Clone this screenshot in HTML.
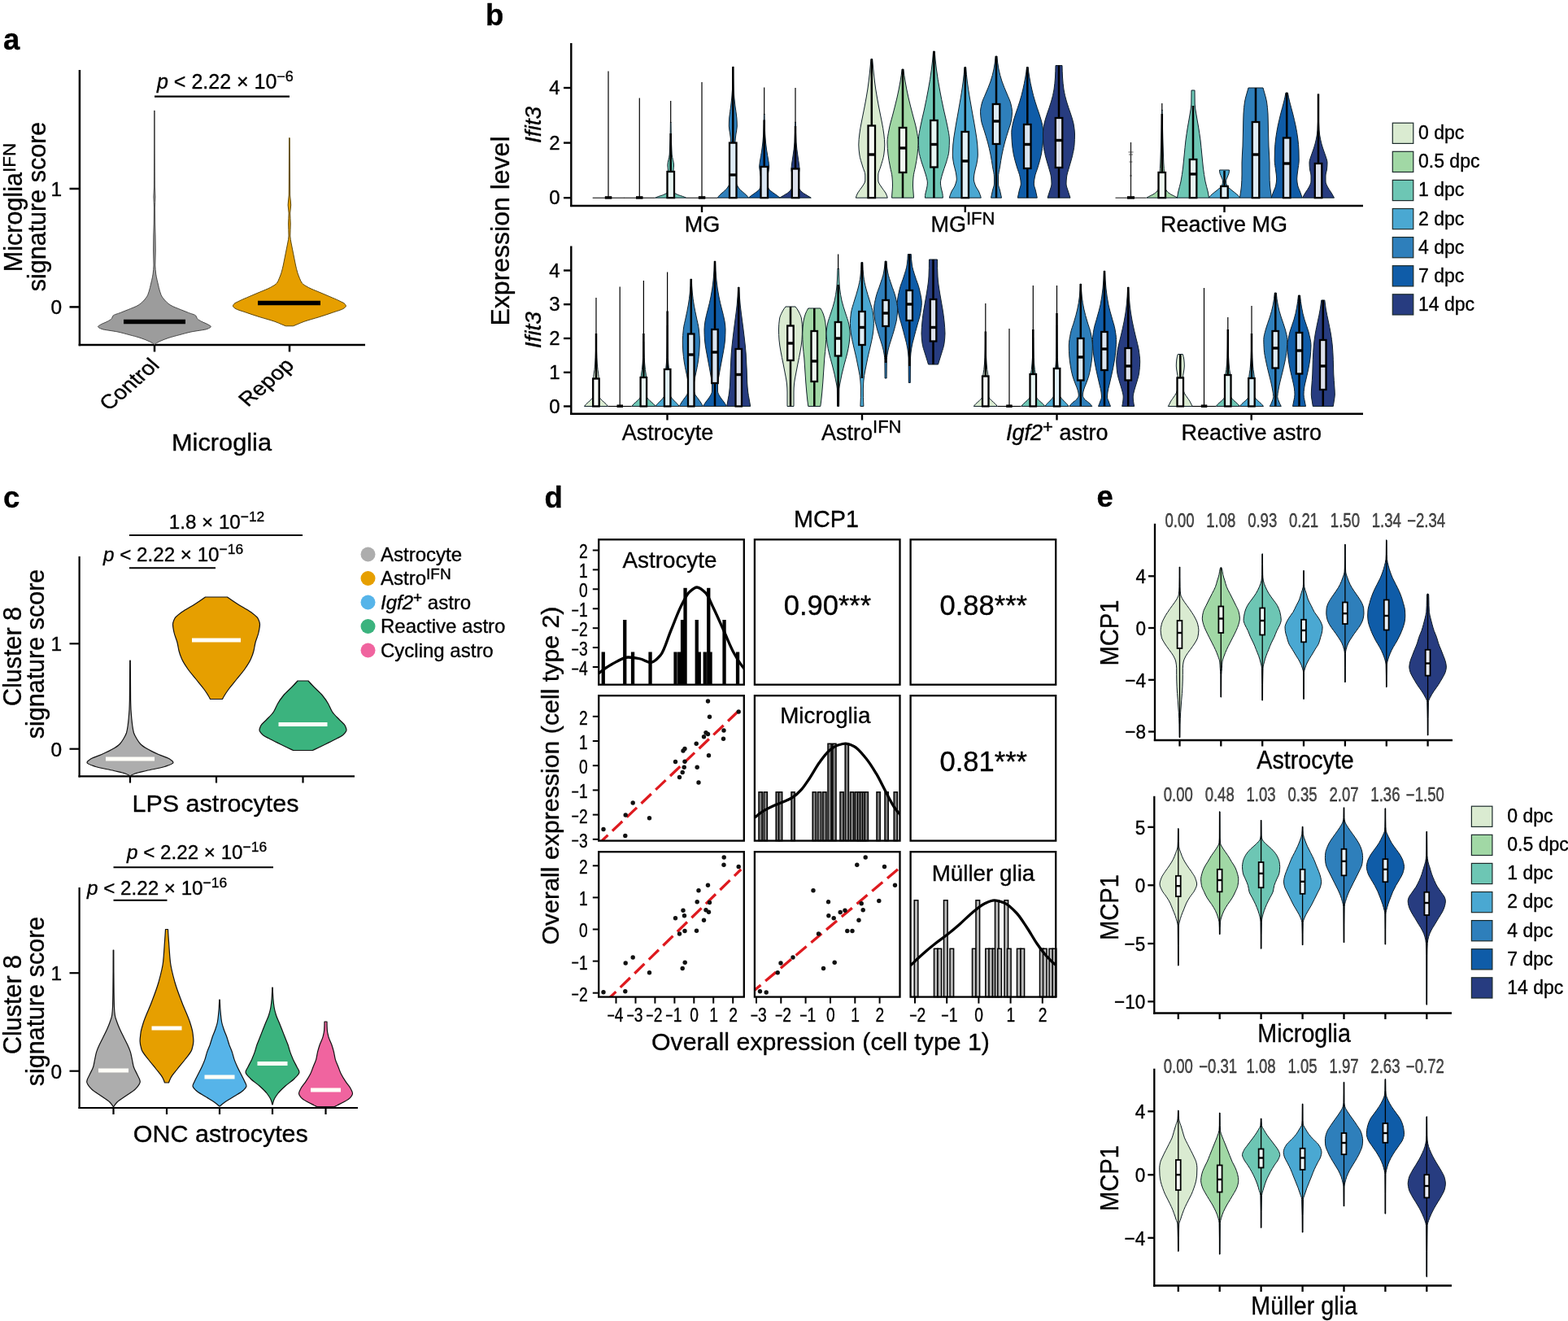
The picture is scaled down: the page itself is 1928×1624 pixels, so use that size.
<!DOCTYPE html>
<html lang="en">
<head>
<meta charset="utf-8">
<title>Figure</title>
<style>
html,body{margin:0;padding:0;background:#fff;}
body{width:1928px;height:1624px;overflow:hidden;}
svg{display:block;}
text{font-family:"Liberation Sans", sans-serif;stroke:#000;stroke-width:0.35px;stroke-linejoin:round;}
</style>
</head>
<body>
<svg width="1928" height="1624" viewBox="0 0 1928 1624" role="img" aria-label="Figure panels a to e">
<rect width="1928" height="1624" fill="#fff"/>
<g id="panel-a">
<text transform="translate(4 60.6)" font-size="36.5" text-anchor="start" font-weight="bold" stroke-width="0">a</text>
<line x1="97.9" y1="86" x2="97.9" y2="425.2" stroke="#000" stroke-width="2.5"/>
<line x1="96.7" y1="424" x2="449" y2="424" stroke="#000" stroke-width="2.5"/>
<line x1="85.5" y1="232" x2="97.9" y2="232" stroke="#000" stroke-width="2.5"/>
<text transform="translate(76 240.8) scale(1.050 1)" font-size="23.3" text-anchor="end">1</text>
<line x1="85.5" y1="377.4" x2="97.9" y2="377.4" stroke="#000" stroke-width="2.5"/>
<text transform="translate(76 386.2) scale(1.050 1)" font-size="23.3" text-anchor="end">0</text>
<line x1="190" y1="424" x2="190" y2="432.5" stroke="#000" stroke-width="2.5"/>
<line x1="356" y1="424" x2="356" y2="432.5" stroke="#000" stroke-width="2.5"/>
<path d="M190.2 136C190.2 167.3 190.2 198.7 190.4 230C190.4 234 190.9 238 190.9 242C190.9 246.3 190.4 250.7 190.4 255C190.4 261.7 190.5 268.3 190.6 275C190.7 280 190.9 285 191 290C191.1 296 191.2 302 191.2 308C191.2 314 190.8 320 190.8 326C190.8 329.7 191.3 333.3 191.7 337C192 339.5 192.7 342 193.2 344.5C193.8 347.5 194.5 350.5 195.3 353.5C196.1 356.5 196.8 359.6 198.1 362.6C199.2 365.1 201.2 367.5 203.5 370C205.1 371.8 207.1 373.5 209.9 375.3C212.8 377.1 218.2 379 222.6 380.8C225.5 382 228.6 383.2 231.6 384.4C234.6 385.6 239.7 386.8 240.7 388C241.7 389.2 241.6 390.5 242.5 391.7C243.4 392.9 245.8 394.1 247.9 395.3C250.1 396.5 253.9 397.8 255.9 399C257.3 399.9 259.3 400.7 259.3 401.6C259.3 402.5 257.1 403.5 254.9 404.4C252 405.6 240.4 406.8 234.9 408C229.4 409.2 225.4 410.4 220.9 411.6C216.4 412.8 211.6 414 207.9 415.2C204 416.5 200.8 417.7 197.9 419C195.9 419.9 194 420.7 192.6 421.6C191.6 422.2 190.8 422.8 190.2 423.4L189.6 423.4C189 422.8 188.2 422.2 187.2 421.6C185.8 420.7 183.9 419.9 181.9 419C179 417.7 175.8 416.5 171.9 415.2C168.2 414 163.4 412.8 158.9 411.6C154.4 410.4 150.4 409.2 144.9 408C139.4 406.8 127.8 405.6 124.9 404.4C122.7 403.5 120.5 402.5 120.5 401.6C120.5 400.7 122.5 399.9 123.9 399C125.9 397.8 129.7 396.5 131.9 395.3C134 394.1 136.4 392.9 137.3 391.7C138.2 390.5 138.1 389.2 139.1 388C140.1 386.8 145.2 385.6 148.2 384.4C151.2 383.2 154.3 382 157.2 380.8C161.6 379 167 377.1 169.9 375.3C172.7 373.5 174.7 371.8 176.3 370C178.6 367.5 180.6 365.1 181.7 362.6C183 359.6 183.7 356.5 184.5 353.5C185.3 350.5 186 347.5 186.6 344.5C187.1 342 187.8 339.5 188.1 337C188.5 333.3 189 329.7 189 326C189 320 188.6 314 188.6 308C188.6 302 188.7 296 188.8 290C188.9 285 189.1 280 189.2 275C189.3 268.3 189.4 261.7 189.4 255C189.4 250.7 188.9 246.3 188.9 242C188.9 238 189.4 234 189.4 230C189.6 198.7 189.6 167.3 189.6 136Z" fill="#9C9C9C" stroke="#3a3a3a" stroke-width="0.9" stroke-linejoin="round"/>
<path d="M356.2 169.5C356.3 188 356.4 206.5 356.5 225C356.5 230 356.5 235 356.6 240C356.7 244 357.7 248 357.7 252C357.7 255.3 356.7 258.7 356.7 262C356.7 266.3 357.2 270.7 357.2 275C357.2 280 356.8 285 356.8 290C356.8 293 357.6 296 358.1 299C358.6 302 359.3 305 359.9 308C360.5 311 361.1 314 361.7 317C362.3 320 362.8 323 363.5 326C364.2 329.1 364.9 332.3 365.9 335.4C366.6 337.8 367.6 340.2 368.6 342.6C369.4 344.4 370 346.2 371.3 348C372.7 349.8 376.2 351.7 379.5 353.5C382.8 355.3 387.9 357.2 392.2 359C396.4 360.8 400.7 362.6 404.9 364.4C409.2 366.3 413.9 368.1 417.6 370C419.9 371.2 422.9 372.3 423.9 373.5C424.6 374.4 425.4 375.3 425.4 376.2C425.4 377.1 424.1 378.1 422.9 379C420.6 380.8 413.6 382.6 408.5 384.4C403.4 386.2 397.9 388 392.2 389.8C386.4 391.6 379 393.5 373.9 395.3C370.5 396.5 367.9 397.8 364.9 399C363.4 399.6 361.9 400.2 360.4 400.8L351.4 400.8C349.9 400.2 348.4 399.6 346.9 399C343.9 397.8 341.3 396.5 337.9 395.3C332.8 393.5 325.4 391.6 319.6 389.8C313.9 388 308.4 386.2 303.3 384.4C298.2 382.6 291.2 380.8 288.9 379C287.7 378.1 286.4 377.1 286.4 376.2C286.4 375.3 287.2 374.4 287.9 373.5C288.9 372.3 291.9 371.2 294.2 370C297.9 368.1 302.6 366.3 306.9 364.4C311.1 362.6 315.4 360.8 319.6 359C323.9 357.2 329 355.3 332.3 353.5C335.6 351.7 339.1 349.8 340.5 348C341.8 346.2 342.4 344.4 343.2 342.6C344.2 340.2 345.2 337.8 345.9 335.4C346.9 332.3 347.6 329.1 348.3 326C349 323 349.5 320 350.1 317C350.7 314 351.3 311 351.9 308C352.5 305 353.2 302 353.7 299C354.2 296 355 293 355 290C355 285 354.6 280 354.6 275C354.6 270.7 355.1 266.3 355.1 262C355.1 258.7 354.1 255.3 354.1 252C354.1 248 355.1 244 355.2 240C355.3 235 355.3 230 355.3 225C355.4 206.5 355.5 188 355.6 169.5Z" fill="#E69F00" stroke="#4a3800" stroke-width="0.9" stroke-linejoin="round"/>
<line x1="152" y1="395.5" x2="228" y2="395.5" stroke="#000" stroke-width="5.5"/>
<line x1="317" y1="372.5" x2="394" y2="372.5" stroke="#000" stroke-width="5.5"/>
<line x1="190" y1="118.7" x2="356" y2="118.7" stroke="#000" stroke-width="2.3"/>
<text transform="translate(193 108.8)" font-size="25" text-anchor="start"><tspan font-style="italic">p</tspan> &lt; 2.22 × 10<tspan font-size="18" dy="-9">−6</tspan></text>
<text transform="translate(197.5 450.5) scale(1.150 1) rotate(-45)" font-size="24.3" text-anchor="end">Control</text>
<text transform="translate(363 450.5) scale(1.150 1) rotate(-45)" font-size="24.3" text-anchor="end">Repop</text>
<text transform="translate(272.5 554) scale(1.040 1)" font-size="29.6" text-anchor="middle">Microglia</text>
<text transform="translate(27.3 255) rotate(-90)" font-size="30.5" text-anchor="middle">Microglia<tspan font-size="22.5" dy="-8.3">IFN</tspan></text>
<text transform="translate(56 254) rotate(-90)" font-size="30.5" text-anchor="middle">signature score</text>
</g>
<g id="panel-c">
<text transform="translate(4 624.3)" font-size="36.5" text-anchor="start" font-weight="bold" stroke-width="0">c</text>
<line x1="97.6" y1="684" x2="97.6" y2="955.4" stroke="#000" stroke-width="2.2"/>
<line x1="96.5" y1="954.3" x2="436" y2="954.3" stroke="#000" stroke-width="2.2"/>
<line x1="85.5" y1="791.3" x2="97.6" y2="791.3" stroke="#000" stroke-width="2.2"/>
<text transform="translate(76 800.1) scale(1.050 1)" font-size="23.3" text-anchor="end">1</text>
<line x1="85.5" y1="920.7" x2="97.6" y2="920.7" stroke="#000" stroke-width="2.2"/>
<text transform="translate(76 929.5) scale(1.050 1)" font-size="23.3" text-anchor="end">0</text>
<line x1="160" y1="954.3" x2="160" y2="962.5" stroke="#000" stroke-width="2.2"/>
<line x1="266" y1="954.3" x2="266" y2="962.5" stroke="#000" stroke-width="2.2"/>
<line x1="372.5" y1="954.3" x2="372.5" y2="962.5" stroke="#000" stroke-width="2.2"/>
<path d="M160.3 812C160.3 828 160.4 844 160.6 860C160.7 864.2 160.8 868.3 161 872.5C161.2 876 161.5 879.5 161.8 883C162.1 886 162.4 889 162.8 892C163.2 895 163.7 898 164.5 901C165.2 903.3 166.6 905.7 168 908C169.4 910.3 170.8 912.7 173 915C174.6 916.7 177.3 918.3 180 920C184.1 922.5 189.4 925 195 927.5C198.7 929.2 205 930.8 207.5 932.5C210 934.2 213 935.8 213 937.5C213 939.2 207.3 940.8 202.5 942.5C197.7 944.2 187 945.8 180 947.5C175.1 948.7 169 949.8 166 951C163.4 952 161.2 953 160.3 954L159.7 954C158.8 953 156.6 952 154 951C151 949.8 144.9 948.7 140 947.5C133 945.8 122.3 944.2 117.5 942.5C112.7 940.8 107 939.2 107 937.5C107 935.8 110 934.2 112.5 932.5C115 930.8 121.3 929.2 125 927.5C130.6 925 135.9 922.5 140 920C142.7 918.3 145.4 916.7 147 915C149.2 912.7 150.6 910.3 152 908C153.4 905.7 154.8 903.3 155.5 901C156.3 898 156.8 895 157.2 892C157.6 889 157.9 886 158.2 883C158.5 879.5 158.8 876 159 872.5C159.2 868.3 159.3 864.2 159.4 860C159.6 844 159.7 828 159.7 812Z" fill="#ADADAD" stroke="#111" stroke-width="1.2" stroke-linejoin="round"/>
<path d="M279.5 734C283.4 736.8 287.6 739.7 292 742.5C297.2 745.8 304.1 749.2 308.5 752.5C311.8 755 315.7 757.5 317 760C318.3 762.5 319.5 765 319.5 767.5C319.5 770.8 318.7 774.2 318 777.5C317.2 781.7 315 785.8 314 790C313.2 793.3 312.8 796.7 312 800C311.2 803.3 310 806.7 308.5 810C306.7 814.2 303.9 818.3 301 822.5C298.1 826.7 294.3 830.8 291 835C287.7 839.2 284 843.3 281 847.5C279.2 850 277.5 852.5 276 855C275.1 856.5 274.3 858 273.5 859.5L258.5 859.5C257.7 858 256.9 856.5 256 855C254.5 852.5 252.8 850 251 847.5C248 843.3 244.3 839.2 241 835C237.7 830.8 233.9 826.7 231 822.5C228.1 818.3 225.3 814.2 223.5 810C222 806.7 220.8 803.3 220 800C219.2 796.7 218.8 793.3 218 790C217 785.8 214.8 781.7 214 777.5C213.3 774.2 212.5 770.8 212.5 767.5C212.5 765 213.7 762.5 215 760C216.3 757.5 220.2 755 223.5 752.5C227.9 749.2 234.8 745.8 240 742.5C244.4 739.7 248.6 736.8 252.5 734Z" fill="#E69F00" stroke="#111" stroke-width="1.2" stroke-linejoin="round"/>
<path d="M379 837C381.4 839.7 383.9 842.3 386.5 845C389.7 848.3 393.8 851.7 396.5 855C399.2 858.3 401.6 861.7 403.5 865C405.4 868.3 406.4 871.7 408.5 875C410.6 878.3 414.4 881.7 417.5 885C419.8 887.5 423.4 890 424.5 892.5C425.2 894.2 426 895.8 426 897.5C426 899.6 423.7 901.7 421.5 903.8C419.3 905.8 414 907.9 410 910C405.2 912.5 400.1 915 395 917.5C391.6 919.2 388.1 920.8 384.5 922.5L360.5 922.5C356.9 920.8 353.4 919.2 350 917.5C344.9 915 339.8 912.5 335 910C331 907.9 325.7 905.8 323.5 903.8C321.3 901.7 319 899.6 319 897.5C319 895.8 319.8 894.2 320.5 892.5C321.6 890 325.2 887.5 327.5 885C330.6 881.7 334.4 878.3 336.5 875C338.6 871.7 339.6 868.3 341.5 865C343.4 861.7 345.8 858.3 348.5 855C351.2 851.7 355.3 848.3 358.5 845C361.1 842.3 363.6 839.7 366 837Z" fill="#3BB37E" stroke="#111" stroke-width="1.2" stroke-linejoin="round"/>
<line x1="130" y1="933" x2="190" y2="933" stroke="#FFFEF8" stroke-width="5"/>
<line x1="236" y1="787" x2="296" y2="787" stroke="#FFFEF8" stroke-width="5"/>
<line x1="342.5" y1="890.5" x2="402.5" y2="890.5" stroke="#FFFEF8" stroke-width="5"/>
<line x1="159" y1="658" x2="372" y2="658" stroke="#000" stroke-width="2"/>
<line x1="159" y1="698.2" x2="265" y2="698.2" stroke="#000" stroke-width="2"/>
<text transform="translate(266.5 650)" font-size="24.2" text-anchor="middle">1.8 × 10<tspan font-size="17.4" dy="-8.7">−12</tspan></text>
<text transform="translate(127 690)" font-size="24.2" text-anchor="start"><tspan font-style="italic">p</tspan> &lt; 2.22 × 10<tspan font-size="17.4" dy="-8.7">−16</tspan></text>
<text transform="translate(265 997.5) scale(1.040 1)" font-size="29.3" text-anchor="middle">LPS astrocytes</text>
<text transform="translate(25.5 807) rotate(-90)" font-size="30.5" text-anchor="middle">Cluster 8</text>
<text transform="translate(54 804) rotate(-90)" font-size="30.5" text-anchor="middle">signature score</text>
<circle cx="452.5" cy="681.5" r="9" fill="#ADADAD"/>
<text transform="translate(468 689.8)" font-size="24" text-anchor="start">Astrocyte</text>
<circle cx="452.5" cy="711" r="9" fill="#E69F00"/>
<text transform="translate(468 719.3)" font-size="24" text-anchor="start">Astro<tspan font-size="19" dy="-7.5">IFN</tspan></text>
<circle cx="452.5" cy="740.5" r="9" fill="#56B4E9"/>
<text transform="translate(468 748.8)" font-size="24" text-anchor="start"><tspan font-style="italic">Igf2</tspan><tspan font-size="19" dy="-7.5">+</tspan><tspan dy="7.5"> astro</tspan></text>
<circle cx="452.5" cy="770" r="9" fill="#3BB37E"/>
<text transform="translate(468 778.3)" font-size="24" text-anchor="start">Reactive astro</text>
<circle cx="452.5" cy="799.5" r="9" fill="#F0649F"/>
<text transform="translate(468 807.8)" font-size="24" text-anchor="start">Cycling astro</text>
<line x1="97.6" y1="1091" x2="97.6" y2="1363.1" stroke="#000" stroke-width="2.2"/>
<line x1="96.5" y1="1362" x2="440" y2="1362" stroke="#000" stroke-width="2.2"/>
<line x1="85.5" y1="1196.2" x2="97.6" y2="1196.2" stroke="#000" stroke-width="2.2"/>
<text transform="translate(76 1205) scale(1.050 1)" font-size="23.3" text-anchor="end">1</text>
<line x1="85.5" y1="1316.7" x2="97.6" y2="1316.7" stroke="#000" stroke-width="2.2"/>
<text transform="translate(76 1325.5) scale(1.050 1)" font-size="23.3" text-anchor="end">0</text>
<line x1="139.5" y1="1362" x2="139.5" y2="1370" stroke="#000" stroke-width="2.2"/>
<line x1="205" y1="1362" x2="205" y2="1370" stroke="#000" stroke-width="2.2"/>
<line x1="270" y1="1362" x2="270" y2="1370" stroke="#000" stroke-width="2.2"/>
<line x1="335" y1="1362" x2="335" y2="1370" stroke="#000" stroke-width="2.2"/>
<line x1="400.5" y1="1362" x2="400.5" y2="1370" stroke="#000" stroke-width="2.2"/>
<path d="M139.8 1168C139.8 1185.3 139.9 1202.7 140.1 1220C140.2 1226 140.3 1232 140.5 1238C140.6 1241.3 140.9 1244.7 141.3 1248C141.7 1251 143 1254 144 1257C145 1260 146.4 1263 147.7 1266C149.1 1269.1 150.7 1272.1 152.2 1275.2C153.7 1278.2 155.3 1281.3 156.7 1284.3C158.1 1287.3 159.5 1290.4 160.4 1293.4C161.3 1296.4 161.8 1299.4 162.4 1302.4C163.1 1305.4 163.4 1308.5 164.3 1311.5C165.2 1314.5 167.2 1317.6 168.5 1320.6C169.8 1323.6 172.3 1326.7 172.3 1329.7C172.3 1332.7 169.3 1335.7 166.7 1338.7C164.1 1341.7 158.2 1344.8 154 1347.8C150.7 1350.2 146.3 1352.6 144 1355C142.2 1356.8 140.7 1358.7 139.8 1360.5L139.2 1360.5C138.3 1358.7 136.8 1356.8 135 1355C132.7 1352.6 128.3 1350.2 125 1347.8C120.8 1344.8 114.9 1341.7 112.3 1338.7C109.7 1335.7 106.7 1332.7 106.7 1329.7C106.7 1326.7 109.2 1323.6 110.5 1320.6C111.8 1317.6 113.8 1314.5 114.7 1311.5C115.6 1308.5 115.9 1305.4 116.6 1302.4C117.2 1299.4 117.7 1296.4 118.6 1293.4C119.5 1290.4 120.9 1287.3 122.3 1284.3C123.7 1281.3 125.3 1278.2 126.8 1275.2C128.3 1272.1 129.9 1269.1 131.3 1266C132.6 1263 134 1260 135 1257C136 1254 137.3 1251 137.7 1248C138.1 1244.7 138.4 1241.3 138.5 1238C138.7 1232 138.8 1226 138.9 1220C139.1 1202.7 139.2 1185.3 139.2 1168Z" fill="#ADADAD" stroke="#111" stroke-width="1.2" stroke-linejoin="round"/>
<path d="M206.5 1142.5C206.8 1147.5 207.1 1152.5 207.5 1157.5C208.1 1165.8 208.5 1174.2 209.4 1182.5C210.3 1190.8 212.7 1199.2 215 1207.5C217.3 1215.8 220.6 1224.2 223.8 1232.5C226.9 1240.8 231.2 1249.2 233.8 1257.5C235 1261.7 236.5 1265.8 237 1270C237.4 1273.3 237.9 1276.7 237.9 1280C237.9 1283.3 237 1286.7 236 1290C234.8 1294.2 230.6 1298.3 227.5 1302.5C224.4 1306.7 220.7 1310.8 217.5 1315C214.9 1318.3 211.7 1321.7 210 1325C209 1327 208.1 1329 207.5 1331L202.5 1331C201.9 1329 201 1327 200 1325C198.3 1321.7 195.1 1318.3 192.5 1315C189.3 1310.8 185.6 1306.7 182.5 1302.5C179.4 1298.3 175.2 1294.2 174 1290C173 1286.7 172.1 1283.3 172.1 1280C172.1 1276.7 172.6 1273.3 173 1270C173.5 1265.8 175 1261.7 176.2 1257.5C178.8 1249.2 183.1 1240.8 186.2 1232.5C189.4 1224.2 192.7 1215.8 195 1207.5C197.3 1199.2 199.7 1190.8 200.6 1182.5C201.5 1174.2 201.9 1165.8 202.5 1157.5C202.9 1152.5 203.2 1147.5 203.5 1142.5Z" fill="#E69F00" stroke="#111" stroke-width="1.2" stroke-linejoin="round"/>
<path d="M270.3 1229C270.4 1232.7 270.6 1236.3 270.8 1240C271 1242.7 271.2 1245.3 271.5 1248C271.8 1251 272.1 1254 272.7 1257C273.3 1260 274.4 1263 275.4 1266C276.4 1269.1 277.9 1272.1 279 1275.2C280 1278.2 280.8 1281.3 281.8 1284.3C282.9 1287.3 284.4 1290.4 285.4 1293.4C286.4 1296.4 287 1299.4 288 1302.4C289 1305.4 290.4 1308.5 291.8 1311.5C293.2 1314.5 294.8 1317.6 296.3 1320.6C297.8 1323.6 299.6 1326.7 300.9 1329.7C301.7 1331.5 303 1333.2 303 1335C303 1336.8 300.8 1338.7 299 1340.5C296.7 1342.9 291.8 1345.4 288 1347.8C284.3 1350.2 279.7 1352.6 276.4 1355C274.1 1356.7 272.1 1358.3 270.3 1360L269.7 1360C267.9 1358.3 265.9 1356.7 263.6 1355C260.3 1352.6 255.7 1350.2 252 1347.8C248.2 1345.4 243.3 1342.9 241 1340.5C239.2 1338.7 237 1336.8 237 1335C237 1333.2 238.3 1331.5 239.1 1329.7C240.4 1326.7 242.2 1323.6 243.7 1320.6C245.2 1317.6 246.8 1314.5 248.2 1311.5C249.6 1308.5 251 1305.4 252 1302.4C253 1299.4 253.6 1296.4 254.6 1293.4C255.6 1290.4 257.1 1287.3 258.2 1284.3C259.2 1281.3 260 1278.2 261 1275.2C262.1 1272.1 263.6 1269.1 264.6 1266C265.6 1263 266.7 1260 267.3 1257C267.9 1254 268.2 1251 268.5 1248C268.8 1245.3 269 1242.7 269.2 1240C269.4 1236.3 269.6 1232.7 269.7 1229Z" fill="#56B4E9" stroke="#111" stroke-width="1.2" stroke-linejoin="round"/>
<path d="M335.3 1214C335.3 1218.7 335.6 1223.3 335.9 1228C336.1 1231.7 336.6 1235.3 337.2 1239C337.7 1242 338.6 1245 339.5 1248C340.4 1251 342 1254 343.2 1257C344.4 1260 345.6 1263 346.8 1266C348 1269.1 349.2 1272.1 350.4 1275.2C351.6 1278.2 352.9 1281.3 354 1284.3C355.1 1287.3 355.7 1290.4 356.8 1293.4C357.8 1296.4 359.1 1299.4 360.4 1302.4C361.8 1305.4 363.5 1308.5 365 1311.5C366 1313.7 368 1315.8 368 1318C368 1320.7 364.5 1323.3 362 1326C359.2 1329 354.3 1332 351 1335C347.7 1338 344.3 1341 342 1344C339.7 1347 337.5 1350 336.5 1353C336 1354.6 335.5 1356.2 335.3 1357.8L334.7 1357.8C334.5 1356.2 334 1354.6 333.5 1353C332.5 1350 330.3 1347 328 1344C325.7 1341 322.3 1338 319 1335C315.7 1332 310.8 1329 308 1326C305.5 1323.3 302 1320.7 302 1318C302 1315.8 304 1313.7 305 1311.5C306.5 1308.5 308.2 1305.4 309.6 1302.4C310.9 1299.4 312.2 1296.4 313.2 1293.4C314.3 1290.4 314.9 1287.3 316 1284.3C317.1 1281.3 318.4 1278.2 319.6 1275.2C320.8 1272.1 322 1269.1 323.2 1266C324.4 1263 325.6 1260 326.8 1257C328 1254 329.6 1251 330.5 1248C331.4 1245 332.3 1242 332.8 1239C333.4 1235.3 333.9 1231.7 334.1 1228C334.4 1223.3 334.7 1218.7 334.7 1214Z" fill="#3BB37E" stroke="#111" stroke-width="1.2" stroke-linejoin="round"/>
<path d="M402 1256C402 1259.3 402.1 1262.7 402.3 1266C402.5 1269.1 403.3 1272.1 404.1 1275.2C404.9 1278.2 406.8 1281.3 407.8 1284.3C408.8 1287.3 409.8 1290.4 410.5 1293.4C411.2 1296.4 411.5 1299.4 412.3 1302.4C413.1 1305.4 414.7 1308.5 415.9 1311.5C417.1 1314.5 418 1317.6 419.5 1320.6C421 1323.6 423 1326.7 425 1329.7C427 1332.7 429.9 1335.7 431.4 1338.7C432.3 1340.5 433.5 1342.4 433.5 1344.2C433.5 1346 432 1347.8 430.5 1349.6C429 1351.4 425.4 1353.2 422.3 1355C420.2 1356.2 417.4 1357.5 415 1358.7C413.8 1359.3 412.7 1359.9 411.5 1360.5L389.5 1360.5C388.3 1359.9 387.2 1359.3 386 1358.7C383.6 1357.5 380.8 1356.2 378.7 1355C375.6 1353.2 372 1351.4 370.5 1349.6C369 1347.8 367.5 1346 367.5 1344.2C367.5 1342.4 368.7 1340.5 369.6 1338.7C371.1 1335.7 374 1332.7 376 1329.7C378 1326.7 380 1323.6 381.5 1320.6C383 1317.6 383.9 1314.5 385.1 1311.5C386.3 1308.5 387.9 1305.4 388.7 1302.4C389.5 1299.4 389.8 1296.4 390.5 1293.4C391.2 1290.4 392.2 1287.3 393.2 1284.3C394.2 1281.3 396.1 1278.2 396.9 1275.2C397.7 1272.1 398.5 1269.1 398.7 1266C398.9 1262.7 399 1259.3 399 1256Z" fill="#F0649F" stroke="#111" stroke-width="1.2" stroke-linejoin="round"/>
<line x1="121" y1="1316" x2="158" y2="1316" stroke="#FFFEF8" stroke-width="5"/>
<line x1="186.5" y1="1264" x2="223.5" y2="1264" stroke="#FFFEF8" stroke-width="5"/>
<line x1="251.5" y1="1324" x2="288.5" y2="1324" stroke="#FFFEF8" stroke-width="5"/>
<line x1="316.5" y1="1307.5" x2="353.5" y2="1307.5" stroke="#FFFEF8" stroke-width="5"/>
<line x1="382" y1="1340" x2="419" y2="1340" stroke="#FFFEF8" stroke-width="5"/>
<line x1="139.5" y1="1066.2" x2="336" y2="1066.2" stroke="#000" stroke-width="2"/>
<line x1="139.5" y1="1106.8" x2="205.5" y2="1106.8" stroke="#000" stroke-width="2"/>
<text transform="translate(156 1055.5)" font-size="24.2" text-anchor="start"><tspan font-style="italic">p</tspan> &lt; 2.22 × 10<tspan font-size="17.4" dy="-8.7">−16</tspan></text>
<text transform="translate(107 1099.5)" font-size="24.2" text-anchor="start"><tspan font-style="italic">p</tspan> &lt; 2.22 × 10<tspan font-size="17.4" dy="-8.7">−16</tspan></text>
<text transform="translate(271.3 1404) scale(1.040 1)" font-size="29.3" text-anchor="middle">ONC astrocytes</text>
<text transform="translate(25.5 1235) rotate(-90)" font-size="30.5" text-anchor="middle">Cluster 8</text>
<text transform="translate(54 1231) rotate(-90)" font-size="30.5" text-anchor="middle">signature score</text>
</g>
<g id="panel-b">
<text transform="translate(597 31)" font-size="36.5" text-anchor="start" font-weight="bold" stroke-width="0">b</text>
<line x1="702.3" y1="53" x2="702.3" y2="254.1" stroke="#000" stroke-width="2.4"/>
<line x1="701.2" y1="253" x2="1676" y2="253" stroke="#000" stroke-width="2.4"/>
<line x1="693" y1="108" x2="702.3" y2="108" stroke="#000" stroke-width="2.4"/>
<text transform="translate(688.5 116.2)" font-size="24" text-anchor="end">4</text>
<line x1="693" y1="175.6" x2="702.3" y2="175.6" stroke="#000" stroke-width="2.4"/>
<text transform="translate(688.5 183.8)" font-size="24" text-anchor="end">2</text>
<line x1="693" y1="243.2" x2="702.3" y2="243.2" stroke="#000" stroke-width="2.4"/>
<text transform="translate(688.5 251.4)" font-size="24" text-anchor="end">0</text>
<line x1="863" y1="253" x2="863" y2="261" stroke="#000" stroke-width="2.4"/>
<line x1="1186.8" y1="253" x2="1186.8" y2="261" stroke="#000" stroke-width="2.4"/>
<line x1="1505.5" y1="253" x2="1505.5" y2="261" stroke="#000" stroke-width="2.4"/>
<line x1="728.7" y1="243.2" x2="767.3" y2="243.2" stroke="#000" stroke-width="1.1"/>
<line x1="748" y1="87.5" x2="748" y2="243.2" stroke="#000" stroke-width="1.2"/>
<rect x="743.8" y="241.2" width="8.5" height="3.5" fill="#000" stroke="none" stroke-width="0"/>
<line x1="767" y1="243.2" x2="805.6" y2="243.2" stroke="#000" stroke-width="1.1"/>
<line x1="786.3" y1="120.5" x2="786.3" y2="243.2" stroke="#000" stroke-width="1.2"/>
<rect x="782" y="241.2" width="8.5" height="3.5" fill="#000" stroke="none" stroke-width="0"/>
<path d="M825 150C825 163.3 825.4 176.7 826.2 190C826.5 194.3 828.5 198.7 828.5 203C828.5 205.3 828.1 207.7 827.9 210C827.5 214 826.7 218 826.7 222C826.7 226.7 827.1 231.3 828.2 236C828.5 237.2 831.2 238.3 833.7 239.5C835.1 240.2 837.9 240.8 839.7 241.5C841.2 242.1 842.5 242.6 843.7 243.2L805.7 243.2C806.9 242.6 808.2 242.1 809.7 241.5C811.5 240.8 814.3 240.2 815.7 239.5C818.2 238.3 820.9 237.2 821.2 236C822.3 231.3 822.7 226.7 822.7 222C822.7 218 821.9 214 821.5 210C821.3 207.7 820.9 205.3 820.9 203C820.9 198.7 822.9 194.3 823.2 190C824 176.7 824.4 163.3 824.4 150Z" fill="#6DC6B4" stroke="#10202a" stroke-width="1" stroke-linejoin="round"/>
<line x1="824.7" y1="124" x2="824.7" y2="151" stroke="#000" stroke-width="1.2"/>
<line x1="824.7" y1="164" x2="824.7" y2="211" stroke="#000" stroke-width="2.5"/>
<rect x="820.5" y="211" width="8.5" height="32.2" fill="#E8F6F3" stroke="#000" stroke-width="2.3"/>
<line x1="843.7" y1="243.2" x2="882.3" y2="243.2" stroke="#000" stroke-width="1.1"/>
<line x1="863" y1="101" x2="863" y2="243.2" stroke="#000" stroke-width="1.2"/>
<rect x="858.8" y="241.2" width="8.5" height="3.5" fill="#000" stroke="none" stroke-width="0"/>
<path d="M901.6 82C901.6 91.3 901.8 100.7 902.1 110C902.3 116.7 903.2 123.3 903.9 130C904.4 135 905.6 140 905.9 145C906.1 148.3 906.3 151.7 906.3 155C906.3 158.3 905.3 161.7 904.9 165C904.5 168.3 904 171.7 903.9 175C903.5 183.3 903.3 191.7 903.3 200C903.3 207.3 903.6 214.7 904.3 222C904.6 225 906.4 228 908.3 231C909.4 232.7 911.5 234.3 913.3 236C914.7 237.3 916.6 238.7 917.8 240C918.8 241.1 919.6 242.1 920.3 243.2L882.3 243.2C883 242.1 883.8 241.1 884.8 240C886 238.7 887.9 237.3 889.3 236C891.1 234.3 893.2 232.7 894.3 231C896.2 228 898 225 898.3 222C899 214.7 899.3 207.3 899.3 200C899.3 191.7 899.1 183.3 898.7 175C898.6 171.7 898.1 168.3 897.7 165C897.3 161.7 896.3 158.3 896.3 155C896.3 151.7 896.5 148.3 896.7 145C897 140 898.2 135 898.7 130C899.4 123.3 900.3 116.7 900.5 110C900.8 100.7 901 91.3 901 82Z" fill="#2E7FBB" stroke="#10202a" stroke-width="1" stroke-linejoin="round"/>
<line x1="901.3" y1="82" x2="901.3" y2="176" stroke="#000" stroke-width="2.5"/>
<rect x="897" y="175.6" width="8.5" height="67.6" fill="#DEEBF4" stroke="#000" stroke-width="2.3"/>
<line x1="897" y1="215" x2="905.5" y2="215" stroke="#000" stroke-width="3.4"/>
<path d="M940 140C940 148.3 940.3 156.7 940.7 165C941 171.7 941.8 178.3 942.7 185C943.3 189.3 944.3 193.7 944.9 198C945.2 200.3 945.7 202.7 945.7 205C945.7 207.3 945 209.7 944.7 212C944.2 216 943.2 220 943.2 224C943.2 226.7 944.1 229.3 945.2 232C945.9 233.7 948.6 235.3 950.7 237C952.2 238.2 954.2 239.3 955.7 240.5C956.9 241.4 958 242.3 959 243.2L920.4 243.2C921.4 242.3 922.5 241.4 923.7 240.5C925.2 239.3 927.2 238.2 928.7 237C930.8 235.3 933.5 233.7 934.2 232C935.3 229.3 936.2 226.7 936.2 224C936.2 220 935.2 216 934.7 212C934.4 209.7 933.7 207.3 933.7 205C933.7 202.7 934.2 200.3 934.5 198C935.1 193.7 936.1 189.3 936.7 185C937.6 178.3 938.4 171.7 938.7 165C939.1 156.7 939.4 148.3 939.4 140Z" fill="#0F5CA8" stroke="#10202a" stroke-width="1" stroke-linejoin="round"/>
<line x1="939.7" y1="107.5" x2="939.7" y2="141" stroke="#000" stroke-width="1.2"/>
<line x1="939.7" y1="147.5" x2="939.7" y2="205" stroke="#000" stroke-width="2.5"/>
<rect x="935.5" y="205" width="8.5" height="38.2" fill="#D9E5F1" stroke="#000" stroke-width="2.3"/>
<path d="M978.3 150C978.3 158.3 978.6 166.7 979 175C979.3 180.7 980.3 186.3 981 192C981.5 195.7 982.2 199.3 982.6 203C982.8 204.7 983 206.3 983 208C983 211.3 981.5 214.7 981.5 218C981.5 222 981.7 226 982 230C982.2 232 984.1 234 986 236C987.3 237.3 989.9 238.7 992 240C993.7 241.1 995.5 242.1 997.3 243.2L958.7 243.2C960.5 242.1 962.3 241.1 964 240C966.1 238.7 968.7 237.3 970 236C971.9 234 973.8 232 974 230C974.3 226 974.5 222 974.5 218C974.5 214.7 973 211.3 973 208C973 206.3 973.2 204.7 973.4 203C973.8 199.3 974.5 195.7 975 192C975.7 186.3 976.7 180.7 977 175C977.4 166.7 977.7 158.3 977.7 150Z" fill="#273C80" stroke="#10202a" stroke-width="1" stroke-linejoin="round"/>
<line x1="978" y1="108" x2="978" y2="151" stroke="#000" stroke-width="1.2"/>
<line x1="978" y1="155" x2="978" y2="207.5" stroke="#000" stroke-width="2.5"/>
<rect x="973.8" y="207.5" width="8.5" height="35.7" fill="#DCE0EB" stroke="#000" stroke-width="2.3"/>
<path d="M1072.6 72.5C1073.1 78.3 1073.7 84.2 1074.3 90C1075 96.7 1075.8 103.3 1076.8 110C1077.8 116.7 1079.1 123.3 1080.3 130C1081.5 136.7 1083.1 143.3 1084.3 150C1085.2 155 1086.3 160 1086.8 165C1087.3 169.3 1087.8 173.7 1087.8 178C1087.8 182 1087.3 186 1086.8 190C1086.2 195 1084.2 200 1082.8 205C1081.9 208.3 1079.8 211.7 1079.8 215C1079.8 217.3 1079.8 219.7 1079.8 222C1079.8 224.7 1082.2 227.3 1083.8 230C1085.2 232.3 1087.6 234.7 1088.8 237C1089.9 239.1 1090.8 241.1 1091.3 243.2L1052.3 243.2C1052.8 241.1 1053.7 239.1 1054.8 237C1056 234.7 1058.4 232.3 1059.8 230C1061.4 227.3 1063.8 224.7 1063.8 222C1063.8 219.7 1063.8 217.3 1063.8 215C1063.8 211.7 1061.7 208.3 1060.8 205C1059.4 200 1057.4 195 1056.8 190C1056.3 186 1055.8 182 1055.8 178C1055.8 173.7 1056.3 169.3 1056.8 165C1057.3 160 1058.4 155 1059.3 150C1060.5 143.3 1062.1 136.7 1063.3 130C1064.5 123.3 1065.8 116.7 1066.8 110C1067.8 103.3 1068.6 96.7 1069.3 90C1069.9 84.2 1070.5 78.3 1071 72.5Z" fill="#DAEBD1" stroke="#10202a" stroke-width="1" stroke-linejoin="round"/>
<line x1="1071.8" y1="72.5" x2="1071.8" y2="243.2" stroke="#000" stroke-width="2.5"/>
<rect x="1067.5" y="154.5" width="8.5" height="88.7" fill="#F9FCF8" stroke="#000" stroke-width="2.3"/>
<line x1="1067.5" y1="190" x2="1076" y2="190" stroke="#000" stroke-width="3.4"/>
<path d="M1110.8 85C1111.4 90 1112.2 95 1113 100C1114.1 106.7 1115.5 113.3 1117 120C1118.5 126.7 1120.3 133.3 1122 140C1123.7 146.7 1125.9 153.3 1127 160C1127.9 165 1129 170 1129 175C1129 180 1128.5 185 1128 190C1127.5 195 1126.4 200 1125.5 205C1124.7 209.3 1123.3 213.7 1123 218C1122.7 221.3 1122.5 224.7 1122.5 228C1122.5 230.7 1122.8 233.3 1123 236C1123.2 238.4 1123.3 240.8 1123.5 243.2L1096.5 243.2C1096.7 240.8 1096.8 238.4 1097 236C1097.2 233.3 1097.5 230.7 1097.5 228C1097.5 224.7 1097.3 221.3 1097 218C1096.7 213.7 1095.3 209.3 1094.5 205C1093.6 200 1092.5 195 1092 190C1091.5 185 1091 180 1091 175C1091 170 1092.1 165 1093 160C1094.1 153.3 1096.3 146.7 1098 140C1099.7 133.3 1101.5 126.7 1103 120C1104.5 113.3 1105.9 106.7 1107 100C1107.8 95 1108.6 90 1109.2 85Z" fill="#A1D8A5" stroke="#10202a" stroke-width="1" stroke-linejoin="round"/>
<line x1="1110" y1="85" x2="1110" y2="243.2" stroke="#000" stroke-width="2.5"/>
<rect x="1105.8" y="157" width="8.5" height="55" fill="#F0F9F1" stroke="#000" stroke-width="2.3"/>
<line x1="1105.8" y1="182" x2="1114.2" y2="182" stroke="#000" stroke-width="3.4"/>
<path d="M1149.2 63C1149.7 70.3 1150.5 77.7 1151.4 85C1152.4 93.3 1153.9 101.7 1155.4 110C1156.9 118.3 1158.6 126.7 1160.4 135C1161.8 141.7 1163.7 148.3 1164.9 155C1165.9 160.7 1167.4 166.3 1167.4 172C1167.4 176.3 1167.2 180.7 1166.9 185C1166.6 190 1164.8 195 1163.4 200C1162 205 1159.6 210 1158.4 215C1157.6 218.3 1156.4 221.7 1156.4 225C1156.4 227.3 1157 229.7 1157.4 232C1157.8 234 1158.6 236 1158.9 238C1159.1 239.7 1159.4 241.5 1159.4 243.2L1137.4 243.2C1137.4 241.5 1137.7 239.7 1137.9 238C1138.2 236 1139 234 1139.4 232C1139.8 229.7 1140.4 227.3 1140.4 225C1140.4 221.7 1139.2 218.3 1138.4 215C1137.2 210 1134.8 205 1133.4 200C1132 195 1130.2 190 1129.9 185C1129.6 180.7 1129.4 176.3 1129.4 172C1129.4 166.3 1130.9 160.7 1131.9 155C1133.1 148.3 1135 141.7 1136.4 135C1138.2 126.7 1139.9 118.3 1141.4 110C1142.9 101.7 1144.4 93.3 1145.4 85C1146.3 77.7 1147.1 70.3 1147.6 63Z" fill="#6DC6B4" stroke="#10202a" stroke-width="1" stroke-linejoin="round"/>
<line x1="1148.4" y1="63" x2="1148.4" y2="243.2" stroke="#000" stroke-width="2.5"/>
<rect x="1144.2" y="148" width="8.5" height="57.5" fill="#E8F6F3" stroke="#000" stroke-width="2.3"/>
<line x1="1144.2" y1="177.5" x2="1152.7" y2="177.5" stroke="#000" stroke-width="3.4"/>
<path d="M1187.6 82.5C1188 88.3 1188.6 94.2 1189.3 100C1190.1 106.7 1191.2 113.3 1192.3 120C1193.4 126.7 1194.6 133.3 1195.8 140C1197 146.7 1198.3 153.3 1199.3 160C1200.2 166 1201.4 172 1201.8 178C1202 182 1202.3 186 1202.3 190C1202.3 194 1201.5 198 1200.8 202C1200.2 205.3 1198.8 208.7 1198.3 212C1197.9 214.7 1197.3 217.3 1197.3 220C1197.3 222.7 1198.4 225.3 1199.3 228C1200.2 230.7 1202.7 233.3 1203.8 236C1204.8 238.4 1205.7 240.8 1206.3 243.2L1167.3 243.2C1167.9 240.8 1168.8 238.4 1169.8 236C1170.9 233.3 1173.4 230.7 1174.3 228C1175.2 225.3 1176.3 222.7 1176.3 220C1176.3 217.3 1175.7 214.7 1175.3 212C1174.8 208.7 1173.4 205.3 1172.8 202C1172.1 198 1171.3 194 1171.3 190C1171.3 186 1171.6 182 1171.8 178C1172.2 172 1173.4 166 1174.3 160C1175.3 153.3 1176.6 146.7 1177.8 140C1179 133.3 1180.2 126.7 1181.3 120C1182.4 113.3 1183.5 106.7 1184.3 100C1185 94.2 1185.6 88.3 1186 82.5Z" fill="#4AA8D2" stroke="#10202a" stroke-width="1" stroke-linejoin="round"/>
<line x1="1186.8" y1="82.5" x2="1186.8" y2="243.2" stroke="#000" stroke-width="2.5"/>
<rect x="1182.5" y="162" width="8.5" height="81.2" fill="#E2F1F8" stroke="#000" stroke-width="2.3"/>
<line x1="1182.5" y1="198" x2="1191" y2="198" stroke="#000" stroke-width="3.4"/>
<path d="M1225.8 69C1226.2 74.3 1227 79.7 1228 85C1228.9 90 1230.4 95 1232 100C1233.6 105 1236 110 1238 115C1239.7 119.3 1242.1 123.7 1243 128C1243.7 131.2 1244.5 134.3 1244.5 137.5C1244.5 141 1244 144.5 1243.5 148C1242.9 152 1241.2 156 1240 160C1238.5 165 1236.8 170 1235.5 175C1234.2 180 1233 185 1232 190C1231 195 1230.3 200 1229.5 205C1228.8 209.3 1227.5 213.7 1227.5 218C1227.5 220.7 1227.5 223.3 1227.5 226C1227.5 228.7 1228.9 231.3 1229.5 234C1230.2 237.1 1230.9 240.1 1231.5 243.2L1218.5 243.2C1219.1 240.1 1219.8 237.1 1220.5 234C1221.1 231.3 1222.5 228.7 1222.5 226C1222.5 223.3 1222.5 220.7 1222.5 218C1222.5 213.7 1221.2 209.3 1220.5 205C1219.7 200 1219 195 1218 190C1217 185 1215.8 180 1214.5 175C1213.2 170 1211.5 165 1210 160C1208.8 156 1207.1 152 1206.5 148C1206 144.5 1205.5 141 1205.5 137.5C1205.5 134.3 1206.3 131.2 1207 128C1207.9 123.7 1210.3 119.3 1212 115C1214 110 1216.4 105 1218 100C1219.6 95 1221.1 90 1222 85C1223 79.7 1223.8 74.3 1224.2 69Z" fill="#2E7FBB" stroke="#10202a" stroke-width="1" stroke-linejoin="round"/>
<line x1="1225" y1="69" x2="1225" y2="243.2" stroke="#000" stroke-width="2.5"/>
<rect x="1220.8" y="128" width="8.5" height="49" fill="#DEEBF4" stroke="#000" stroke-width="2.3"/>
<line x1="1220.8" y1="149" x2="1229.2" y2="149" stroke="#000" stroke-width="3.4"/>
<path d="M1264.1 82.5C1264.5 86.7 1265.1 90.8 1265.8 95C1266.6 100 1267.7 105 1268.8 110C1269.9 115 1271.3 120 1272.8 125C1274.3 130 1276.2 135 1277.8 140C1279 144 1280.5 148 1281.3 152C1282 155.5 1282.8 159 1282.8 162.5C1282.8 166.7 1282.6 170.8 1282.3 175C1282 180 1281.2 185 1280.3 190C1279.4 195 1277.7 200 1276.3 205C1275.1 209.3 1273 213.7 1272.3 218C1271.8 220.7 1271.3 223.3 1271.3 226C1271.3 228.7 1272.7 231.3 1273.3 234C1274 237.1 1274.7 240.1 1275.3 243.2L1251.3 243.2C1251.9 240.1 1252.6 237.1 1253.3 234C1253.9 231.3 1255.3 228.7 1255.3 226C1255.3 223.3 1254.8 220.7 1254.3 218C1253.6 213.7 1251.5 209.3 1250.3 205C1248.9 200 1247.2 195 1246.3 190C1245.4 185 1244.6 180 1244.3 175C1244 170.8 1243.8 166.7 1243.8 162.5C1243.8 159 1244.6 155.5 1245.3 152C1246.1 148 1247.6 144 1248.8 140C1250.4 135 1252.3 130 1253.8 125C1255.3 120 1256.7 115 1257.8 110C1258.9 105 1260 100 1260.8 95C1261.5 90.8 1262.1 86.7 1262.5 82.5Z" fill="#0F5CA8" stroke="#10202a" stroke-width="1" stroke-linejoin="round"/>
<line x1="1263.3" y1="82.5" x2="1263.3" y2="243.2" stroke="#000" stroke-width="2.5"/>
<rect x="1259" y="153" width="8.5" height="54" fill="#D9E5F1" stroke="#000" stroke-width="2.3"/>
<line x1="1259" y1="177.5" x2="1267.5" y2="177.5" stroke="#000" stroke-width="3.4"/>
<path d="M1306 80.5C1306 85.3 1306.3 90.2 1306.5 95C1306.8 100 1307.3 105 1308 110C1308.7 115 1310.1 120 1311.5 125C1312.9 130 1314.9 135 1316.5 140C1317.7 144 1319.3 148 1320 152C1320.7 156.3 1321.5 160.7 1321.5 165C1321.5 169.3 1321.3 173.7 1321 178C1320.7 182.7 1319.5 187.3 1318.5 192C1317.5 196.7 1315.7 201.3 1314.5 206C1313.4 210 1311.9 214 1311.5 218C1311.2 220.7 1311 223.3 1311 226C1311 228.7 1312.2 231.3 1313 234C1313.9 237.1 1314.9 240.1 1316 243.2L1288 243.2C1289.1 240.1 1290.1 237.1 1291 234C1291.8 231.3 1293 228.7 1293 226C1293 223.3 1292.8 220.7 1292.5 218C1292.1 214 1290.6 210 1289.5 206C1288.3 201.3 1286.5 196.7 1285.5 192C1284.5 187.3 1283.3 182.7 1283 178C1282.7 173.7 1282.5 169.3 1282.5 165C1282.5 160.7 1283.3 156.3 1284 152C1284.7 148 1286.3 144 1287.5 140C1289.1 135 1291.1 130 1292.5 125C1293.9 120 1295.3 115 1296 110C1296.7 105 1297.2 100 1297.5 95C1297.7 90.2 1298 85.3 1298 80.5Z" fill="#273C80" stroke="#10202a" stroke-width="1" stroke-linejoin="round"/>
<line x1="1302" y1="80.5" x2="1302" y2="243.2" stroke="#000" stroke-width="2.5"/>
<rect x="1297.8" y="145" width="8.5" height="61" fill="#DCE0EB" stroke="#000" stroke-width="2.3"/>
<line x1="1297.8" y1="172.5" x2="1306.2" y2="172.5" stroke="#000" stroke-width="3.4"/>
<line x1="1371.5" y1="243.2" x2="1409.5" y2="243.2" stroke="#111" stroke-width="1"/>
<line x1="1390.5" y1="175" x2="1390.5" y2="243.2" stroke="#111" stroke-width="1.2"/>
<line x1="1387.5" y1="187" x2="1393.5" y2="187" stroke="#333" stroke-width="0.8"/>
<line x1="1388" y1="190" x2="1393" y2="190" stroke="#333" stroke-width="0.8"/>
<line x1="1388.5" y1="199" x2="1392.5" y2="199" stroke="#333" stroke-width="0.8"/>
<line x1="1389" y1="216" x2="1392" y2="216" stroke="#333" stroke-width="0.8"/>
<rect x="1386" y="241.2" width="9" height="3.5" fill="#000" stroke="none" stroke-width="0"/>
<path d="M1429.1 135C1429.2 146.7 1429.5 158.3 1429.8 170C1430.1 180 1430.4 190 1430.8 200C1431 205 1431.5 210 1431.6 215C1431.7 219.3 1431.7 223.7 1431.8 228C1431.9 230.3 1433.2 232.7 1434.8 235C1435.7 236.3 1437.7 237.7 1439.8 239C1441.1 239.8 1443.2 240.7 1444.8 241.5C1445.9 242.1 1446.9 242.6 1447.8 243.2L1409.8 243.2C1410.7 242.6 1411.7 242.1 1412.8 241.5C1414.4 240.7 1416.5 239.8 1417.8 239C1419.9 237.7 1421.9 236.3 1422.8 235C1424.4 232.7 1425.7 230.3 1425.8 228C1425.9 223.7 1425.9 219.3 1426 215C1426.1 210 1426.6 205 1426.8 200C1427.2 190 1427.5 180 1427.8 170C1428.1 158.3 1428.4 146.7 1428.5 135Z" fill="#A1D8A5" stroke="#10202a" stroke-width="1" stroke-linejoin="round"/>
<line x1="1428.8" y1="127" x2="1428.8" y2="136" stroke="#000" stroke-width="1.2"/>
<line x1="1428.8" y1="140" x2="1428.8" y2="212" stroke="#000" stroke-width="2.5"/>
<rect x="1424.5" y="212" width="8.5" height="31.2" fill="#F0F9F1" stroke="#000" stroke-width="2.3"/>
<path d="M1469 111C1469 116.7 1469.1 122.3 1469.2 128C1469.3 132 1470.2 136 1470.8 140C1471.6 145.3 1472.7 150.7 1473.6 156C1474.5 161.7 1475.4 167.3 1476.1 173C1476.8 178.7 1477.2 184.3 1477.8 190C1478.3 195.3 1478.8 200.7 1479.4 206C1480.1 211.7 1480.9 217.3 1482 223C1482.8 227.3 1484.4 231.7 1485.3 236C1485.8 238.4 1486.2 240.8 1486.5 243.2L1447.5 243.2C1447.8 240.8 1448.2 238.4 1448.7 236C1449.6 231.7 1451.2 227.3 1452 223C1453.1 217.3 1453.9 211.7 1454.6 206C1455.2 200.7 1455.7 195.3 1456.2 190C1456.8 184.3 1457.2 178.7 1457.9 173C1458.6 167.3 1459.5 161.7 1460.4 156C1461.3 150.7 1462.4 145.3 1463.2 140C1463.8 136 1464.7 132 1464.8 128C1464.9 122.3 1465 116.7 1465 111Z" fill="#6DC6B4" stroke="#10202a" stroke-width="1" stroke-linejoin="round"/>
<line x1="1467" y1="130" x2="1467" y2="196" stroke="#000" stroke-width="2.5"/>
<rect x="1462.8" y="196" width="8.5" height="47.2" fill="#E8F6F3" stroke="#000" stroke-width="2.3"/>
<line x1="1462.8" y1="214" x2="1471.2" y2="214" stroke="#000" stroke-width="3.4"/>
<path d="M1511.5 209C1511.5 210.3 1511.2 211.7 1511 213C1510.7 214.7 1509.6 216.3 1509 218C1508.4 219.7 1507.5 221.3 1507.5 223C1507.5 224.7 1507.9 226.3 1508.5 228C1509.1 229.7 1511.6 231.3 1513.5 233C1515 234.3 1516.9 235.7 1518.5 237C1519.9 238.2 1521.5 239.3 1522.5 240.5C1523.3 241.4 1524 242.3 1524.5 243.2L1486.5 243.2C1487 242.3 1487.7 241.4 1488.5 240.5C1489.5 239.3 1491.1 238.2 1492.5 237C1494.1 235.7 1496 234.3 1497.5 233C1499.4 231.3 1501.9 229.7 1502.5 228C1503.1 226.3 1503.5 224.7 1503.5 223C1503.5 221.3 1502.6 219.7 1502 218C1501.4 216.3 1500.3 214.7 1500 213C1499.8 211.7 1499.5 210.3 1499.5 209Z" fill="#4AA8D2" stroke="#10202a" stroke-width="1" stroke-linejoin="round"/>
<line x1="1505.5" y1="210" x2="1505.5" y2="229" stroke="#000" stroke-width="2.5"/>
<rect x="1501.2" y="229" width="8.5" height="14.2" fill="#E2F1F8" stroke="#000" stroke-width="2.3"/>
<path d="M1553 108C1553.7 110.3 1554.4 112.7 1555 115C1555.9 118.3 1557 121.7 1557.5 125C1558.2 130 1558.8 135 1559 140C1559.3 146.7 1559.3 153.3 1559.5 160C1559.7 166.7 1559.8 173.3 1560 180C1560.2 186.7 1561 193.3 1561 200C1561 205 1561 210 1561 215C1561 219.3 1561.2 223.7 1561.5 228C1561.7 230.7 1562.1 233.3 1562.5 236C1562.8 238.4 1563.2 240.8 1563.5 243.2L1524.5 243.2C1524.8 240.8 1525.2 238.4 1525.5 236C1525.9 233.3 1526.3 230.7 1526.5 228C1526.8 223.7 1527 219.3 1527 215C1527 210 1527 205 1527 200C1527 193.3 1527.8 186.7 1528 180C1528.2 173.3 1528.3 166.7 1528.5 160C1528.7 153.3 1528.7 146.7 1529 140C1529.2 135 1529.8 130 1530.5 125C1531 121.7 1532.1 118.3 1533 115C1533.6 112.7 1534.3 110.3 1535 108Z" fill="#2E7FBB" stroke="#10202a" stroke-width="1" stroke-linejoin="round"/>
<line x1="1544" y1="108" x2="1544" y2="150" stroke="#000" stroke-width="2.5"/>
<rect x="1539.8" y="150" width="8.5" height="93.2" fill="#DEEBF4" stroke="#000" stroke-width="2.3"/>
<line x1="1539.8" y1="190" x2="1548.2" y2="190" stroke="#000" stroke-width="3.4"/>
<path d="M1583.4 114C1584.1 117.7 1584.8 121.3 1585.7 125C1586.9 130 1588.5 135 1589.7 140C1590.9 145 1592.2 150 1593.2 155C1594.2 160 1595.1 165 1595.7 170C1596.3 175 1596.9 180 1597 185C1597.1 189 1597.2 193 1597.2 197C1597.2 201.3 1596.2 205.7 1595.7 210C1595.3 213.3 1594.7 216.7 1594.7 220C1594.7 222.7 1595.2 225.3 1595.7 228C1596.2 230.7 1597.7 233.3 1598.7 236C1599.6 238.4 1600.4 240.8 1601.2 243.2L1563.2 243.2C1564 240.8 1564.8 238.4 1565.7 236C1566.7 233.3 1568.2 230.7 1568.7 228C1569.2 225.3 1569.7 222.7 1569.7 220C1569.7 216.7 1569.1 213.3 1568.7 210C1568.2 205.7 1567.2 201.3 1567.2 197C1567.2 193 1567.3 189 1567.4 185C1567.5 180 1568.1 175 1568.7 170C1569.3 165 1570.2 160 1571.2 155C1572.2 150 1573.5 145 1574.7 140C1575.9 135 1577.5 130 1578.7 125C1579.6 121.3 1580.3 117.7 1581 114Z" fill="#0F5CA8" stroke="#10202a" stroke-width="1" stroke-linejoin="round"/>
<line x1="1582.2" y1="114" x2="1582.2" y2="170" stroke="#000" stroke-width="2.5"/>
<rect x="1578" y="169.5" width="8.5" height="73.7" fill="#D9E5F1" stroke="#000" stroke-width="2.3"/>
<line x1="1578" y1="201" x2="1586.5" y2="201" stroke="#000" stroke-width="3.4"/>
<path d="M1621.3 140C1621.3 146.7 1621.6 153.3 1622 160C1622.2 164 1623 168 1623.8 172C1624.4 175.3 1625.5 178.7 1626.5 182C1627.5 185.3 1629 188.7 1630 192C1630.8 194.7 1632 197.3 1632 200C1632 202.7 1631.8 205.3 1631.5 208C1631.2 210.7 1630 213.3 1630 216C1630 218.3 1630 220.7 1630 223C1630 225.3 1631.4 227.7 1632.5 230C1633.6 232.3 1635.6 234.7 1637 237C1638.2 239.1 1639.4 241.1 1640.5 243.2L1601.5 243.2C1602.6 241.1 1603.8 239.1 1605 237C1606.4 234.7 1608.4 232.3 1609.5 230C1610.6 227.7 1612 225.3 1612 223C1612 220.7 1612 218.3 1612 216C1612 213.3 1610.8 210.7 1610.5 208C1610.2 205.3 1610 202.7 1610 200C1610 197.3 1611.2 194.7 1612 192C1613 188.7 1614.5 185.3 1615.5 182C1616.5 178.7 1617.6 175.3 1618.2 172C1619 168 1619.8 164 1620 160C1620.4 153.3 1620.7 146.7 1620.7 140Z" fill="#273C80" stroke="#10202a" stroke-width="1" stroke-linejoin="round"/>
<line x1="1621" y1="115.5" x2="1621" y2="141" stroke="#000" stroke-width="1.2"/>
<line x1="1621" y1="115.5" x2="1621" y2="201" stroke="#000" stroke-width="2.5"/>
<rect x="1616.8" y="201" width="8.5" height="42.2" fill="#DCE0EB" stroke="#000" stroke-width="2.3"/>
<text transform="translate(863.5 284.5)" font-size="27" text-anchor="middle">MG</text>
<text transform="translate(1144.5 284.5)" font-size="27" text-anchor="start">MG<tspan font-size="22" dy="-8.3">IFN</tspan></text>
<text transform="translate(1505 284.5)" font-size="27" text-anchor="middle">Reactive MG</text>
<line x1="702.3" y1="302.5" x2="702.3" y2="509.9" stroke="#000" stroke-width="2.4"/>
<line x1="701.2" y1="508.8" x2="1676" y2="508.8" stroke="#000" stroke-width="2.4"/>
<line x1="693" y1="332.5" x2="702.3" y2="332.5" stroke="#000" stroke-width="2.4"/>
<text transform="translate(688.5 340.7)" font-size="24" text-anchor="end">4</text>
<line x1="693" y1="374.2" x2="702.3" y2="374.2" stroke="#000" stroke-width="2.4"/>
<text transform="translate(688.5 382.4)" font-size="24" text-anchor="end">3</text>
<line x1="693" y1="416" x2="702.3" y2="416" stroke="#000" stroke-width="2.4"/>
<text transform="translate(688.5 424.2)" font-size="24" text-anchor="end">2</text>
<line x1="693" y1="457.8" x2="702.3" y2="457.8" stroke="#000" stroke-width="2.4"/>
<text transform="translate(688.5 466)" font-size="24" text-anchor="end">1</text>
<line x1="693" y1="499.5" x2="702.3" y2="499.5" stroke="#000" stroke-width="2.4"/>
<text transform="translate(688.5 507.7)" font-size="24" text-anchor="end">0</text>
<line x1="820.5" y1="508.8" x2="820.5" y2="516.5" stroke="#000" stroke-width="2.4"/>
<line x1="1060" y1="508.8" x2="1060" y2="516.5" stroke="#000" stroke-width="2.4"/>
<line x1="1299.5" y1="508.8" x2="1299.5" y2="516.5" stroke="#000" stroke-width="2.4"/>
<line x1="1538.7" y1="508.8" x2="1538.7" y2="516.5" stroke="#000" stroke-width="2.4"/>
<path d="M733.3 420C733.3 426.5 733.5 433 733.8 439.5C734 444.5 734.5 449.5 735 454.5C735.3 457.5 736.2 460.5 736.2 463.5C736.2 466.2 735.7 468.8 735.6 471.5C735.4 475.5 735.2 479.5 735.2 483.5C735.2 485.2 736.1 486.8 737 488.5C737.7 489.8 739.2 491.2 740.5 492.5C741.8 493.8 743.7 495.2 745 496.5C746 497.5 746.8 498.5 747.5 499.5L718.5 499.5C719.2 498.5 720 497.5 721 496.5C722.3 495.2 724.2 493.8 725.5 492.5C726.8 491.2 728.3 489.8 729 488.5C729.9 486.8 730.8 485.2 730.8 483.5C730.8 479.5 730.6 475.5 730.4 471.5C730.3 468.8 729.8 466.2 729.8 463.5C729.8 460.5 730.7 457.5 731 454.5C731.5 449.5 732 444.5 732.2 439.5C732.5 433 732.7 426.5 732.7 420Z" fill="#DAEBD1" stroke="#10202a" stroke-width="1" stroke-linejoin="round"/>
<line x1="733" y1="366" x2="733" y2="421" stroke="#000" stroke-width="1.2"/>
<line x1="733" y1="410" x2="733" y2="466" stroke="#000" stroke-width="2.5"/>
<rect x="729.2" y="465.5" width="7.5" height="34" fill="#F9FCF8" stroke="#000" stroke-width="2.3"/>
<line x1="747.7" y1="499.5" x2="776.7" y2="499.5" stroke="#000" stroke-width="1.1"/>
<line x1="762.2" y1="352.5" x2="762.2" y2="499.5" stroke="#000" stroke-width="1.2"/>
<rect x="758.5" y="497.5" width="7.5" height="3.5" fill="#000" stroke="none" stroke-width="0"/>
<path d="M791.7 420C791.7 426.5 791.9 433 792.2 439.5C792.4 444.5 792.9 449.5 793.4 454.5C793.7 457.5 794.6 460.5 794.6 463.5C794.6 466.2 794.1 468.8 794 471.5C793.8 475.5 793.6 479.5 793.6 483.5C793.6 485.2 794.5 486.8 795.4 488.5C796.1 489.8 797.6 491.2 798.9 492.5C800.2 493.8 802.1 495.2 803.4 496.5C804.4 497.5 805.2 498.5 805.9 499.5L776.9 499.5C777.6 498.5 778.4 497.5 779.4 496.5C780.7 495.2 782.6 493.8 783.9 492.5C785.2 491.2 786.7 489.8 787.4 488.5C788.3 486.8 789.2 485.2 789.2 483.5C789.2 479.5 789 475.5 788.8 471.5C788.7 468.8 788.2 466.2 788.2 463.5C788.2 460.5 789.1 457.5 789.4 454.5C789.9 449.5 790.4 444.5 790.6 439.5C790.9 433 791.1 426.5 791.1 420Z" fill="#6DC6B4" stroke="#10202a" stroke-width="1" stroke-linejoin="round"/>
<line x1="791.4" y1="345" x2="791.4" y2="421" stroke="#000" stroke-width="1.2"/>
<line x1="791.4" y1="410" x2="791.4" y2="464" stroke="#000" stroke-width="2.5"/>
<rect x="787.6" y="464" width="7.5" height="35.5" fill="#E8F6F3" stroke="#000" stroke-width="2.3"/>
<path d="M820.9 400C820.9 413.2 821.1 426.3 821.4 439.5C821.5 444.5 822.1 449.5 822.6 454.5C822.9 457.5 823.8 460.5 823.8 463.5C823.8 466.2 823.3 468.8 823.2 471.5C823 475.5 822.8 479.5 822.8 483.5C822.8 484.8 823.8 486.1 824.6 487.4C825.5 488.9 826.8 490.3 828.1 491.8C829.4 493.3 831.3 494.7 832.6 496.2C833.6 497.3 834.4 498.4 835.1 499.5L806.1 499.5C806.8 498.4 807.6 497.3 808.6 496.2C809.9 494.7 811.8 493.3 813.1 491.8C814.4 490.3 815.7 488.9 816.6 487.4C817.4 486.1 818.4 484.8 818.4 483.5C818.4 479.5 818.2 475.5 818 471.5C817.9 468.8 817.4 466.2 817.4 463.5C817.4 460.5 818.3 457.5 818.6 454.5C819.1 449.5 819.7 444.5 819.8 439.5C820.1 426.3 820.3 413.2 820.3 400Z" fill="#4AA8D2" stroke="#10202a" stroke-width="1" stroke-linejoin="round"/>
<line x1="820.6" y1="334.5" x2="820.6" y2="401" stroke="#000" stroke-width="1.2"/>
<line x1="820.6" y1="382.5" x2="820.6" y2="454" stroke="#000" stroke-width="2.5"/>
<rect x="816.9" y="454" width="7.5" height="45.5" fill="#E2F1F8" stroke="#000" stroke-width="2.3"/>
<path d="M850.3 343C850.4 348.7 850.8 354.3 851.3 360C851.7 365 852.5 370 853.3 375C854.1 380 855.3 385 856.3 390C857.3 395 858.8 400 859.3 405C859.8 410 860.3 415 860.3 420C860.3 424 860 428 859.8 432C859.5 436.3 858.9 440.7 858.3 445C857.7 449.3 856.7 453.7 855.8 458C855.1 461.3 854.3 464.7 853.8 468C853.4 471 852.8 474 852.8 477C852.8 479.3 853.5 481.7 854.3 484C855 486 856.9 488 858.3 490C859.4 491.7 860.8 493.3 861.8 495C862.7 496.5 863.6 498 864.3 499.5L835.3 499.5C836 498 836.9 496.5 837.8 495C838.8 493.3 840.2 491.7 841.3 490C842.7 488 844.6 486 845.3 484C846.1 481.7 846.8 479.3 846.8 477C846.8 474 846.2 471 845.8 468C845.3 464.7 844.5 461.3 843.8 458C842.9 453.7 841.9 449.3 841.3 445C840.7 440.7 840.1 436.3 839.8 432C839.6 428 839.3 424 839.3 420C839.3 415 839.8 410 840.3 405C840.8 400 842.3 395 843.3 390C844.3 385 845.5 380 846.3 375C847.1 370 847.9 365 848.3 360C848.8 354.3 849.2 348.7 849.3 343Z" fill="#2E7FBB" stroke="#10202a" stroke-width="1" stroke-linejoin="round"/>
<line x1="849.8" y1="343" x2="849.8" y2="411" stroke="#000" stroke-width="2.5"/>
<rect x="846" y="410.5" width="7.5" height="89" fill="#DEEBF4" stroke="#000" stroke-width="2.3"/>
<line x1="846" y1="436" x2="853.5" y2="436" stroke="#000" stroke-width="3.4"/>
<path d="M879.5 321C879.6 329 880.3 337 881 345C881.6 351.7 882.8 358.3 884 365C884.9 370 886.3 375 887.5 380C888.7 385 890.3 390 891 395C891.5 398.3 892 401.7 892 405C892 409.3 891.8 413.7 891.5 418C891.2 422.7 890.3 427.3 889.5 432C888.6 437.3 887.5 442.7 886.5 448C885.6 452.7 884.7 457.3 884 462C883.4 465.7 882.5 469.3 882.5 473C882.5 475.7 882.5 478.3 882.5 481C882.5 483.3 884.2 485.7 885.5 488C886.6 490 888.6 492 890 494C891.3 495.8 892.4 497.7 893.5 499.5L864.5 499.5C865.6 497.7 866.7 495.8 868 494C869.4 492 871.4 490 872.5 488C873.8 485.7 875.5 483.3 875.5 481C875.5 478.3 875.5 475.7 875.5 473C875.5 469.3 874.6 465.7 874 462C873.3 457.3 872.4 452.7 871.5 448C870.5 442.7 869.4 437.3 868.5 432C867.7 427.3 866.8 422.7 866.5 418C866.2 413.7 866 409.3 866 405C866 401.7 866.5 398.3 867 395C867.7 390 869.3 385 870.5 380C871.7 375 873.1 370 874 365C875.2 358.3 876.4 351.7 877 345C877.7 337 878.4 329 878.5 321Z" fill="#0F5CA8" stroke="#10202a" stroke-width="1" stroke-linejoin="round"/>
<line x1="879" y1="321" x2="879" y2="499.5" stroke="#000" stroke-width="2.5"/>
<rect x="875.2" y="405" width="7.5" height="66" fill="#D9E5F1" stroke="#000" stroke-width="2.3"/>
<line x1="875.2" y1="433" x2="882.8" y2="433" stroke="#000" stroke-width="3.4"/>
<path d="M908.7 353C909 360.3 909.5 367.7 910.2 375C910.8 381.7 911.9 388.3 912.7 395C913.5 401.7 914.5 408.3 915.2 415C915.9 421.7 916.8 428.3 917.2 435C917.6 441.7 917.9 448.3 918.2 455C918.4 460 918.5 465 918.7 470C918.9 474 919.2 478 919.7 482C920 485 920.7 488 921.2 491C921.7 493.8 922.2 496.7 922.7 499.5L893.7 499.5C894.2 496.7 894.7 493.8 895.2 491C895.7 488 896.4 485 896.7 482C897.2 478 897.5 474 897.7 470C897.9 465 898 460 898.2 455C898.5 448.3 898.8 441.7 899.2 435C899.6 428.3 900.5 421.7 901.2 415C901.9 408.3 902.9 401.7 903.7 395C904.5 388.3 905.6 381.7 906.2 375C906.9 367.7 907.4 360.3 907.7 353Z" fill="#273C80" stroke="#10202a" stroke-width="1" stroke-linejoin="round"/>
<line x1="908.2" y1="353" x2="908.2" y2="429" stroke="#000" stroke-width="2.5"/>
<rect x="904.5" y="429" width="7.5" height="70.5" fill="#DCE0EB" stroke="#000" stroke-width="2.3"/>
<line x1="904.5" y1="460.5" x2="912" y2="460.5" stroke="#000" stroke-width="3.4"/>
<path d="M978 377C979.6 379 981 381 982 383C983.5 386 985.1 389 985.5 392C986.1 396.3 986.5 400.7 986.5 405C986.5 409.3 986.3 413.7 986 418C985.7 422.7 984.8 427.3 984 432C983.2 437 982 442 981 447C980.2 451.3 979.3 455.7 978.5 460C977.8 464 976.8 468 976.5 472C976.2 475.3 976 478.7 976 482C976 487.8 976 493.7 976 499.5L968 499.5C968 493.7 968 487.8 968 482C968 478.7 967.8 475.3 967.5 472C967.2 468 966.2 464 965.5 460C964.7 455.7 963.8 451.3 963 447C962 442 960.8 437 960 432C959.2 427.3 958.3 422.7 958 418C957.7 413.7 957.5 409.3 957.5 405C957.5 400.7 957.9 396.3 958.5 392C958.9 389 960.5 386 962 383C963 381 964.4 379 966 377Z" fill="#DAEBD1" stroke="#10202a" stroke-width="1" stroke-linejoin="round"/>
<line x1="972" y1="377" x2="972" y2="499.5" stroke="#000" stroke-width="2.5"/>
<rect x="968.2" y="400.5" width="7.5" height="42.5" fill="#F9FCF8" stroke="#000" stroke-width="2.3"/>
<line x1="968.2" y1="422" x2="975.8" y2="422" stroke="#000" stroke-width="3.4"/>
<path d="M1008.8 379C1010.2 381.3 1011.5 383.7 1012.3 386C1013.4 389.3 1014.4 392.7 1014.8 396C1015.3 400.7 1015.8 405.3 1015.8 410C1015.8 415 1015.5 420 1015.3 425C1015 430 1014.2 435 1013.8 440C1013.4 445 1013.1 450 1012.8 455C1012.5 460 1012.2 465 1011.8 470C1011.5 474 1011.2 478 1010.8 482C1010.5 485.3 1010.2 488.7 1009.8 492C1009.5 494.5 1009.2 497 1008.8 499.5L993.8 499.5C993.4 497 993.1 494.5 992.8 492C992.4 488.7 992.1 485.3 991.8 482C991.4 478 991.1 474 990.8 470C990.4 465 990.1 460 989.8 455C989.5 450 989.2 445 988.8 440C988.4 435 987.5 430 987.3 425C987 420 986.8 415 986.8 410C986.8 405.3 987.3 400.7 987.8 396C988.2 392.7 989.2 389.3 990.3 386C991.1 383.7 992.4 381.3 993.8 379Z" fill="#A1D8A5" stroke="#10202a" stroke-width="1" stroke-linejoin="round"/>
<line x1="1001.3" y1="379" x2="1001.3" y2="499.5" stroke="#000" stroke-width="2.5"/>
<rect x="997.5" y="407" width="7.5" height="62" fill="#F0F9F1" stroke="#000" stroke-width="2.3"/>
<line x1="997.5" y1="444" x2="1005" y2="444" stroke="#000" stroke-width="3.4"/>
<path d="M1031.2 330C1031.3 335 1031.5 340 1031.8 345C1032 348.3 1032.2 351.7 1032.6 355C1033.1 360 1034 365 1035.1 370C1036.2 375 1038.1 380 1039.6 385C1040.9 389.3 1042.8 393.7 1043.6 398C1044.3 402 1045.1 406 1045.1 410C1045.1 414 1044.6 418 1044.1 422C1043.6 426.3 1042.6 430.7 1041.6 435C1040.6 439.3 1039.2 443.7 1038.1 448C1037.1 452 1036 456 1035.1 460C1034.4 463.3 1033.7 466.7 1033.1 470C1032.6 472.7 1031.9 475.3 1031.8 478C1031.7 485.2 1031.6 492.3 1031.6 499.5L1029.6 499.5C1029.6 492.3 1029.5 485.2 1029.4 478C1029.3 475.3 1028.6 472.7 1028.1 470C1027.5 466.7 1026.8 463.3 1026.1 460C1025.2 456 1024.1 452 1023.1 448C1022 443.7 1020.6 439.3 1019.6 435C1018.6 430.7 1017.6 426.3 1017.1 422C1016.6 418 1016.1 414 1016.1 410C1016.1 406 1016.9 402 1017.6 398C1018.4 393.7 1020.3 389.3 1021.6 385C1023.1 380 1025 375 1026.1 370C1027.2 365 1028.1 360 1028.6 355C1029 351.7 1029.2 348.3 1029.4 345C1029.7 340 1029.9 335 1030 330Z" fill="#6DC6B4" stroke="#10202a" stroke-width="1" stroke-linejoin="round"/>
<line x1="1030.6" y1="312.5" x2="1030.6" y2="331" stroke="#000" stroke-width="1.2"/>
<line x1="1030.6" y1="350" x2="1030.6" y2="499.5" stroke="#000" stroke-width="2.5"/>
<rect x="1026.8" y="396" width="7.5" height="41.5" fill="#E8F6F3" stroke="#000" stroke-width="2.3"/>
<line x1="1026.8" y1="416" x2="1034.3" y2="416" stroke="#000" stroke-width="3.4"/>
<path d="M1060.7 322.5C1060.7 328.3 1061.3 334.2 1061.9 340C1062.4 345 1063.7 350 1064.9 355C1066.1 360 1068 365 1069.4 370C1070.8 375 1072.8 380 1073.4 385C1073.9 389.2 1074.4 393.3 1074.4 397.5C1074.4 401.7 1073.9 405.8 1073.4 410C1072.8 415 1071.5 420 1070.4 425C1069.3 430 1068 435 1066.9 440C1065.8 445 1064.8 450 1063.9 455C1063.1 459.3 1062.2 463.7 1061.9 468C1061.7 471.3 1061.4 474.7 1061.4 478C1061.4 485.2 1061.4 492.3 1061.9 499.5L1057.9 499.5C1058.4 492.3 1058.4 485.2 1058.4 478C1058.4 474.7 1058.1 471.3 1057.9 468C1057.6 463.7 1056.7 459.3 1055.9 455C1055 450 1054 445 1052.9 440C1051.8 435 1050.5 430 1049.4 425C1048.3 420 1047 415 1046.4 410C1045.9 405.8 1045.4 401.7 1045.4 397.5C1045.4 393.3 1045.9 389.2 1046.4 385C1047 380 1049 375 1050.4 370C1051.8 365 1053.7 360 1054.9 355C1056.1 350 1057.4 345 1057.9 340C1058.5 334.2 1059.1 328.3 1059.1 322.5Z" fill="#4AA8D2" stroke="#10202a" stroke-width="1" stroke-linejoin="round"/>
<line x1="1059.9" y1="322.5" x2="1059.9" y2="465" stroke="#000" stroke-width="2.5"/>
<rect x="1056.2" y="383" width="7.5" height="41" fill="#E2F1F8" stroke="#000" stroke-width="2.3"/>
<line x1="1056.2" y1="402.5" x2="1063.7" y2="402.5" stroke="#000" stroke-width="3.4"/>
<path d="M1089.9 321C1090.1 325.7 1090.8 330.3 1091.6 335C1092.5 340 1094.5 345 1096.1 350C1097.7 355 1100 360 1101.1 365C1102.2 370 1103.6 375 1103.6 380C1103.6 384 1103.1 388 1102.6 392C1102.1 396.3 1100.7 400.7 1099.6 405C1098.5 409.3 1096.9 413.7 1095.6 418C1094.4 422 1092.9 426 1092.1 430C1091.3 434.2 1090.4 438.3 1090.3 442.5C1090.2 450 1090.1 457.5 1090.1 465L1088.1 465C1088.1 457.5 1088 450 1087.9 442.5C1087.8 438.3 1086.9 434.2 1086.1 430C1085.3 426 1083.8 422 1082.6 418C1081.3 413.7 1079.7 409.3 1078.6 405C1077.5 400.7 1076.1 396.3 1075.6 392C1075.1 388 1074.6 384 1074.6 380C1074.6 375 1076 370 1077.1 365C1078.2 360 1080.5 355 1082.1 350C1083.7 345 1085.7 340 1086.6 335C1087.4 330.3 1088.1 325.7 1088.3 321Z" fill="#2E7FBB" stroke="#10202a" stroke-width="1" stroke-linejoin="round"/>
<line x1="1089.1" y1="321" x2="1089.1" y2="446" stroke="#000" stroke-width="2.5"/>
<rect x="1085.3" y="369" width="7.5" height="32" fill="#DEEBF4" stroke="#000" stroke-width="2.3"/>
<line x1="1085.3" y1="385" x2="1092.8" y2="385" stroke="#000" stroke-width="3.4"/>
<path d="M1120.3 312.5C1120.3 316.7 1120.8 320.8 1121.3 325C1121.9 330 1123.8 335 1125.3 340C1126.8 345 1129.2 350 1130.3 355C1131.6 360.8 1133.3 366.7 1133.3 372.5C1133.3 376.7 1132.5 380.8 1131.8 385C1131 390 1129.1 395 1127.8 400C1126.5 405 1125 410 1123.8 415C1122.7 419.3 1121.4 423.7 1120.8 428C1120.2 432 1119.6 436 1119.5 440C1119.4 450.2 1119.3 460.3 1119.3 470.5L1117.3 470.5C1117.3 460.3 1117.2 450.2 1117.1 440C1117 436 1116.4 432 1115.8 428C1115.2 423.7 1113.9 419.3 1112.8 415C1111.6 410 1110.1 405 1108.8 400C1107.5 395 1105.6 390 1104.8 385C1104.1 380.8 1103.3 376.7 1103.3 372.5C1103.3 366.7 1105 360.8 1106.3 355C1107.4 350 1109.8 345 1111.3 340C1112.8 335 1114.7 330 1115.3 325C1115.8 320.8 1116.3 316.7 1116.3 312.5Z" fill="#0F5CA8" stroke="#10202a" stroke-width="1" stroke-linejoin="round"/>
<line x1="1118.3" y1="312.5" x2="1118.3" y2="450" stroke="#000" stroke-width="2.5"/>
<rect x="1114.5" y="357" width="7.5" height="37" fill="#D9E5F1" stroke="#000" stroke-width="2.3"/>
<line x1="1114.5" y1="374" x2="1122" y2="374" stroke="#000" stroke-width="3.4"/>
<path d="M1152.5 319C1152.5 326 1152.7 333 1153 340C1153.3 346.7 1154.5 353.3 1155.5 360C1156.5 366.7 1158 373.3 1159 380C1159.8 385 1160.6 390 1161 395C1161.4 400 1162 405 1162 410C1162 414 1161.5 418 1161 422C1160.5 426.3 1158.8 430.7 1157.5 435C1156.7 437.7 1155.8 440.3 1155 443C1154.5 444.7 1154 446.3 1153.5 448L1141.5 448C1141 446.3 1140.5 444.7 1140 443C1139.2 440.3 1138.3 437.7 1137.5 435C1136.2 430.7 1134.5 426.3 1134 422C1133.5 418 1133 414 1133 410C1133 405 1133.6 400 1134 395C1134.4 390 1135.2 385 1136 380C1137 373.3 1138.5 366.7 1139.5 360C1140.5 353.3 1141.7 346.7 1142 340C1142.3 333 1142.5 326 1142.5 319Z" fill="#273C80" stroke="#10202a" stroke-width="1" stroke-linejoin="round"/>
<line x1="1147.5" y1="319" x2="1147.5" y2="448" stroke="#000" stroke-width="2.5"/>
<rect x="1143.8" y="368" width="7.5" height="51.5" fill="#DCE0EB" stroke="#000" stroke-width="2.3"/>
<line x1="1143.8" y1="402.5" x2="1151.2" y2="402.5" stroke="#000" stroke-width="3.4"/>
<path d="M1212.1 420C1212.1 426.5 1212.3 433 1212.6 439.5C1212.8 444.5 1213.3 449.5 1213.8 454.5C1214.1 457.5 1215 460.5 1215 463.5C1215 466.2 1214.5 468.8 1214.4 471.5C1214.2 475.5 1214 479.5 1214 483.5C1214 485.2 1214.9 486.8 1215.8 488.5C1216.5 489.8 1218 491.2 1219.3 492.5C1220.6 493.8 1222.5 495.2 1223.8 496.5C1224.8 497.5 1225.6 498.5 1226.3 499.5L1197.3 499.5C1198 498.5 1198.8 497.5 1199.8 496.5C1201.1 495.2 1203 493.8 1204.3 492.5C1205.6 491.2 1207.1 489.8 1207.8 488.5C1208.7 486.8 1209.6 485.2 1209.6 483.5C1209.6 479.5 1209.4 475.5 1209.2 471.5C1209.1 468.8 1208.6 466.2 1208.6 463.5C1208.6 460.5 1209.5 457.5 1209.8 454.5C1210.3 449.5 1210.8 444.5 1211 439.5C1211.3 433 1211.5 426.5 1211.5 420Z" fill="#DAEBD1" stroke="#10202a" stroke-width="1" stroke-linejoin="round"/>
<line x1="1211.8" y1="373" x2="1211.8" y2="421" stroke="#000" stroke-width="1.2"/>
<line x1="1211.8" y1="407.5" x2="1211.8" y2="463" stroke="#000" stroke-width="2.5"/>
<rect x="1208" y="462.5" width="7.5" height="37" fill="#F9FCF8" stroke="#000" stroke-width="2.3"/>
<line x1="1226.5" y1="499.5" x2="1255.5" y2="499.5" stroke="#000" stroke-width="1.1"/>
<line x1="1241" y1="404" x2="1241" y2="499.5" stroke="#000" stroke-width="1.2"/>
<rect x="1237.2" y="497.5" width="7.5" height="3.5" fill="#000" stroke="none" stroke-width="0"/>
<path d="M1270.6 415C1270.6 423.2 1270.8 431.3 1271.1 439.5C1271.3 444.5 1271.8 449.5 1272.3 454.5C1272.6 457.5 1273.5 460.5 1273.5 463.5C1273.5 466.2 1273 468.8 1272.9 471.5C1272.7 475.5 1272.5 479.5 1272.5 483.5C1272.5 485.2 1273.4 486.8 1274.3 488.5C1275 489.8 1276.5 491.2 1277.8 492.5C1279.1 493.8 1281 495.2 1282.3 496.5C1283.3 497.5 1284.1 498.5 1284.8 499.5L1255.8 499.5C1256.5 498.5 1257.3 497.5 1258.3 496.5C1259.6 495.2 1261.5 493.8 1262.8 492.5C1264.1 491.2 1265.6 489.8 1266.3 488.5C1267.2 486.8 1268.1 485.2 1268.1 483.5C1268.1 479.5 1267.9 475.5 1267.7 471.5C1267.6 468.8 1267.1 466.2 1267.1 463.5C1267.1 460.5 1268 457.5 1268.3 454.5C1268.8 449.5 1269.3 444.5 1269.5 439.5C1269.8 431.3 1270 423.2 1270 415Z" fill="#6DC6B4" stroke="#10202a" stroke-width="1" stroke-linejoin="round"/>
<line x1="1270.3" y1="351" x2="1270.3" y2="416" stroke="#000" stroke-width="1.2"/>
<line x1="1270.3" y1="405" x2="1270.3" y2="460" stroke="#000" stroke-width="2.5"/>
<rect x="1266.5" y="460" width="7.5" height="39.5" fill="#E8F6F3" stroke="#000" stroke-width="2.3"/>
<path d="M1299.8 400C1299.8 413.2 1300 426.3 1300.3 439.5C1300.4 444.5 1301 449.5 1301.5 454.5C1301.8 457.5 1302.7 460.5 1302.7 463.5C1302.7 466.2 1302.2 468.8 1302.1 471.5C1301.9 475.5 1301.7 479.5 1301.7 483.5C1301.7 484.8 1302.7 486.1 1303.5 487.4C1304.4 488.9 1305.7 490.3 1307 491.8C1308.3 493.3 1310.2 494.7 1311.5 496.2C1312.5 497.3 1313.3 498.4 1314 499.5L1285 499.5C1285.7 498.4 1286.5 497.3 1287.5 496.2C1288.8 494.7 1290.7 493.3 1292 491.8C1293.3 490.3 1294.6 488.9 1295.5 487.4C1296.3 486.1 1297.3 484.8 1297.3 483.5C1297.3 479.5 1297.1 475.5 1296.9 471.5C1296.8 468.8 1296.3 466.2 1296.3 463.5C1296.3 460.5 1297.2 457.5 1297.5 454.5C1298 449.5 1298.6 444.5 1298.7 439.5C1299 426.3 1299.2 413.2 1299.2 400Z" fill="#4AA8D2" stroke="#10202a" stroke-width="1" stroke-linejoin="round"/>
<line x1="1299.5" y1="351" x2="1299.5" y2="401" stroke="#000" stroke-width="1.2"/>
<line x1="1299.5" y1="385" x2="1299.5" y2="453" stroke="#000" stroke-width="2.5"/>
<rect x="1295.8" y="453" width="7.5" height="46.5" fill="#E2F1F8" stroke="#000" stroke-width="2.3"/>
<path d="M1329.3 349C1329.3 354.3 1329.8 359.7 1330.3 365C1330.8 370 1331.8 375 1332.8 380C1333.8 385 1335.4 390 1336.8 395C1338.2 400 1340.4 405 1341.3 410C1342.2 415 1343.3 420 1343.3 425C1343.3 429.3 1343.1 433.7 1342.8 438C1342.6 442 1341.9 446 1341.3 450C1340.7 454 1339.9 458 1338.8 462C1337.9 465.3 1336.5 468.7 1335.3 472C1334.3 474.7 1332.9 477.3 1332.3 480C1331.8 482 1331.3 484 1331.3 486C1331.3 487.7 1332.6 489.3 1333.8 491C1334.8 492.3 1337.4 493.7 1338.8 495C1340.4 496.5 1341.8 498 1342.8 499.5L1314.8 499.5C1315.8 498 1317.2 496.5 1318.8 495C1320.2 493.7 1322.8 492.3 1323.8 491C1325 489.3 1326.3 487.7 1326.3 486C1326.3 484 1325.8 482 1325.3 480C1324.7 477.3 1323.3 474.7 1322.3 472C1321.1 468.7 1319.7 465.3 1318.8 462C1317.7 458 1316.9 454 1316.3 450C1315.7 446 1315 442 1314.8 438C1314.5 433.7 1314.3 429.3 1314.3 425C1314.3 420 1315.4 415 1316.3 410C1317.2 405 1319.4 400 1320.8 395C1322.2 390 1323.8 385 1324.8 380C1325.8 375 1326.8 370 1327.3 365C1327.8 359.7 1328.3 354.3 1328.3 349Z" fill="#2E7FBB" stroke="#10202a" stroke-width="1" stroke-linejoin="round"/>
<line x1="1328.8" y1="349" x2="1328.8" y2="499.5" stroke="#000" stroke-width="2.5"/>
<rect x="1325" y="416" width="7.5" height="51.5" fill="#DEEBF4" stroke="#000" stroke-width="2.3"/>
<line x1="1325" y1="439" x2="1332.5" y2="439" stroke="#000" stroke-width="3.4"/>
<path d="M1358.5 333C1358.7 340.3 1359.3 347.7 1360 355C1360.6 361.7 1361.7 368.3 1363 375C1364 380 1365.7 385 1367 390C1368.3 395 1370.2 400 1371 405C1371.7 409.2 1372.5 413.3 1372.5 417.5C1372.5 421.7 1372.3 425.8 1372 430C1371.7 435 1370.8 440 1370 445C1369.2 450 1368.1 455 1367 460C1366.1 464.3 1365 468.7 1364 473C1363.3 476 1362.4 479 1362 482C1361.8 484 1361.5 486 1361.5 488C1361.5 489.7 1362.4 491.3 1363 493C1363.7 495.2 1364.6 497.3 1365.5 499.5L1350.5 499.5C1351.4 497.3 1352.3 495.2 1353 493C1353.6 491.3 1354.5 489.7 1354.5 488C1354.5 486 1354.2 484 1354 482C1353.6 479 1352.7 476 1352 473C1351 468.7 1349.9 464.3 1349 460C1347.9 455 1346.8 450 1346 445C1345.2 440 1344.3 435 1344 430C1343.7 425.8 1343.5 421.7 1343.5 417.5C1343.5 413.3 1344.3 409.2 1345 405C1345.8 400 1347.7 395 1349 390C1350.3 385 1352 380 1353 375C1354.3 368.3 1355.4 361.7 1356 355C1356.7 347.7 1357.3 340.3 1357.5 333Z" fill="#0F5CA8" stroke="#10202a" stroke-width="1" stroke-linejoin="round"/>
<line x1="1358" y1="333" x2="1358" y2="499.5" stroke="#000" stroke-width="2.5"/>
<rect x="1354.2" y="408" width="7.5" height="47" fill="#D9E5F1" stroke="#000" stroke-width="2.3"/>
<line x1="1354.2" y1="429" x2="1361.8" y2="429" stroke="#000" stroke-width="3.4"/>
<path d="M1387.7 353C1387.9 360.3 1388.5 367.7 1389.2 375C1389.8 381.7 1391 388.3 1392.2 395C1393.4 401.7 1395.2 408.3 1396.7 415C1397.8 420 1399.5 425 1400.2 430C1400.9 435 1401.7 440 1401.7 445C1401.7 449.3 1401.2 453.7 1400.7 458C1400.2 462 1398.8 466 1397.7 470C1396.8 473.3 1395.5 476.7 1394.7 480C1394.1 482.7 1393.2 485.3 1393.2 488C1393.2 490 1393.5 492 1393.7 494C1393.9 495.8 1394.3 497.7 1394.7 499.5L1379.7 499.5C1380.1 497.7 1380.5 495.8 1380.7 494C1380.9 492 1381.2 490 1381.2 488C1381.2 485.3 1380.3 482.7 1379.7 480C1378.9 476.7 1377.6 473.3 1376.7 470C1375.6 466 1374.2 462 1373.7 458C1373.2 453.7 1372.7 449.3 1372.7 445C1372.7 440 1373.5 435 1374.2 430C1374.9 425 1376.6 420 1377.7 415C1379.2 408.3 1381 401.7 1382.2 395C1383.4 388.3 1384.6 381.7 1385.2 375C1385.9 367.7 1386.5 360.3 1386.7 353Z" fill="#273C80" stroke="#10202a" stroke-width="1" stroke-linejoin="round"/>
<line x1="1387.2" y1="353" x2="1387.2" y2="499.5" stroke="#000" stroke-width="2.5"/>
<rect x="1383.5" y="428" width="7.5" height="39.5" fill="#DCE0EB" stroke="#000" stroke-width="2.3"/>
<line x1="1383.5" y1="450" x2="1391" y2="450" stroke="#000" stroke-width="3.4"/>
<path d="M1454.3 435.5C1455 437.7 1455.6 439.8 1455.8 442C1456.1 444.7 1456.3 447.3 1456.3 450C1456.3 452.7 1455.7 455.3 1455.3 458C1455 460.3 1454.3 462.7 1454.3 465C1454.3 468.3 1454.3 471.7 1454.3 475C1454.3 477.3 1455.1 479.7 1455.8 482C1456.4 484 1458 486 1459.3 488C1460.4 489.7 1461.8 491.3 1462.8 493C1463.6 494.3 1464.1 495.7 1464.8 497C1465.3 497.8 1465.8 498.7 1466.3 499.5L1436.3 499.5C1436.8 498.7 1437.3 497.8 1437.8 497C1438.5 495.7 1439 494.3 1439.8 493C1440.8 491.3 1442.2 489.7 1443.3 488C1444.6 486 1446.2 484 1446.8 482C1447.5 479.7 1448.3 477.3 1448.3 475C1448.3 471.7 1448.3 468.3 1448.3 465C1448.3 462.7 1447.6 460.3 1447.3 458C1446.9 455.3 1446.3 452.7 1446.3 450C1446.3 447.3 1446.5 444.7 1446.8 442C1447 439.8 1447.6 437.7 1448.3 435.5Z" fill="#DAEBD1" stroke="#10202a" stroke-width="1" stroke-linejoin="round"/>
<line x1="1451.3" y1="436" x2="1451.3" y2="465" stroke="#000" stroke-width="2.5"/>
<rect x="1447.5" y="464.5" width="7.5" height="35" fill="#F9FCF8" stroke="#000" stroke-width="2.3"/>
<line x1="1466" y1="499.5" x2="1495" y2="499.5" stroke="#000" stroke-width="1.1"/>
<line x1="1480.5" y1="354" x2="1480.5" y2="499.5" stroke="#000" stroke-width="1.2"/>
<rect x="1476.8" y="497.5" width="7.5" height="3.5" fill="#000" stroke="none" stroke-width="0"/>
<path d="M1510.1 415C1510.1 423.2 1510.3 431.3 1510.6 439.5C1510.8 444.5 1511.3 449.5 1511.8 454.5C1512.1 457.5 1513 460.5 1513 463.5C1513 466.2 1512.5 468.8 1512.4 471.5C1512.2 475.5 1512 479.5 1512 483.5C1512 485.2 1512.9 486.8 1513.8 488.5C1514.5 489.8 1516 491.2 1517.3 492.5C1518.6 493.8 1520.5 495.2 1521.8 496.5C1522.8 497.5 1523.6 498.5 1524.3 499.5L1495.3 499.5C1496 498.5 1496.8 497.5 1497.8 496.5C1499.1 495.2 1501 493.8 1502.3 492.5C1503.6 491.2 1505.1 489.8 1505.8 488.5C1506.7 486.8 1507.6 485.2 1507.6 483.5C1507.6 479.5 1507.4 475.5 1507.2 471.5C1507.1 468.8 1506.6 466.2 1506.6 463.5C1506.6 460.5 1507.5 457.5 1507.8 454.5C1508.3 449.5 1508.8 444.5 1509 439.5C1509.3 431.3 1509.5 423.2 1509.5 415Z" fill="#6DC6B4" stroke="#10202a" stroke-width="1" stroke-linejoin="round"/>
<line x1="1509.8" y1="390" x2="1509.8" y2="416" stroke="#000" stroke-width="1.2"/>
<line x1="1509.8" y1="405" x2="1509.8" y2="461" stroke="#000" stroke-width="2.5"/>
<rect x="1506" y="461" width="7.5" height="38.5" fill="#E8F6F3" stroke="#000" stroke-width="2.3"/>
<path d="M1539.3 420C1539.3 426.5 1539.5 433 1539.8 439.5C1540 444.5 1540.5 449.5 1541 454.5C1541.3 457.5 1542.2 460.5 1542.2 463.5C1542.2 466.2 1541.7 468.8 1541.6 471.5C1541.4 475.5 1541.2 479.5 1541.2 483.5C1541.2 485.2 1542.1 486.8 1543 488.5C1543.7 489.8 1545.2 491.2 1546.5 492.5C1547.8 493.8 1549.7 495.2 1551 496.5C1552 497.5 1552.8 498.5 1553.5 499.5L1524.5 499.5C1525.2 498.5 1526 497.5 1527 496.5C1528.3 495.2 1530.2 493.8 1531.5 492.5C1532.8 491.2 1534.3 489.8 1535 488.5C1535.9 486.8 1536.8 485.2 1536.8 483.5C1536.8 479.5 1536.6 475.5 1536.4 471.5C1536.3 468.8 1535.8 466.2 1535.8 463.5C1535.8 460.5 1536.7 457.5 1537 454.5C1537.5 449.5 1538 444.5 1538.2 439.5C1538.5 433 1538.7 426.5 1538.7 420Z" fill="#4AA8D2" stroke="#10202a" stroke-width="1" stroke-linejoin="round"/>
<line x1="1539" y1="376" x2="1539" y2="421" stroke="#000" stroke-width="1.2"/>
<line x1="1539" y1="410" x2="1539" y2="465" stroke="#000" stroke-width="2.5"/>
<rect x="1535.2" y="465" width="7.5" height="34.5" fill="#E2F1F8" stroke="#000" stroke-width="2.3"/>
<path d="M1569.3 360C1569.6 365 1570.4 370 1571.3 375C1572.2 380 1573.8 385 1575.3 390C1576.8 395 1579.1 400 1580.3 405C1581.3 409.2 1582.8 413.3 1582.8 417.5C1582.8 421.7 1582.6 425.8 1582.3 430C1582 435 1580.8 440 1579.8 445C1579 449.3 1577.8 453.7 1576.8 458C1575.8 462 1574.7 466 1573.8 470C1573.1 473.3 1572.3 476.7 1571.8 480C1571.4 482.5 1570.8 485 1570.8 487.5C1570.8 489.3 1571.7 491.2 1572.3 493C1573 495.2 1574.1 497.3 1575.3 499.5L1561.3 499.5C1562.5 497.3 1563.6 495.2 1564.3 493C1564.9 491.2 1565.8 489.3 1565.8 487.5C1565.8 485 1565.2 482.5 1564.8 480C1564.3 476.7 1563.5 473.3 1562.8 470C1561.9 466 1560.8 462 1559.8 458C1558.8 453.7 1557.6 449.3 1556.8 445C1555.8 440 1554.6 435 1554.3 430C1554 425.8 1553.8 421.7 1553.8 417.5C1553.8 413.3 1555.3 409.2 1556.3 405C1557.5 400 1559.8 395 1561.3 390C1562.8 385 1564.4 380 1565.3 375C1566.2 370 1567 365 1567.3 360Z" fill="#2E7FBB" stroke="#10202a" stroke-width="1" stroke-linejoin="round"/>
<line x1="1568.3" y1="360" x2="1568.3" y2="499.5" stroke="#000" stroke-width="2.5"/>
<rect x="1564.5" y="407" width="7.5" height="45.5" fill="#DEEBF4" stroke="#000" stroke-width="2.3"/>
<line x1="1564.5" y1="428" x2="1572" y2="428" stroke="#000" stroke-width="3.4"/>
<path d="M1598.5 363C1598.9 368 1599.7 373 1600.5 378C1601.3 383 1602.6 388 1604 393C1605.4 398 1607.8 403 1609 408C1610.3 413.7 1612 419.3 1612 425C1612 430 1611.5 435 1611 440C1610.5 445 1609.5 450 1608.5 455C1607.7 459.3 1606.4 463.7 1605.5 468C1604.8 471.3 1603.8 474.7 1603.5 478C1603.3 480.3 1603 482.7 1603 485C1603 487.3 1603.6 489.7 1604 492C1604.4 494.5 1604.9 497 1605.5 499.5L1589.5 499.5C1590.1 497 1590.6 494.5 1591 492C1591.4 489.7 1592 487.3 1592 485C1592 482.7 1591.7 480.3 1591.5 478C1591.2 474.7 1590.2 471.3 1589.5 468C1588.6 463.7 1587.3 459.3 1586.5 455C1585.5 450 1584.5 445 1584 440C1583.5 435 1583 430 1583 425C1583 419.3 1584.7 413.7 1586 408C1587.2 403 1589.6 398 1591 393C1592.4 388 1593.7 383 1594.5 378C1595.3 373 1596.1 368 1596.5 363Z" fill="#0F5CA8" stroke="#10202a" stroke-width="1" stroke-linejoin="round"/>
<line x1="1597.5" y1="363" x2="1597.5" y2="499.5" stroke="#000" stroke-width="2.5"/>
<rect x="1593.8" y="409" width="7.5" height="50.5" fill="#D9E5F1" stroke="#000" stroke-width="2.3"/>
<line x1="1593.8" y1="431" x2="1601.2" y2="431" stroke="#000" stroke-width="3.4"/>
<path d="M1628.8 369C1629.2 372.7 1629.7 376.3 1630.3 380C1631.1 385 1632.3 390 1633.3 395C1634.3 400 1635.5 405 1636.3 410C1637.1 415 1637.9 420 1638.3 425C1638.8 430.8 1639.1 436.7 1639.3 442.5C1639.5 448.3 1639.6 454.2 1639.8 460C1640 465 1640.5 470 1640.8 475C1641 478.3 1641.3 481.7 1641.3 485C1641.3 487.7 1640.7 490.3 1640.3 493C1640 495.2 1639.7 497.3 1639.3 499.5L1614.3 499.5C1613.9 497.3 1613.6 495.2 1613.3 493C1612.9 490.3 1612.3 487.7 1612.3 485C1612.3 481.7 1612.6 478.3 1612.8 475C1613.1 470 1613.6 465 1613.8 460C1614 454.2 1614.1 448.3 1614.3 442.5C1614.5 436.7 1614.8 430.8 1615.3 425C1615.7 420 1616.5 415 1617.3 410C1618.1 405 1619.3 400 1620.3 395C1621.3 390 1622.5 385 1623.3 380C1623.9 376.3 1624.4 372.7 1624.8 369Z" fill="#273C80" stroke="#10202a" stroke-width="1" stroke-linejoin="round"/>
<line x1="1626.8" y1="369" x2="1626.8" y2="499.5" stroke="#000" stroke-width="2.5"/>
<rect x="1623" y="418" width="7.5" height="61" fill="#DCE0EB" stroke="#000" stroke-width="2.3"/>
<line x1="1623" y1="450" x2="1630.5" y2="450" stroke="#000" stroke-width="3.4"/>
<text transform="translate(821 540.5)" font-size="27" text-anchor="middle">Astrocyte</text>
<text transform="translate(1010 540.5)" font-size="27" text-anchor="start">Astro<tspan font-size="22" dy="-8.3">IFN</tspan></text>
<text transform="translate(1237 540.5)" font-size="27" text-anchor="start"><tspan font-style="italic">Igf2</tspan><tspan font-size="22" dy="-8.3">+</tspan><tspan dy="8.3"> astro</tspan></text>
<text transform="translate(1538.7 540.5)" font-size="27" text-anchor="middle">Reactive astro</text>
<text transform="translate(625.5 284) rotate(-90)" font-size="32" text-anchor="middle">Expression level</text>
<text transform="translate(665 153.5) rotate(-90)" font-size="28" text-anchor="middle" font-style="italic">Ifit3</text>
<text transform="translate(665 405.7) rotate(-90)" font-size="28" text-anchor="middle" font-style="italic">Ifit3</text>
<rect x="1712.3" y="151.2" width="25.5" height="25.2" fill="#DAEBD1" stroke="#1c2b2b" stroke-width="1.2"/>
<text transform="translate(1744 171.2)" font-size="23" text-anchor="start">0 dpc</text>
<rect x="1712.3" y="186.3" width="25.5" height="25.2" fill="#A1D8A5" stroke="#1c2b2b" stroke-width="1.2"/>
<text transform="translate(1744 206.3)" font-size="23" text-anchor="start">0.5 dpc</text>
<rect x="1712.3" y="221.4" width="25.5" height="25.2" fill="#6DC6B4" stroke="#1c2b2b" stroke-width="1.2"/>
<text transform="translate(1744 241.4)" font-size="23" text-anchor="start">1 dpc</text>
<rect x="1712.3" y="256.5" width="25.5" height="25.2" fill="#4AA8D2" stroke="#1c2b2b" stroke-width="1.2"/>
<text transform="translate(1744 276.5)" font-size="23" text-anchor="start">2 dpc</text>
<rect x="1712.3" y="291.6" width="25.5" height="25.2" fill="#2E7FBB" stroke="#1c2b2b" stroke-width="1.2"/>
<text transform="translate(1744 311.6)" font-size="23" text-anchor="start">4 dpc</text>
<rect x="1712.3" y="326.7" width="25.5" height="25.2" fill="#0F5CA8" stroke="#1c2b2b" stroke-width="1.2"/>
<text transform="translate(1744 346.7)" font-size="23" text-anchor="start">7 dpc</text>
<rect x="1712.3" y="361.8" width="25.5" height="25.2" fill="#273C80" stroke="#1c2b2b" stroke-width="1.2"/>
<text transform="translate(1744 381.8)" font-size="23" text-anchor="start">14 dpc</text>
</g>
<g id="panel-d">
<text transform="translate(669.5 624.3)" font-size="36.5" text-anchor="start" font-weight="bold" stroke-width="0">d</text>
<text transform="translate(1016 647.7)" font-size="28.8" text-anchor="middle">MCP1</text>
<rect x="739.6" y="801.5" width="4.3" height="40.2" fill="#000" stroke="none" stroke-width="0"/>
<rect x="766.1" y="762" width="4.3" height="79.7" fill="#000" stroke="none" stroke-width="0"/>
<rect x="775.9" y="801.5" width="4.3" height="40.2" fill="#000" stroke="none" stroke-width="0"/>
<rect x="797.4" y="801.5" width="4.3" height="40.2" fill="#000" stroke="none" stroke-width="0"/>
<rect x="828.4" y="801.5" width="4.3" height="40.2" fill="#000" stroke="none" stroke-width="0"/>
<rect x="833.1" y="801.5" width="4.3" height="40.2" fill="#000" stroke="none" stroke-width="0"/>
<rect x="836.9" y="762" width="4.3" height="79.7" fill="#000" stroke="none" stroke-width="0"/>
<rect x="840.4" y="722.8" width="4.3" height="118.9" fill="#000" stroke="none" stroke-width="0"/>
<rect x="854.6" y="762" width="4.3" height="79.7" fill="#000" stroke="none" stroke-width="0"/>
<rect x="857.6" y="801.5" width="4.3" height="40.2" fill="#000" stroke="none" stroke-width="0"/>
<rect x="864.6" y="801.5" width="4.3" height="40.2" fill="#000" stroke="none" stroke-width="0"/>
<rect x="869.1" y="722.8" width="4.3" height="118.9" fill="#000" stroke="none" stroke-width="0"/>
<rect x="871.4" y="801.5" width="4.3" height="40.2" fill="#000" stroke="none" stroke-width="0"/>
<rect x="888.4" y="762" width="4.3" height="79.7" fill="#000" stroke="none" stroke-width="0"/>
<rect x="904.9" y="801.5" width="4.3" height="40.2" fill="#000" stroke="none" stroke-width="0"/>
<path d="M735.8 828C741.3 823.5 746.9 819.5 752.5 816.5C759.2 813 765.8 808 772.5 808C777.5 808 782.5 809 787.5 810C791.7 810.8 795.8 814.5 800 814.5C804.2 814.5 808.3 809.8 812.5 805C816.7 800.2 820.8 785 825 775C829.2 765 833.3 753.2 837.5 745C840.8 738.4 844.2 731.1 847.5 728C850.7 725.1 853.8 722 857 722C860.5 722 864 725.4 867.5 728.8C870.8 732 874.2 741.2 877.5 748C881.7 756.5 885.8 766.3 890 775.5C894.2 784.7 898.3 795.5 902.5 803C906.9 810.9 911.3 817.9 915.8 823" fill="none" stroke="#000" stroke-width="3.3" clip-path="url(#cd0)"/>
<rect x="933" y="973.8" width="4.2" height="59.8" fill="#7c7c7c" stroke="#000" stroke-width="1.5"/>
<rect x="939.2" y="973.8" width="4.2" height="59.8" fill="#7c7c7c" stroke="#000" stroke-width="1.5"/>
<rect x="954.2" y="973.8" width="4.2" height="59.8" fill="#7c7c7c" stroke="#000" stroke-width="1.5"/>
<rect x="957.5" y="973.8" width="4.2" height="59.8" fill="#7c7c7c" stroke="#000" stroke-width="1.5"/>
<rect x="973" y="973.8" width="4.2" height="59.8" fill="#7c7c7c" stroke="#000" stroke-width="1.5"/>
<rect x="999.2" y="973.8" width="4.2" height="59.8" fill="#7c7c7c" stroke="#000" stroke-width="1.5"/>
<rect x="1005.5" y="973.8" width="4.2" height="59.8" fill="#7c7c7c" stroke="#000" stroke-width="1.5"/>
<rect x="1011.8" y="973.8" width="4.2" height="59.8" fill="#7c7c7c" stroke="#000" stroke-width="1.5"/>
<rect x="1018" y="914.3" width="4.2" height="119.3" fill="#7c7c7c" stroke="#000" stroke-width="1.5"/>
<rect x="1023.8" y="914.3" width="4.2" height="119.3" fill="#7c7c7c" stroke="#000" stroke-width="1.5"/>
<rect x="1033" y="973.8" width="4.2" height="59.8" fill="#7c7c7c" stroke="#000" stroke-width="1.5"/>
<rect x="1039.2" y="914.3" width="4.2" height="119.3" fill="#7c7c7c" stroke="#000" stroke-width="1.5"/>
<rect x="1045.5" y="973.8" width="4.2" height="59.8" fill="#7c7c7c" stroke="#000" stroke-width="1.5"/>
<rect x="1051.2" y="973.8" width="4.2" height="59.8" fill="#7c7c7c" stroke="#000" stroke-width="1.5"/>
<rect x="1054.5" y="973.8" width="4.2" height="59.8" fill="#7c7c7c" stroke="#000" stroke-width="1.5"/>
<rect x="1057.5" y="973.8" width="4.2" height="59.8" fill="#7c7c7c" stroke="#000" stroke-width="1.5"/>
<rect x="1060.5" y="973.8" width="4.2" height="59.8" fill="#7c7c7c" stroke="#000" stroke-width="1.5"/>
<rect x="1063.2" y="973.8" width="4.2" height="59.8" fill="#7c7c7c" stroke="#000" stroke-width="1.5"/>
<rect x="1078" y="973.8" width="4.2" height="59.8" fill="#7c7c7c" stroke="#000" stroke-width="1.5"/>
<rect x="1088" y="973.8" width="4.2" height="59.8" fill="#7c7c7c" stroke="#000" stroke-width="1.5"/>
<rect x="1099.2" y="973.8" width="4.2" height="59.8" fill="#7c7c7c" stroke="#000" stroke-width="1.5"/>
<path d="M927.5 1005.5C931.7 1001.9 935.8 998.7 940 996.2C944.2 993.8 948.3 991.9 952.5 990C956.7 988.1 960.8 986.9 965 985C968.3 983.5 971.7 982.1 975 980C978.3 977.9 981.7 974.8 985 971.2C988.3 967.7 991.7 962.4 995 957.5C999.2 951.4 1003.3 943.2 1007.5 937.5C1011.7 931.8 1015.8 925.9 1020 922.5C1023.3 919.8 1026.7 917.3 1030 916.2C1033.2 915.3 1036.3 914.2 1039.5 914.2C1043 914.2 1046.5 915.9 1050 917.5C1055 919.8 1060 926.5 1065 932.5C1069.2 937.5 1073.3 944.3 1077.5 951.2C1081.7 958.2 1085.8 967.3 1090 975C1093.3 981.2 1096.7 988.2 1100 993C1102.5 996.6 1105 999.6 1107.5 1002" fill="none" stroke="#000" stroke-width="3.3" clip-path="url(#cd1)"/>
<rect x="1124.2" y="1106.8" width="4.6" height="118.8" fill="#b8b8b8" stroke="#000" stroke-width="1.5"/>
<rect x="1148.5" y="1166.3" width="4.6" height="59.3" fill="#b8b8b8" stroke="#000" stroke-width="1.5"/>
<rect x="1153" y="1166.3" width="4.6" height="59.3" fill="#b8b8b8" stroke="#000" stroke-width="1.5"/>
<rect x="1160.5" y="1106.8" width="4.6" height="118.8" fill="#b8b8b8" stroke="#000" stroke-width="1.5"/>
<rect x="1168" y="1166.3" width="4.6" height="59.3" fill="#b8b8b8" stroke="#000" stroke-width="1.5"/>
<rect x="1195.5" y="1166.3" width="4.6" height="59.3" fill="#b8b8b8" stroke="#000" stroke-width="1.5"/>
<rect x="1200" y="1106.8" width="4.6" height="118.8" fill="#b8b8b8" stroke="#000" stroke-width="1.5"/>
<rect x="1211.8" y="1166.3" width="4.6" height="59.3" fill="#b8b8b8" stroke="#000" stroke-width="1.5"/>
<rect x="1216" y="1166.3" width="4.6" height="59.3" fill="#b8b8b8" stroke="#000" stroke-width="1.5"/>
<rect x="1220.5" y="1166.3" width="4.6" height="59.3" fill="#b8b8b8" stroke="#000" stroke-width="1.5"/>
<rect x="1223.5" y="1106.8" width="4.6" height="118.8" fill="#b8b8b8" stroke="#000" stroke-width="1.5"/>
<rect x="1226.8" y="1166.3" width="4.6" height="59.3" fill="#b8b8b8" stroke="#000" stroke-width="1.5"/>
<rect x="1235" y="1106.8" width="4.6" height="118.8" fill="#b8b8b8" stroke="#000" stroke-width="1.5"/>
<rect x="1238.5" y="1166.3" width="4.6" height="59.3" fill="#b8b8b8" stroke="#000" stroke-width="1.5"/>
<rect x="1250.5" y="1166.3" width="4.6" height="59.3" fill="#b8b8b8" stroke="#000" stroke-width="1.5"/>
<rect x="1255" y="1166.3" width="4.6" height="59.3" fill="#b8b8b8" stroke="#000" stroke-width="1.5"/>
<rect x="1278.5" y="1166.3" width="4.6" height="59.3" fill="#b8b8b8" stroke="#000" stroke-width="1.5"/>
<rect x="1282.5" y="1166.3" width="4.6" height="59.3" fill="#b8b8b8" stroke="#000" stroke-width="1.5"/>
<rect x="1290" y="1166.3" width="4.6" height="59.3" fill="#b8b8b8" stroke="#000" stroke-width="1.5"/>
<rect x="1294.2" y="1166.3" width="4.6" height="59.3" fill="#b8b8b8" stroke="#000" stroke-width="1.5"/>
<path d="M1119.5 1187C1124.7 1181.9 1129.8 1177.1 1135 1172.5C1140 1168.1 1145 1163.9 1150 1160C1155 1156.1 1160 1152.7 1165 1148.8C1170 1144.8 1175 1140.6 1180 1136.2C1185 1131.9 1190 1126.6 1195 1122.5C1200 1118.4 1205 1113.7 1210 1111.2C1214.2 1109.2 1218.3 1106.8 1222.5 1106.8C1226.7 1106.8 1230.8 1108.4 1235 1110C1240 1112 1245 1117.2 1250 1122.5C1254.2 1126.9 1258.3 1133.8 1262.5 1140C1266.7 1146.2 1270.8 1154 1275 1160C1279.2 1166 1283.3 1171.7 1287.5 1176.2C1291.7 1180.8 1295.8 1184.8 1300 1188" fill="none" stroke="#000" stroke-width="3.3" clip-path="url(#cd2)"/>
<defs><clipPath id="cd0"><rect x="736.2" y="663.3" width="178.6" height="178.4"/></clipPath><clipPath id="cd1"><rect x="927.9" y="855.2" width="178.6" height="178.4"/></clipPath><clipPath id="cd2"><rect x="1119.6" y="1047.2" width="178.6" height="178.4"/></clipPath><clipPath id="cs0"><rect x="736.2" y="855.2" width="178.6" height="178.4"/></clipPath><clipPath id="cs1"><rect x="736.2" y="1047.2" width="178.6" height="178.4"/></clipPath><clipPath id="cs2"><rect x="927.9" y="1047.2" width="178.6" height="178.4"/></clipPath></defs>
<line x1="739.5" y1="1034.2" x2="911.2" y2="871.2" stroke="#DE1A1F" stroke-width="3.3" stroke-dasharray="17 7.5" stroke-dashoffset="6" stroke-linecap="butt" clip-path="url(#cs0)"/>
<line x1="749.5" y1="1226.8" x2="911.2" y2="1068.8" stroke="#DE1A1F" stroke-width="3.3" stroke-dasharray="17 7.5" stroke-dashoffset="6" stroke-linecap="butt" clip-path="url(#cs1)"/>
<line x1="927" y1="1218" x2="1107.5" y2="1065.8" stroke="#DE1A1F" stroke-width="3.3" stroke-dasharray="17 7.5" stroke-dashoffset="6" stroke-linecap="butt" clip-path="url(#cs2)"/>
<circle cx="870.5" cy="862" r="2.7" fill="#111"/>
<circle cx="908.2" cy="875" r="2.7" fill="#111"/>
<circle cx="872.5" cy="881.2" r="2.7" fill="#111"/>
<circle cx="890" cy="898" r="2.7" fill="#111"/>
<circle cx="868" cy="900.8" r="2.7" fill="#111"/>
<circle cx="870.5" cy="902.5" r="2.7" fill="#111"/>
<circle cx="865.5" cy="905.8" r="2.7" fill="#111"/>
<circle cx="889.5" cy="908.2" r="2.7" fill="#111"/>
<circle cx="856.2" cy="914.2" r="2.7" fill="#111"/>
<circle cx="842" cy="920.5" r="2.7" fill="#111"/>
<circle cx="840" cy="923" r="2.7" fill="#111"/>
<circle cx="871.5" cy="928.8" r="2.7" fill="#111"/>
<circle cx="830.5" cy="936.5" r="2.7" fill="#111"/>
<circle cx="842" cy="936.2" r="2.7" fill="#111"/>
<circle cx="841.2" cy="943.2" r="2.7" fill="#111"/>
<circle cx="857.2" cy="943.2" r="2.7" fill="#111"/>
<circle cx="839.2" cy="949.5" r="2.7" fill="#111"/>
<circle cx="835.5" cy="955.5" r="2.7" fill="#111"/>
<circle cx="859" cy="962" r="2.7" fill="#111"/>
<circle cx="778.2" cy="987" r="2.7" fill="#111"/>
<circle cx="769.2" cy="1002" r="2.7" fill="#111"/>
<circle cx="798.5" cy="1005.8" r="2.7" fill="#111"/>
<circle cx="742" cy="1019.5" r="2.7" fill="#111"/>
<circle cx="768.8" cy="1027.5" r="2.7" fill="#111"/>
<circle cx="890.2" cy="1054" r="2.7" fill="#111"/>
<circle cx="890" cy="1063.2" r="2.7" fill="#111"/>
<circle cx="908.2" cy="1065.5" r="2.7" fill="#111"/>
<circle cx="870.5" cy="1088.2" r="2.7" fill="#111"/>
<circle cx="859" cy="1094.8" r="2.7" fill="#111"/>
<circle cx="857.2" cy="1108.8" r="2.7" fill="#111"/>
<circle cx="872.5" cy="1109.5" r="2.7" fill="#111"/>
<circle cx="868" cy="1118.8" r="2.7" fill="#111"/>
<circle cx="871.5" cy="1121.2" r="2.7" fill="#111"/>
<circle cx="840" cy="1119.2" r="2.7" fill="#111"/>
<circle cx="841.5" cy="1125.8" r="2.7" fill="#111"/>
<circle cx="830.5" cy="1128.8" r="2.7" fill="#111"/>
<circle cx="865.5" cy="1131.2" r="2.7" fill="#111"/>
<circle cx="842" cy="1144.5" r="2.7" fill="#111"/>
<circle cx="856.5" cy="1144.2" r="2.7" fill="#111"/>
<circle cx="835.5" cy="1148" r="2.7" fill="#111"/>
<circle cx="778.2" cy="1177" r="2.7" fill="#111"/>
<circle cx="769.2" cy="1184" r="2.7" fill="#111"/>
<circle cx="842.2" cy="1183.2" r="2.7" fill="#111"/>
<circle cx="839.2" cy="1190.5" r="2.7" fill="#111"/>
<circle cx="798.5" cy="1195.8" r="2.7" fill="#111"/>
<circle cx="742" cy="1219.8" r="2.7" fill="#111"/>
<circle cx="768.8" cy="1218.8" r="2.7" fill="#111"/>
<circle cx="1064.2" cy="1054" r="2.7" fill="#111"/>
<circle cx="1053.8" cy="1063.2" r="2.7" fill="#111"/>
<circle cx="1087.5" cy="1065.5" r="2.7" fill="#111"/>
<circle cx="1100.5" cy="1088.2" r="2.7" fill="#111"/>
<circle cx="1000" cy="1094.8" r="2.7" fill="#111"/>
<circle cx="1018.5" cy="1108.8" r="2.7" fill="#111"/>
<circle cx="1080.8" cy="1107.5" r="2.7" fill="#111"/>
<circle cx="1059.2" cy="1110.8" r="2.7" fill="#111"/>
<circle cx="1061.2" cy="1118.8" r="2.7" fill="#111"/>
<circle cx="1039" cy="1119.2" r="2.7" fill="#111"/>
<circle cx="1033.2" cy="1121.5" r="2.7" fill="#111"/>
<circle cx="1018.8" cy="1125.8" r="2.7" fill="#111"/>
<circle cx="1025.2" cy="1128.8" r="2.7" fill="#111"/>
<circle cx="1056" cy="1131.2" r="2.7" fill="#111"/>
<circle cx="1041.8" cy="1144.5" r="2.7" fill="#111"/>
<circle cx="1048" cy="1144.5" r="2.7" fill="#111"/>
<circle cx="1006.5" cy="1148" r="2.7" fill="#111"/>
<circle cx="975" cy="1177" r="2.7" fill="#111"/>
<circle cx="960" cy="1184" r="2.7" fill="#111"/>
<circle cx="1026.2" cy="1183.2" r="2.7" fill="#111"/>
<circle cx="1012.5" cy="1190.5" r="2.7" fill="#111"/>
<circle cx="956.2" cy="1195.8" r="2.7" fill="#111"/>
<circle cx="934.5" cy="1218.8" r="2.7" fill="#111"/>
<circle cx="942.2" cy="1220" r="2.7" fill="#111"/>
<rect x="736.2" y="663.3" width="178.6" height="178.4" fill="none" stroke="#000" stroke-width="2.3"/>
<rect x="927.9" y="663.3" width="178.6" height="178.4" fill="none" stroke="#000" stroke-width="2.3"/>
<rect x="1119.6" y="663.3" width="178.6" height="178.4" fill="none" stroke="#000" stroke-width="2.3"/>
<rect x="736.2" y="855.2" width="178.6" height="178.4" fill="none" stroke="#000" stroke-width="2.3"/>
<rect x="927.9" y="855.2" width="178.6" height="178.4" fill="none" stroke="#000" stroke-width="2.3"/>
<rect x="1119.6" y="855.2" width="178.6" height="178.4" fill="none" stroke="#000" stroke-width="2.3"/>
<rect x="736.2" y="1047.2" width="178.6" height="178.4" fill="none" stroke="#000" stroke-width="2.3"/>
<rect x="927.9" y="1047.2" width="178.6" height="178.4" fill="none" stroke="#000" stroke-width="2.3"/>
<rect x="1119.6" y="1047.2" width="178.6" height="178.4" fill="none" stroke="#000" stroke-width="2.3"/>
<text transform="translate(823.5 697.5)" font-size="27.8" text-anchor="middle">Astrocyte</text>
<text transform="translate(1014.8 889)" font-size="27.8" text-anchor="middle">Microglia</text>
<text transform="translate(1209 1082.5)" font-size="27.8" text-anchor="middle">Müller glia</text>
<text transform="translate(1017.5 756)" font-size="34.5" text-anchor="middle">0.90***</text>
<text transform="translate(1209.3 756)" font-size="34.5" text-anchor="middle">0.88***</text>
<text transform="translate(1209.3 948.3)" font-size="34.5" text-anchor="middle">0.81***</text>
<line x1="728.8" y1="676.5" x2="736.2" y2="676.5" stroke="#000" stroke-width="2"/>
<text transform="translate(722.6 686.4) scale(0.820 1)" font-size="23.5" text-anchor="end">2</text>
<line x1="728.8" y1="700.4" x2="736.2" y2="700.4" stroke="#000" stroke-width="2"/>
<text transform="translate(722.6 710.3) scale(0.820 1)" font-size="23.5" text-anchor="end">1</text>
<line x1="728.8" y1="724.3" x2="736.2" y2="724.3" stroke="#000" stroke-width="2"/>
<text transform="translate(722.6 734.2) scale(0.820 1)" font-size="23.5" text-anchor="end">0</text>
<line x1="728.8" y1="748.3" x2="736.2" y2="748.3" stroke="#000" stroke-width="2"/>
<text transform="translate(722.6 758.2) scale(0.820 1)" font-size="23.5" text-anchor="end"><tspan font-size="19.5" dy="-1.3">−</tspan><tspan dy="1.3">1</tspan></text>
<line x1="728.8" y1="772.2" x2="736.2" y2="772.2" stroke="#000" stroke-width="2"/>
<text transform="translate(722.6 782.1) scale(0.820 1)" font-size="23.5" text-anchor="end"><tspan font-size="19.5" dy="-1.3">−</tspan><tspan dy="1.3">2</tspan></text>
<line x1="728.8" y1="796.1" x2="736.2" y2="796.1" stroke="#000" stroke-width="2"/>
<text transform="translate(722.6 806) scale(0.820 1)" font-size="23.5" text-anchor="end"><tspan font-size="19.5" dy="-1.3">−</tspan><tspan dy="1.3">3</tspan></text>
<line x1="728.8" y1="820" x2="736.2" y2="820" stroke="#000" stroke-width="2"/>
<text transform="translate(722.6 829.9) scale(0.820 1)" font-size="23.5" text-anchor="end"><tspan font-size="19.5" dy="-1.3">−</tspan><tspan dy="1.3">4</tspan></text>
<line x1="728.8" y1="880.8" x2="736.2" y2="880.8" stroke="#000" stroke-width="2"/>
<text transform="translate(722.6 890.7) scale(0.820 1)" font-size="23.5" text-anchor="end">2</text>
<line x1="728.8" y1="911" x2="736.2" y2="911" stroke="#000" stroke-width="2"/>
<text transform="translate(722.6 920.9) scale(0.820 1)" font-size="23.5" text-anchor="end">1</text>
<line x1="728.8" y1="941.2" x2="736.2" y2="941.2" stroke="#000" stroke-width="2"/>
<text transform="translate(722.6 951.1) scale(0.820 1)" font-size="23.5" text-anchor="end">0</text>
<line x1="728.8" y1="971.4" x2="736.2" y2="971.4" stroke="#000" stroke-width="2"/>
<text transform="translate(722.6 981.3) scale(0.820 1)" font-size="23.5" text-anchor="end"><tspan font-size="19.5" dy="-1.3">−</tspan><tspan dy="1.3">1</tspan></text>
<line x1="728.8" y1="1001.6" x2="736.2" y2="1001.6" stroke="#000" stroke-width="2"/>
<text transform="translate(722.6 1011.5) scale(0.820 1)" font-size="23.5" text-anchor="end"><tspan font-size="19.5" dy="-1.3">−</tspan><tspan dy="1.3">2</tspan></text>
<line x1="728.8" y1="1031.8" x2="736.2" y2="1031.8" stroke="#000" stroke-width="2"/>
<text transform="translate(722.6 1041.7) scale(0.820 1)" font-size="23.5" text-anchor="end"><tspan font-size="19.5" dy="-1.3">−</tspan><tspan dy="1.3">3</tspan></text>
<line x1="728.8" y1="1064.3" x2="736.2" y2="1064.3" stroke="#000" stroke-width="2"/>
<text transform="translate(722.6 1074.2) scale(0.820 1)" font-size="23.5" text-anchor="end">2</text>
<line x1="728.8" y1="1103.4" x2="736.2" y2="1103.4" stroke="#000" stroke-width="2"/>
<text transform="translate(722.6 1113.3) scale(0.820 1)" font-size="23.5" text-anchor="end">1</text>
<line x1="728.8" y1="1142.5" x2="736.2" y2="1142.5" stroke="#000" stroke-width="2"/>
<text transform="translate(722.6 1152.4) scale(0.820 1)" font-size="23.5" text-anchor="end">0</text>
<line x1="728.8" y1="1181.6" x2="736.2" y2="1181.6" stroke="#000" stroke-width="2"/>
<text transform="translate(722.6 1191.5) scale(0.820 1)" font-size="23.5" text-anchor="end"><tspan font-size="19.5" dy="-1.3">−</tspan><tspan dy="1.3">1</tspan></text>
<line x1="728.8" y1="1220.7" x2="736.2" y2="1220.7" stroke="#000" stroke-width="2"/>
<text transform="translate(722.6 1230.6) scale(0.820 1)" font-size="23.5" text-anchor="end"><tspan font-size="19.5" dy="-1.3">−</tspan><tspan dy="1.3">2</tspan></text>
<line x1="757.5" y1="1225.6" x2="757.5" y2="1233.6" stroke="#000" stroke-width="2"/>
<text transform="translate(756.5 1255.8) scale(0.820 1)" font-size="23.5" text-anchor="middle"><tspan font-size="19.5" dy="-1.3">−</tspan><tspan dy="1.3">4</tspan></text>
<line x1="781.5" y1="1225.6" x2="781.5" y2="1233.6" stroke="#000" stroke-width="2"/>
<text transform="translate(780.5 1255.8) scale(0.820 1)" font-size="23.5" text-anchor="middle"><tspan font-size="19.5" dy="-1.3">−</tspan><tspan dy="1.3">3</tspan></text>
<line x1="805.4" y1="1225.6" x2="805.4" y2="1233.6" stroke="#000" stroke-width="2"/>
<text transform="translate(804.4 1255.8) scale(0.820 1)" font-size="23.5" text-anchor="middle"><tspan font-size="19.5" dy="-1.3">−</tspan><tspan dy="1.3">2</tspan></text>
<line x1="829.4" y1="1225.6" x2="829.4" y2="1233.6" stroke="#000" stroke-width="2"/>
<text transform="translate(828.4 1255.8) scale(0.820 1)" font-size="23.5" text-anchor="middle"><tspan font-size="19.5" dy="-1.3">−</tspan><tspan dy="1.3">1</tspan></text>
<line x1="853.3" y1="1225.6" x2="853.3" y2="1233.6" stroke="#000" stroke-width="2"/>
<text transform="translate(853.6 1255.8) scale(0.820 1)" font-size="23.5" text-anchor="middle">0</text>
<line x1="877.2" y1="1225.6" x2="877.2" y2="1233.6" stroke="#000" stroke-width="2"/>
<text transform="translate(877.5 1255.8) scale(0.820 1)" font-size="23.5" text-anchor="middle">1</text>
<line x1="901.2" y1="1225.6" x2="901.2" y2="1233.6" stroke="#000" stroke-width="2"/>
<text transform="translate(901.5 1255.8) scale(0.820 1)" font-size="23.5" text-anchor="middle">2</text>
<line x1="930" y1="1225.6" x2="930" y2="1233.6" stroke="#000" stroke-width="2"/>
<text transform="translate(932.7 1255.8) scale(0.820 1)" font-size="23.5" text-anchor="middle"><tspan font-size="19.5" dy="-1.3">−</tspan><tspan dy="1.3">3</tspan></text>
<line x1="960.3" y1="1225.6" x2="960.3" y2="1233.6" stroke="#000" stroke-width="2"/>
<text transform="translate(963 1255.8) scale(0.820 1)" font-size="23.5" text-anchor="middle"><tspan font-size="19.5" dy="-1.3">−</tspan><tspan dy="1.3">2</tspan></text>
<line x1="990.6" y1="1225.6" x2="990.6" y2="1233.6" stroke="#000" stroke-width="2"/>
<text transform="translate(993.3 1255.8) scale(0.820 1)" font-size="23.5" text-anchor="middle"><tspan font-size="19.5" dy="-1.3">−</tspan><tspan dy="1.3">1</tspan></text>
<line x1="1021" y1="1225.6" x2="1021" y2="1233.6" stroke="#000" stroke-width="2"/>
<text transform="translate(1021.3 1255.8) scale(0.820 1)" font-size="23.5" text-anchor="middle">0</text>
<line x1="1051.3" y1="1225.6" x2="1051.3" y2="1233.6" stroke="#000" stroke-width="2"/>
<text transform="translate(1051.6 1255.8) scale(0.820 1)" font-size="23.5" text-anchor="middle">1</text>
<line x1="1081.6" y1="1225.6" x2="1081.6" y2="1233.6" stroke="#000" stroke-width="2"/>
<text transform="translate(1081.9 1255.8) scale(0.820 1)" font-size="23.5" text-anchor="middle">2</text>
<line x1="1125" y1="1225.6" x2="1125" y2="1233.6" stroke="#000" stroke-width="2"/>
<text transform="translate(1128.2 1255.8) scale(0.820 1)" font-size="23.5" text-anchor="middle"><tspan font-size="19.5" dy="-1.3">−</tspan><tspan dy="1.3">2</tspan></text>
<line x1="1164.2" y1="1225.6" x2="1164.2" y2="1233.6" stroke="#000" stroke-width="2"/>
<text transform="translate(1167.4 1255.8) scale(0.820 1)" font-size="23.5" text-anchor="middle"><tspan font-size="19.5" dy="-1.3">−</tspan><tspan dy="1.3">1</tspan></text>
<line x1="1203.4" y1="1225.6" x2="1203.4" y2="1233.6" stroke="#000" stroke-width="2"/>
<text transform="translate(1203.7 1255.8) scale(0.820 1)" font-size="23.5" text-anchor="middle">0</text>
<line x1="1242.6" y1="1225.6" x2="1242.6" y2="1233.6" stroke="#000" stroke-width="2"/>
<text transform="translate(1242.9 1255.8) scale(0.820 1)" font-size="23.5" text-anchor="middle">1</text>
<line x1="1281.8" y1="1225.6" x2="1281.8" y2="1233.6" stroke="#000" stroke-width="2"/>
<text transform="translate(1282.1 1255.8) scale(0.820 1)" font-size="23.5" text-anchor="middle">2</text>
<text transform="translate(1009 1290.5)" font-size="30.3" text-anchor="middle">Overall expression (cell type 1)</text>
<text transform="translate(687 953.5) rotate(-90)" font-size="30.3" text-anchor="middle">Overall expression (cell type 2)</text>
</g>
<g id="panel-e">
<text transform="translate(1348.5 623)" font-size="36.5" text-anchor="start" font-weight="bold" stroke-width="0">e</text>
<line x1="1420" y1="643.8" x2="1420" y2="911.1" stroke="#000" stroke-width="2.3"/>
<line x1="1418.8" y1="910" x2="1786" y2="910" stroke="#000" stroke-width="2.3"/>
<line x1="1412" y1="708.3" x2="1420" y2="708.3" stroke="#000" stroke-width="2.3"/>
<text transform="translate(1409 717.1) scale(0.920 1)" font-size="24.5" text-anchor="end">4</text>
<line x1="1412" y1="772" x2="1420" y2="772" stroke="#000" stroke-width="2.3"/>
<text transform="translate(1409 780.8) scale(0.920 1)" font-size="24.5" text-anchor="end">0</text>
<line x1="1412" y1="835.8" x2="1420" y2="835.8" stroke="#000" stroke-width="2.3"/>
<text transform="translate(1409 844.6) scale(0.920 1)" font-size="24.5" text-anchor="end">−4</text>
<line x1="1412" y1="899.5" x2="1420" y2="899.5" stroke="#000" stroke-width="2.3"/>
<text transform="translate(1409 908.3) scale(0.920 1)" font-size="24.5" text-anchor="end">−8</text>
<line x1="1450.5" y1="910" x2="1450.5" y2="917.5" stroke="#000" stroke-width="2.3"/>
<text transform="translate(1450.5 647.5) scale(0.800 1)" font-size="23.2" text-anchor="middle" fill="#4d4d4d" stroke="#4d4d4d" stroke-width="0.1">0.00</text>
<line x1="1501.3" y1="910" x2="1501.3" y2="917.5" stroke="#000" stroke-width="2.3"/>
<text transform="translate(1501.3 647.5) scale(0.800 1)" font-size="23.2" text-anchor="middle" fill="#4d4d4d" stroke="#4d4d4d" stroke-width="0.1">1.08</text>
<line x1="1552.2" y1="910" x2="1552.2" y2="917.5" stroke="#000" stroke-width="2.3"/>
<text transform="translate(1552.2 647.5) scale(0.800 1)" font-size="23.2" text-anchor="middle" fill="#4d4d4d" stroke="#4d4d4d" stroke-width="0.1">0.93</text>
<line x1="1603" y1="910" x2="1603" y2="917.5" stroke="#000" stroke-width="2.3"/>
<text transform="translate(1603 647.5) scale(0.800 1)" font-size="23.2" text-anchor="middle" fill="#4d4d4d" stroke="#4d4d4d" stroke-width="0.1">0.21</text>
<line x1="1653.9" y1="910" x2="1653.9" y2="917.5" stroke="#000" stroke-width="2.3"/>
<text transform="translate(1653.9 647.5) scale(0.800 1)" font-size="23.2" text-anchor="middle" fill="#4d4d4d" stroke="#4d4d4d" stroke-width="0.1">1.50</text>
<line x1="1704.8" y1="910" x2="1704.8" y2="917.5" stroke="#000" stroke-width="2.3"/>
<text transform="translate(1704.8 647.5) scale(0.800 1)" font-size="23.2" text-anchor="middle" fill="#4d4d4d" stroke="#4d4d4d" stroke-width="0.1">1.34</text>
<line x1="1755.6" y1="910" x2="1755.6" y2="917.5" stroke="#000" stroke-width="2.3"/>
<text transform="translate(1753.6 647.5) scale(0.800 1)" font-size="23.2" text-anchor="middle" fill="#4d4d4d" stroke="#4d4d4d" stroke-width="0.1">−2.34</text>
<text transform="translate(1605 944.5) scale(0.924 1)" font-size="31" text-anchor="middle">Astrocyte</text>
<text transform="translate(1375 778) rotate(-90) scale(0.940 1)" font-size="31" text-anchor="middle">MCP1</text>
<path d="M1450.8 697C1450.8 705.2 1450.8 713.4 1451 721.6C1451 724.7 1451.3 727.7 1451.7 730.8C1452 732.9 1453.3 734.9 1454.3 737C1455.7 739.5 1457.9 742.1 1459.7 744.7C1461.5 747.2 1463.5 749.8 1465.1 752.4C1466.8 754.9 1468.5 757.5 1469.7 760.1C1471 762.6 1472.3 765.2 1472.8 767.8C1473.3 770.1 1473.9 772.4 1473.9 774.7C1473.9 777.5 1473.4 780.3 1472.8 783.2C1472.3 785.7 1470.5 788.3 1469 790.9C1467.5 793.4 1465.4 796 1463.6 798.6C1461.8 801.1 1459.5 803.7 1458.2 806.3C1456.9 808.8 1455.5 811.4 1455.1 814C1454.7 816.5 1454.3 819.1 1454.3 821.7C1454.3 824.2 1454.3 826.8 1454.3 829.4C1454.3 834.5 1454.1 839.6 1453.9 844.8C1453.7 849.9 1453.2 855 1452.8 860.2C1452.5 865.3 1452 870.4 1451.7 875.6C1451.4 880.7 1451.1 885.8 1451 890.9C1450.9 896.1 1450.8 901.2 1450.8 906.3L1450.2 906.3C1450.2 901.2 1450.1 896.1 1450 890.9C1449.9 885.8 1449.6 880.7 1449.3 875.6C1449 870.4 1448.5 865.3 1448.2 860.2C1447.8 855 1447.3 849.9 1447.1 844.8C1446.9 839.6 1446.7 834.5 1446.7 829.4C1446.7 826.8 1446.7 824.2 1446.7 821.7C1446.7 819.1 1446.3 816.5 1445.9 814C1445.5 811.4 1444.1 808.8 1442.8 806.3C1441.5 803.7 1439.2 801.1 1437.4 798.6C1435.6 796 1433.5 793.4 1432 790.9C1430.5 788.3 1428.7 785.7 1428.2 783.2C1427.6 780.3 1427.1 777.5 1427.1 774.7C1427.1 772.4 1427.7 770.1 1428.2 767.8C1428.7 765.2 1430 762.6 1431.3 760.1C1432.5 757.5 1434.2 754.9 1435.9 752.4C1437.5 749.8 1439.5 747.2 1441.3 744.7C1443.1 742.1 1445.3 739.5 1446.7 737C1447.7 734.9 1449 732.9 1449.3 730.8C1449.7 727.7 1450 724.7 1450 721.6C1450.2 713.4 1450.2 705.2 1450.2 697Z" fill="#DAEBD1" stroke="#0e1a22" stroke-width="1" stroke-linejoin="round"/>
<line x1="1450.5" y1="697" x2="1450.5" y2="907" stroke="#000" stroke-width="1.3"/>
<rect x="1447.6" y="763" width="5.8" height="34" fill="#FBFDFA" stroke="#000" stroke-width="1.8"/>
<line x1="1447.6" y1="778" x2="1453.4" y2="778" stroke="#000" stroke-width="2.4"/>
<path d="M1501.6 697.7C1501.9 698 1502.2 698.2 1502.3 698.5C1503.2 701.1 1503.1 703.6 1503.7 706.2C1504.2 708.8 1505.2 711.3 1506 713.9C1506.7 716.5 1507.3 719 1508.3 721.6C1509.2 724.2 1510.8 726.7 1512.1 729.3C1513.4 731.9 1514.7 734.4 1516 737C1517.3 739.5 1518.6 742.1 1519.8 744.7C1521 747.2 1522.6 749.8 1523.2 752.4C1523.8 754.9 1524.4 757.5 1524.4 760.1C1524.4 762.6 1523.6 765.2 1522.9 767.8C1522.2 770.3 1521 772.9 1519.8 775.5C1518.7 778 1517.3 780.6 1516 783.2C1514.7 785.7 1513.4 788.3 1512.1 790.9C1510.8 793.4 1509.4 796 1508.3 798.6C1507.1 801.1 1506.1 803.7 1505.2 806.3C1504.3 808.8 1503.1 811.4 1502.9 814C1502.6 816.5 1502.6 819.1 1502.4 821.7C1502.3 824.2 1501.8 826.8 1501.8 829.4C1501.7 838.6 1501.6 847.8 1501.6 857.1L1501 857.1C1501 847.8 1501 838.6 1500.9 829.4C1500.9 826.8 1500.4 824.2 1500.3 821.7C1500.1 819.1 1500.1 816.5 1499.8 814C1499.6 811.4 1498.4 808.8 1497.5 806.3C1496.6 803.7 1495.6 801.1 1494.4 798.6C1493.3 796 1491.9 793.4 1490.6 790.9C1489.3 788.3 1488 785.7 1486.7 783.2C1485.4 780.6 1484 778 1482.9 775.5C1481.7 772.9 1480.5 770.3 1479.8 767.8C1479.1 765.2 1478.3 762.6 1478.3 760.1C1478.3 757.5 1478.9 754.9 1479.5 752.4C1480.1 749.8 1481.7 747.2 1482.9 744.7C1484.1 742.1 1485.4 739.5 1486.7 737C1488 734.4 1489.3 731.9 1490.6 729.3C1491.9 726.7 1493.5 724.2 1494.4 721.6C1495.4 719 1496 716.5 1496.7 713.9C1497.5 711.3 1498.5 708.8 1499 706.2C1499.6 703.6 1499.5 701.1 1500.4 698.5C1500.5 698.2 1500.8 698 1501 697.7Z" fill="#A1D8A5" stroke="#0e1a22" stroke-width="1" stroke-linejoin="round"/>
<line x1="1501.3" y1="697.5" x2="1501.3" y2="857" stroke="#000" stroke-width="1.3"/>
<rect x="1498.4" y="745.5" width="5.8" height="32.5" fill="#F6FBF6" stroke="#000" stroke-width="1.8"/>
<line x1="1498.4" y1="760.5" x2="1504.2" y2="760.5" stroke="#000" stroke-width="2.4"/>
<path d="M1552.5 680.8C1552.5 689.3 1552.5 697.7 1552.7 706.2C1552.7 708.8 1553 711.3 1553.4 713.9C1553.8 716.5 1555 719 1556 721.6C1557.1 724.2 1558.4 726.7 1559.9 729.3C1561.4 731.9 1563.5 734.4 1565.3 737C1567.1 739.5 1569.4 742.1 1570.7 744.7C1572 747.2 1573.2 749.8 1573.8 752.4C1574.5 755.7 1575.3 759.1 1575.3 762.4C1575.3 764.2 1574.4 766 1573.8 767.8C1572.8 770.3 1571 772.9 1569.9 775.5C1568.8 778 1568 780.6 1566.8 783.2C1565.7 785.7 1564.1 788.3 1563 790.9C1561.8 793.4 1560.9 796 1559.9 798.6C1558.9 801.1 1557.7 803.7 1556.8 806.3C1555.9 808.8 1555.1 811.4 1554.5 814C1553.9 816.5 1553 819.1 1553 821.7C1552.6 834.7 1552.5 847.8 1552.5 860.9L1551.9 860.9C1551.9 847.8 1551.8 834.7 1551.4 821.7C1551.4 819.1 1550.5 816.5 1549.9 814C1549.3 811.4 1548.5 808.8 1547.6 806.3C1546.7 803.7 1545.5 801.1 1544.5 798.6C1543.5 796 1542.6 793.4 1541.4 790.9C1540.3 788.3 1538.7 785.7 1537.6 783.2C1536.4 780.6 1535.6 778 1534.5 775.5C1533.4 772.9 1531.6 770.3 1530.6 767.8C1530 766 1529.1 764.2 1529.1 762.4C1529.1 759.1 1529.9 755.7 1530.6 752.4C1531.2 749.8 1532.4 747.2 1533.7 744.7C1535 742.1 1537.3 739.5 1539.1 737C1540.9 734.4 1543 731.9 1544.5 729.3C1546 726.7 1547.3 724.2 1548.4 721.6C1549.4 719 1550.6 716.5 1551 713.9C1551.4 711.3 1551.7 708.8 1551.7 706.2C1551.9 697.7 1551.9 689.3 1551.9 680.8Z" fill="#6DC6B4" stroke="#0e1a22" stroke-width="1" stroke-linejoin="round"/>
<line x1="1552.2" y1="681.2" x2="1552.2" y2="861.2" stroke="#000" stroke-width="1.3"/>
<rect x="1549.3" y="747.5" width="5.8" height="33" fill="#F0F9F8" stroke="#000" stroke-width="1.8"/>
<line x1="1549.3" y1="763" x2="1555.1" y2="763" stroke="#000" stroke-width="2.4"/>
<path d="M1603.3 701.6C1603.3 706.7 1603.4 711.8 1603.5 717C1603.5 718.5 1603.7 720 1603.8 721.6C1604.1 724.2 1605.4 726.7 1606.1 729.3C1606.9 731.9 1607.5 734.4 1608.4 737C1609.4 739.5 1611 742.1 1612.3 744.7C1613.6 747.2 1614.6 749.8 1616.1 752.4C1617.6 754.9 1620 757.5 1621.5 760.1C1623 762.6 1624.6 765.2 1625.4 767.8C1625.7 768.8 1626.1 769.8 1626.1 770.9C1626.1 772.4 1626 773.9 1625.8 775.5C1625.6 778 1624.6 780.6 1623.8 783.2C1623.1 785.7 1622.6 788.3 1621.5 790.9C1620.5 793.4 1618.4 796 1616.9 798.6C1615.4 801.1 1613.8 803.7 1612.3 806.3C1610.7 808.8 1608.9 811.4 1607.7 814C1606.4 816.5 1605.3 819.1 1604.6 821.7C1604.1 823.2 1603.5 824.7 1603.5 826.3C1603.4 837.3 1603.3 848.4 1603.3 859.4L1602.8 859.4C1602.8 848.4 1602.7 837.3 1602.6 826.3C1602.6 824.7 1602 823.2 1601.5 821.7C1600.8 819.1 1599.7 816.5 1598.4 814C1597.2 811.4 1595.4 808.8 1593.8 806.3C1592.3 803.7 1590.7 801.1 1589.2 798.6C1587.7 796 1585.6 793.4 1584.6 790.9C1583.5 788.3 1583 785.7 1582.3 783.2C1581.5 780.6 1580.5 778 1580.3 775.5C1580.1 773.9 1580 772.4 1580 770.9C1580 769.8 1580.4 768.8 1580.7 767.8C1581.5 765.2 1583.1 762.6 1584.6 760.1C1586.1 757.5 1588.5 754.9 1590 752.4C1591.5 749.8 1592.5 747.2 1593.8 744.7C1595.1 742.1 1596.7 739.5 1597.7 737C1598.6 734.4 1599.2 731.9 1600 729.3C1600.7 726.7 1602 724.2 1602.3 721.6C1602.4 720 1602.6 718.5 1602.6 717C1602.7 711.8 1602.8 706.7 1602.8 701.6Z" fill="#4AA8D2" stroke="#0e1a22" stroke-width="1" stroke-linejoin="round"/>
<line x1="1603" y1="701.2" x2="1603" y2="859.5" stroke="#000" stroke-width="1.3"/>
<rect x="1600.1" y="761.8" width="5.8" height="27.5" fill="#EDF6FA" stroke="#000" stroke-width="1.8"/>
<line x1="1600.1" y1="775" x2="1606" y2="775" stroke="#000" stroke-width="2.4"/>
<path d="M1654.2 669.2C1654.2 678.5 1654.2 687.7 1654.4 697C1654.4 699 1654.5 701.1 1654.7 703.1C1654.9 705.7 1656.1 708.2 1657 710.8C1657.9 713.4 1658.8 715.9 1660.1 718.5C1661.3 721.1 1663 723.6 1664.7 726.2C1666.3 728.8 1668.4 731.3 1670.1 733.9C1671.7 736.5 1673.6 739 1674.7 741.6C1675.5 743.7 1676.5 745.7 1676.7 747.8C1676.9 749.8 1677 751.9 1677 753.9C1677 756 1676.6 758 1676.2 760.1C1675.7 762.6 1674.5 765.2 1673.1 767.8C1671.8 770.3 1669.6 772.9 1667.8 775.5C1666 778 1664 780.6 1662.4 783.2C1660.7 785.7 1658.9 788.3 1657.7 790.9C1656.6 793.4 1655.7 796 1655.1 798.6C1654.8 800.1 1654.4 801.6 1654.4 803.2C1654.2 815 1654.2 826.8 1654.2 838.6L1653.6 838.6C1653.6 826.8 1653.6 815 1653.4 803.2C1653.4 801.6 1653 800.1 1652.7 798.6C1652.1 796 1651.2 793.4 1650.1 790.9C1648.9 788.3 1647.1 785.7 1645.4 783.2C1643.8 780.6 1641.8 778 1640 775.5C1638.2 772.9 1636 770.3 1634.7 767.8C1633.3 765.2 1632.1 762.6 1631.6 760.1C1631.2 758 1630.8 756 1630.8 753.9C1630.8 751.9 1630.9 749.8 1631.1 747.8C1631.3 745.7 1632.3 743.7 1633.1 741.6C1634.2 739 1636.1 736.5 1637.7 733.9C1639.4 731.3 1641.5 728.8 1643.1 726.2C1644.8 723.6 1646.5 721.1 1647.7 718.5C1649 715.9 1649.9 713.4 1650.8 710.8C1651.7 708.2 1652.9 705.7 1653.1 703.1C1653.3 701.1 1653.4 699 1653.4 697C1653.6 687.7 1653.6 678.5 1653.6 669.2Z" fill="#2E7FBB" stroke="#0e1a22" stroke-width="1" stroke-linejoin="round"/>
<line x1="1653.9" y1="669.2" x2="1653.9" y2="838.8" stroke="#000" stroke-width="1.3"/>
<rect x="1651" y="740.5" width="5.8" height="26.5" fill="#EAF2F8" stroke="#000" stroke-width="1.8"/>
<line x1="1651" y1="754.2" x2="1656.8" y2="754.2" stroke="#000" stroke-width="2.4"/>
<path d="M1705 663.8C1705 669.8 1705.1 675.7 1705.2 681.6C1705.2 683.6 1705.4 685.7 1705.5 687.7C1705.7 690.3 1706.4 692.8 1707.1 695.4C1707.7 698 1708.5 700.5 1709.4 703.1C1710.2 705.7 1711.3 708.2 1712.4 710.8C1713.6 713.4 1715 715.9 1716.3 718.5C1717.6 721.1 1719 723.6 1720.1 726.2C1721.3 728.8 1722.3 731.3 1723.2 733.9C1724.1 736.5 1724.9 739 1725.5 741.6C1726.2 744.2 1727.1 746.7 1727.4 749.3C1727.6 751.9 1727.8 754.4 1727.8 757C1727.8 759.6 1727.5 762.1 1727.1 764.7C1726.7 767.3 1725.6 769.8 1724.8 772.4C1723.9 775 1722.8 777.5 1721.7 780.1C1720.5 782.7 1719.2 785.2 1717.8 787.8C1716.4 790.4 1714.6 792.9 1713.2 795.5C1711.8 798.1 1710.4 800.6 1709.4 803.2C1708.3 805.8 1707.3 808.3 1706.6 810.9C1706.1 812.9 1705.4 815 1705.4 817C1705.1 826.3 1705 835.5 1705 844.8L1704.5 844.8C1704.5 835.5 1704.4 826.3 1704.1 817C1704.1 815 1703.4 812.9 1702.9 810.9C1702.2 808.3 1701.2 805.8 1700.1 803.2C1699.1 800.6 1697.7 798.1 1696.3 795.5C1694.9 792.9 1693.1 790.4 1691.7 787.8C1690.3 785.2 1689 782.7 1687.8 780.1C1686.7 777.5 1685.6 775 1684.7 772.4C1683.9 769.8 1682.8 767.3 1682.4 764.7C1682 762.1 1681.7 759.6 1681.7 757C1681.7 754.4 1681.9 751.9 1682.1 749.3C1682.4 746.7 1683.3 744.2 1684 741.6C1684.6 739 1685.4 736.5 1686.3 733.9C1687.2 731.3 1688.2 728.8 1689.4 726.2C1690.5 723.6 1691.9 721.1 1693.2 718.5C1694.5 715.9 1695.9 713.4 1697.1 710.8C1698.2 708.2 1699.3 705.7 1700.1 703.1C1701 700.5 1701.8 698 1702.4 695.4C1703.1 692.8 1703.8 690.3 1704 687.7C1704.1 685.7 1704.3 683.6 1704.3 681.6C1704.4 675.7 1704.5 669.8 1704.5 663.8Z" fill="#0F5CA8" stroke="#0e1a22" stroke-width="1" stroke-linejoin="round"/>
<line x1="1704.8" y1="664.2" x2="1704.8" y2="844.5" stroke="#000" stroke-width="1.3"/>
<rect x="1701.8" y="737.5" width="5.8" height="37" fill="#E7EFF6" stroke="#000" stroke-width="1.8"/>
<line x1="1701.8" y1="757" x2="1707.7" y2="757" stroke="#000" stroke-width="2.4"/>
<path d="M1755.9 730.1C1756.2 730.3 1756.7 730.6 1756.7 730.8C1757 735.4 1756.8 740.1 1757 744.7C1757.1 747.2 1757.2 749.8 1757.4 752.4C1757.7 754.9 1758.4 757.5 1759 760.1C1759.6 762.6 1760.3 765.2 1761 767.8C1761.7 770.3 1762.4 772.9 1763.3 775.5C1764.2 778 1765.5 780.6 1766.4 783.2C1767.3 785.7 1767.8 788.3 1768.7 790.9C1769.6 793.4 1770.7 796 1771.8 798.6C1772.8 801.1 1773.9 803.7 1774.8 806.3C1775.8 808.8 1776.9 811.4 1777.5 814C1777.9 816 1778.4 818.1 1778.4 820.1C1778.4 822.2 1777.7 824.2 1777.2 826.3C1776.4 828.8 1774.7 831.4 1773.3 834C1771.9 836.5 1770.3 839.1 1768.7 841.7C1767 844.2 1765 846.8 1763.3 849.4C1761.6 851.9 1759.9 854.5 1758.7 857.1C1757.7 859.1 1756.4 861.2 1756.4 863.2C1756 876.8 1755.9 890.4 1755.9 904L1755.3 904C1755.3 890.4 1755.2 876.8 1754.8 863.2C1754.8 861.2 1753.5 859.1 1752.5 857.1C1751.3 854.5 1749.6 851.9 1747.9 849.4C1746.2 846.8 1744.2 844.2 1742.5 841.7C1740.9 839.1 1739.3 836.5 1737.9 834C1736.5 831.4 1734.8 828.8 1734 826.3C1733.5 824.2 1732.8 822.2 1732.8 820.1C1732.8 818.1 1733.3 816 1733.7 814C1734.3 811.4 1735.4 808.8 1736.4 806.3C1737.3 803.7 1738.4 801.1 1739.4 798.6C1740.5 796 1741.6 793.4 1742.5 790.9C1743.4 788.3 1743.9 785.7 1744.8 783.2C1745.7 780.6 1747 778 1747.9 775.5C1748.8 772.9 1749.5 770.3 1750.2 767.8C1750.9 765.2 1751.6 762.6 1752.2 760.1C1752.8 757.5 1753.5 754.9 1753.8 752.4C1754 749.8 1754.1 747.2 1754.2 744.7C1754.4 740.1 1754.2 735.4 1754.5 730.8C1754.5 730.6 1755 730.3 1755.3 730.1Z" fill="#273C80" stroke="#0e1a22" stroke-width="1" stroke-linejoin="round"/>
<line x1="1755.6" y1="730" x2="1755.6" y2="903.8" stroke="#000" stroke-width="1.3"/>
<rect x="1752.7" y="798.8" width="5.8" height="31.8" fill="#E9ECF2" stroke="#000" stroke-width="1.8"/>
<line x1="1752.7" y1="815.5" x2="1758.5" y2="815.5" stroke="#000" stroke-width="2.4"/>
<line x1="1419.3" y1="978.8" x2="1419.3" y2="1246.7" stroke="#000" stroke-width="2.3"/>
<line x1="1418.1" y1="1245.5" x2="1785" y2="1245.5" stroke="#000" stroke-width="2.3"/>
<line x1="1411.3" y1="1016.8" x2="1419.3" y2="1016.8" stroke="#000" stroke-width="2.3"/>
<text transform="translate(1408.3 1025.6) scale(0.920 1)" font-size="24.5" text-anchor="end">5</text>
<line x1="1411.3" y1="1088.3" x2="1419.3" y2="1088.3" stroke="#000" stroke-width="2.3"/>
<text transform="translate(1408.3 1097.1) scale(0.920 1)" font-size="24.5" text-anchor="end">0</text>
<line x1="1411.3" y1="1160" x2="1419.3" y2="1160" stroke="#000" stroke-width="2.3"/>
<text transform="translate(1408.3 1168.8) scale(0.920 1)" font-size="24.5" text-anchor="end">−5</text>
<line x1="1411.3" y1="1231.3" x2="1419.3" y2="1231.3" stroke="#000" stroke-width="2.3"/>
<text transform="translate(1408.3 1240.1) scale(0.920 1)" font-size="24.5" text-anchor="end">−10</text>
<line x1="1448.8" y1="1245.5" x2="1448.8" y2="1253" stroke="#000" stroke-width="2.3"/>
<text transform="translate(1448.8 984.5) scale(0.800 1)" font-size="23.2" text-anchor="middle" fill="#4d4d4d" stroke="#4d4d4d" stroke-width="0.1">0.00</text>
<line x1="1499.7" y1="1245.5" x2="1499.7" y2="1253" stroke="#000" stroke-width="2.3"/>
<text transform="translate(1499.7 984.5) scale(0.800 1)" font-size="23.2" text-anchor="middle" fill="#4d4d4d" stroke="#4d4d4d" stroke-width="0.1">0.48</text>
<line x1="1550.6" y1="1245.5" x2="1550.6" y2="1253" stroke="#000" stroke-width="2.3"/>
<text transform="translate(1550.6 984.5) scale(0.800 1)" font-size="23.2" text-anchor="middle" fill="#4d4d4d" stroke="#4d4d4d" stroke-width="0.1">1.03</text>
<line x1="1601.6" y1="1245.5" x2="1601.6" y2="1253" stroke="#000" stroke-width="2.3"/>
<text transform="translate(1601.6 984.5) scale(0.800 1)" font-size="23.2" text-anchor="middle" fill="#4d4d4d" stroke="#4d4d4d" stroke-width="0.1">0.35</text>
<line x1="1652.5" y1="1245.5" x2="1652.5" y2="1253" stroke="#000" stroke-width="2.3"/>
<text transform="translate(1652.5 984.5) scale(0.800 1)" font-size="23.2" text-anchor="middle" fill="#4d4d4d" stroke="#4d4d4d" stroke-width="0.1">2.07</text>
<line x1="1703.4" y1="1245.5" x2="1703.4" y2="1253" stroke="#000" stroke-width="2.3"/>
<text transform="translate(1703.4 984.5) scale(0.800 1)" font-size="23.2" text-anchor="middle" fill="#4d4d4d" stroke="#4d4d4d" stroke-width="0.1">1.36</text>
<line x1="1754.3" y1="1245.5" x2="1754.3" y2="1253" stroke="#000" stroke-width="2.3"/>
<text transform="translate(1752.3 984.5) scale(0.800 1)" font-size="23.2" text-anchor="middle" fill="#4d4d4d" stroke="#4d4d4d" stroke-width="0.1">−1.50</text>
<text transform="translate(1603.6 1281.3) scale(0.924 1)" font-size="31" text-anchor="middle">Microglia</text>
<text transform="translate(1375 1115.5) rotate(-90) scale(0.940 1)" font-size="31" text-anchor="middle">MCP1</text>
<path d="M1449.1 1018.5C1449.1 1023.9 1449.2 1029.3 1449.3 1034.6C1449.3 1036.7 1449.4 1038.8 1449.6 1040.8C1449.8 1043.4 1451 1045.9 1451.9 1048.5C1452.8 1051.1 1453.7 1053.6 1455 1056.2C1456.2 1058.8 1457.9 1061.3 1459.6 1063.9C1461.2 1066.5 1463.3 1069 1465 1071.6C1466.6 1074.2 1468.7 1076.7 1469.6 1079.3C1470.5 1081.9 1471.6 1084.4 1471.6 1087C1471.6 1089.6 1470 1092.1 1468.8 1094.7C1467.6 1097.3 1465.1 1099.8 1463.4 1102.4C1461.8 1105 1460 1107.5 1458.8 1110.1C1457.6 1112.7 1456.8 1115.2 1455.7 1117.8C1454.7 1120.4 1453.5 1122.9 1452.6 1125.5C1451.8 1128.1 1450.9 1130.6 1450.3 1133.2C1450 1134.7 1449.4 1136.3 1449.4 1137.8C1449.1 1154.2 1449.1 1170.7 1449.1 1187.1L1448.5 1187.1C1448.5 1170.7 1448.5 1154.2 1448.2 1137.8C1448.2 1136.3 1447.6 1134.7 1447.3 1133.2C1446.7 1130.6 1445.8 1128.1 1445 1125.5C1444.1 1122.9 1442.9 1120.4 1441.9 1117.8C1440.8 1115.2 1440 1112.7 1438.8 1110.1C1437.6 1107.5 1435.8 1105 1434.2 1102.4C1432.5 1099.8 1430 1097.3 1428.8 1094.7C1427.6 1092.1 1426 1089.6 1426 1087C1426 1084.4 1427.1 1081.9 1428 1079.3C1428.9 1076.7 1431 1074.2 1432.6 1071.6C1434.3 1069 1436.4 1066.5 1438 1063.9C1439.7 1061.3 1441.4 1058.8 1442.6 1056.2C1443.9 1053.6 1444.8 1051.1 1445.7 1048.5C1446.6 1045.9 1447.8 1043.4 1448 1040.8C1448.2 1038.8 1448.3 1036.7 1448.3 1034.6C1448.4 1029.3 1448.5 1023.9 1448.5 1018.5Z" fill="#DAEBD1" stroke="#0e1a22" stroke-width="1" stroke-linejoin="round"/>
<line x1="1448.8" y1="1018.8" x2="1448.8" y2="1187" stroke="#000" stroke-width="1.3"/>
<rect x="1445.9" y="1076.8" width="5.8" height="25.2" fill="#FBFDFA" stroke="#000" stroke-width="1.8"/>
<line x1="1445.9" y1="1089.2" x2="1451.7" y2="1089.2" stroke="#000" stroke-width="2.4"/>
<path d="M1500 997.7C1500 1008.5 1500.1 1019.3 1500.2 1030C1500.2 1032.1 1500.3 1034.1 1500.5 1036.2C1500.7 1038.8 1502.8 1041.3 1504.3 1043.9C1505.8 1046.5 1508.1 1049 1509.7 1051.6C1511.4 1054.2 1512.8 1056.7 1514.3 1059.3C1515.9 1061.9 1517.8 1064.4 1519 1067C1520.1 1069.5 1521.1 1072.1 1521.7 1074.7C1522.2 1076.7 1522.8 1078.8 1522.8 1080.8C1522.8 1083.4 1522.5 1086 1522 1088.5C1521.6 1091.1 1520.1 1093.7 1519 1096.2C1517.8 1098.8 1516.6 1101.4 1515.1 1103.9C1513.6 1106.5 1511.4 1109.1 1509.7 1111.6C1508.1 1114.2 1506.3 1116.8 1505.1 1119.3C1503.9 1121.9 1502.8 1124.5 1502 1127C1501.4 1129.1 1500.6 1131.1 1500.5 1133.2C1500.2 1138.3 1500 1143.5 1500 1148.6L1499.4 1148.6C1499.4 1143.5 1499.3 1138.3 1499 1133.2C1498.8 1131.1 1498 1129.1 1497.4 1127C1496.6 1124.5 1495.6 1121.9 1494.3 1119.3C1493.1 1116.8 1491.4 1114.2 1489.7 1111.6C1488.1 1109.1 1485.8 1106.5 1484.3 1103.9C1482.8 1101.4 1481.6 1098.8 1480.5 1096.2C1479.3 1093.7 1477.8 1091.1 1477.4 1088.5C1477 1086 1476.6 1083.4 1476.6 1080.8C1476.6 1078.8 1477.2 1076.7 1477.7 1074.7C1478.3 1072.1 1479.3 1069.5 1480.5 1067C1481.6 1064.4 1483.6 1061.9 1485.1 1059.3C1486.6 1056.7 1488.1 1054.2 1489.7 1051.6C1491.4 1049 1493.6 1046.5 1495.1 1043.9C1496.6 1041.3 1498.7 1038.8 1499 1036.2C1499.1 1034.1 1499.2 1032.1 1499.3 1030C1499.4 1019.3 1499.4 1008.5 1499.4 997.7Z" fill="#A1D8A5" stroke="#0e1a22" stroke-width="1" stroke-linejoin="round"/>
<line x1="1499.7" y1="998" x2="1499.7" y2="1148.8" stroke="#000" stroke-width="1.3"/>
<rect x="1496.8" y="1068.8" width="5.8" height="27.5" fill="#F6FBF6" stroke="#000" stroke-width="1.8"/>
<line x1="1496.8" y1="1082" x2="1502.6" y2="1082" stroke="#000" stroke-width="2.4"/>
<path d="M1550.9 1008.5C1550.9 1014.6 1551 1020.8 1551.1 1027C1551.1 1028.5 1551.5 1030 1551.9 1031.6C1552.4 1033.6 1554.9 1035.7 1556.8 1037.7C1558.7 1039.8 1561.8 1041.8 1563.7 1043.9C1566.1 1046.5 1568.5 1049 1569.9 1051.6C1571.3 1054.2 1572.5 1056.7 1573 1059.3C1573.3 1061.3 1573.7 1063.4 1573.7 1065.4C1573.7 1068 1573.4 1070.6 1573 1073.1C1572.6 1075.7 1570.9 1078.3 1569.9 1080.8C1568.9 1083.4 1567.5 1086 1566.8 1088.5C1566.1 1091.1 1566 1093.7 1565.3 1096.2C1564.5 1098.8 1562.7 1101.4 1561.4 1103.9C1560.1 1106.5 1558.7 1109.1 1557.6 1111.6C1556.4 1114.2 1555.4 1116.8 1554.5 1119.3C1553.6 1121.9 1552.7 1124.5 1552.2 1127C1551.8 1129.1 1551.3 1131.1 1551.3 1133.2C1551 1144.2 1550.9 1155.3 1550.9 1166.3L1550.3 1166.3C1550.3 1155.3 1550.3 1144.2 1550 1133.2C1550 1131.1 1549.5 1129.1 1549.1 1127C1548.6 1124.5 1547.7 1121.9 1546.8 1119.3C1545.9 1116.8 1544.9 1114.2 1543.7 1111.6C1542.6 1109.1 1541.1 1106.5 1539.9 1103.9C1538.6 1101.4 1536.7 1098.8 1536 1096.2C1535.3 1093.7 1535.2 1091.1 1534.5 1088.5C1533.8 1086 1532.4 1083.4 1531.4 1080.8C1530.4 1078.3 1528.7 1075.7 1528.3 1073.1C1527.9 1070.6 1527.5 1068 1527.5 1065.4C1527.5 1063.4 1527.9 1061.3 1528.3 1059.3C1528.8 1056.7 1530 1054.2 1531.4 1051.6C1532.8 1049 1535.1 1046.5 1537.6 1043.9C1539.5 1041.8 1542.6 1039.8 1544.5 1037.7C1546.4 1035.7 1548.9 1033.6 1549.4 1031.6C1549.8 1030 1550.1 1028.5 1550.2 1027C1550.3 1020.8 1550.3 1014.6 1550.3 1008.5Z" fill="#6DC6B4" stroke="#0e1a22" stroke-width="1" stroke-linejoin="round"/>
<line x1="1550.6" y1="1008" x2="1550.6" y2="1166.2" stroke="#000" stroke-width="1.3"/>
<rect x="1547.7" y="1060" width="5.8" height="31.2" fill="#F0F9F8" stroke="#000" stroke-width="1.8"/>
<line x1="1547.7" y1="1073.8" x2="1553.5" y2="1073.8" stroke="#000" stroke-width="2.4"/>
<path d="M1601.9 1016.2C1601.9 1017.7 1602 1019.3 1602 1020.8C1602.1 1022.3 1602.2 1023.9 1602.3 1025.4C1602.6 1028 1603.8 1030.5 1604.6 1033.1C1605.5 1035.7 1606.6 1038.2 1607.7 1040.8C1608.9 1043.4 1610.3 1045.9 1611.6 1048.5C1612.9 1051.1 1614.3 1053.6 1615.4 1056.2C1616.6 1058.8 1617.5 1061.3 1618.5 1063.9C1619.5 1066.5 1620.7 1069 1621.6 1071.6C1622.5 1074.2 1623.6 1076.7 1624 1079.3C1624.3 1080.8 1624.7 1082.4 1624.7 1083.9C1624.7 1086 1624.1 1088 1623.6 1090.1C1622.9 1092.6 1621.3 1095.2 1620 1097.8C1618.8 1100.3 1617.5 1102.9 1616.2 1105.5C1614.9 1108 1613.7 1110.6 1612.3 1113.2C1610.9 1115.7 1609.1 1118.3 1607.7 1120.9C1606.3 1123.4 1604.8 1126 1603.9 1128.6C1603.1 1130.6 1602.2 1132.7 1602.2 1134.7C1601.9 1143.7 1601.9 1152.7 1601.9 1161.7L1601.3 1161.7C1601.3 1152.7 1601.2 1143.7 1600.9 1134.7C1600.9 1132.7 1600 1130.6 1599.3 1128.6C1598.3 1126 1596.8 1123.4 1595.4 1120.9C1594 1118.3 1592.2 1115.7 1590.8 1113.2C1589.4 1110.6 1588.2 1108 1586.9 1105.5C1585.7 1102.9 1584.3 1100.3 1583.1 1097.8C1581.9 1095.2 1580.2 1092.6 1579.5 1090.1C1579 1088 1578.5 1086 1578.5 1083.9C1578.5 1082.4 1578.8 1080.8 1579.1 1079.3C1579.5 1076.7 1580.6 1074.2 1581.5 1071.6C1582.5 1069 1583.6 1066.5 1584.6 1063.9C1585.7 1061.3 1586.6 1058.8 1587.7 1056.2C1588.8 1053.6 1590.3 1051.1 1591.6 1048.5C1592.8 1045.9 1594.3 1043.4 1595.4 1040.8C1596.5 1038.2 1597.6 1035.7 1598.5 1033.1C1599.4 1030.5 1600.5 1028 1600.8 1025.4C1600.9 1023.9 1601 1022.3 1601.1 1020.8C1601.2 1019.3 1601.2 1017.7 1601.3 1016.2Z" fill="#4AA8D2" stroke="#0e1a22" stroke-width="1" stroke-linejoin="round"/>
<line x1="1601.6" y1="1016.2" x2="1601.6" y2="1162" stroke="#000" stroke-width="1.3"/>
<rect x="1598.7" y="1068.8" width="5.8" height="30" fill="#EDF6FA" stroke="#000" stroke-width="1.8"/>
<line x1="1598.7" y1="1083.8" x2="1604.5" y2="1083.8" stroke="#000" stroke-width="2.4"/>
<path d="M1652.8 993.1C1652.8 997.2 1652.8 1001.3 1652.9 1005.4C1653 1006.9 1653.3 1008.5 1653.7 1010C1654.3 1012.6 1656.3 1015.1 1657.9 1017.7C1659.4 1020.3 1661.5 1022.8 1663.3 1025.4C1665.1 1028 1667.1 1030.5 1668.6 1033.1C1670.2 1035.7 1671.8 1038.2 1672.8 1040.8C1673.8 1043.4 1674.8 1045.9 1675.1 1048.5C1675.4 1050.6 1675.6 1052.6 1675.6 1054.7C1675.6 1057.2 1675.2 1059.8 1674.8 1062.4C1674.4 1064.9 1672.9 1067.5 1671.7 1070.1C1670.6 1072.6 1669.2 1075.2 1667.9 1077.8C1666.6 1080.3 1665.3 1082.9 1664 1085.5C1662.7 1088 1661.4 1090.6 1660.2 1093.2C1659 1095.7 1657.7 1098.3 1656.8 1100.9C1655.8 1103.4 1655 1106 1654.3 1108.6C1653.8 1110.6 1653.1 1112.7 1653.1 1114.7C1652.8 1129.3 1652.8 1144 1652.8 1158.6L1652.2 1158.6C1652.2 1144 1652.1 1129.3 1651.9 1114.7C1651.8 1112.7 1651.1 1110.6 1650.6 1108.6C1650 1106 1649.1 1103.4 1648.2 1100.9C1647.2 1098.3 1646 1095.7 1644.8 1093.2C1643.6 1090.6 1642.2 1088 1640.9 1085.5C1639.6 1082.9 1638.4 1080.3 1637.1 1077.8C1635.8 1075.2 1634.4 1072.6 1633.2 1070.1C1632.1 1067.5 1630.6 1064.9 1630.2 1062.4C1629.7 1059.8 1629.4 1057.2 1629.4 1054.7C1629.4 1052.6 1629.6 1050.6 1629.8 1048.5C1630.1 1045.9 1631.2 1043.4 1632.2 1040.8C1633.1 1038.2 1634.7 1035.7 1636.3 1033.1C1637.9 1030.5 1639.9 1028 1641.7 1025.4C1643.5 1022.8 1645.5 1020.3 1647.1 1017.7C1648.7 1015.1 1650.6 1012.6 1651.2 1010C1651.6 1008.5 1652 1006.9 1652 1005.4C1652.1 1001.3 1652.2 997.2 1652.2 993.1Z" fill="#2E7FBB" stroke="#0e1a22" stroke-width="1" stroke-linejoin="round"/>
<line x1="1652.5" y1="992.5" x2="1652.5" y2="1158.8" stroke="#000" stroke-width="1.3"/>
<rect x="1649.6" y="1043.8" width="5.8" height="32.5" fill="#EAF2F8" stroke="#000" stroke-width="1.8"/>
<line x1="1649.6" y1="1058.8" x2="1655.4" y2="1058.8" stroke="#000" stroke-width="2.4"/>
<path d="M1703.7 993.8C1703.7 1001.3 1703.7 1008.7 1703.9 1016.2C1703.9 1017.7 1704 1019.3 1704.2 1020.8C1704.4 1023.4 1706.1 1025.9 1707.2 1028.5C1708.4 1031.1 1709.6 1033.6 1711.1 1036.2C1712.6 1038.8 1714.7 1041.3 1716.5 1043.9C1718.3 1046.5 1720.5 1049 1721.9 1051.6C1723.3 1054.2 1724.8 1056.7 1725.4 1059.3C1725.9 1061.3 1726.5 1063.4 1726.5 1065.4C1726.5 1068 1725.7 1070.6 1725 1073.1C1724.2 1075.7 1722.5 1078.3 1721.1 1080.8C1719.7 1083.4 1717.9 1086 1716.5 1088.5C1715.1 1091.1 1713.8 1093.7 1712.6 1096.2C1711.5 1098.8 1710.5 1101.4 1709.6 1103.9C1708.6 1106.5 1707.6 1109.1 1706.8 1111.6C1706 1114.2 1705.2 1116.8 1704.6 1119.3C1704.3 1120.9 1703.9 1122.4 1703.9 1123.9C1703.7 1136.3 1703.7 1148.6 1703.7 1160.9L1703.1 1160.9C1703.1 1148.6 1703.1 1136.3 1702.9 1123.9C1702.9 1122.4 1702.5 1120.9 1702.2 1119.3C1701.6 1116.8 1700.8 1114.2 1700 1111.6C1699.2 1109.1 1698.2 1106.5 1697.2 1103.9C1696.3 1101.4 1695.3 1098.8 1694.2 1096.2C1693 1093.7 1691.7 1091.1 1690.3 1088.5C1688.9 1086 1687.1 1083.4 1685.7 1080.8C1684.3 1078.3 1682.6 1075.7 1681.8 1073.1C1681.1 1070.6 1680.3 1068 1680.3 1065.4C1680.3 1063.4 1680.9 1061.3 1681.4 1059.3C1682 1056.7 1683.5 1054.2 1684.9 1051.6C1686.3 1049 1688.5 1046.5 1690.3 1043.9C1692.1 1041.3 1694.2 1038.8 1695.7 1036.2C1697.2 1033.6 1698.4 1031.1 1699.6 1028.5C1700.7 1025.9 1702.4 1023.4 1702.6 1020.8C1702.8 1019.3 1702.9 1017.7 1702.9 1016.2C1703.1 1008.7 1703.1 1001.3 1703.1 993.8Z" fill="#0F5CA8" stroke="#0e1a22" stroke-width="1" stroke-linejoin="round"/>
<line x1="1703.4" y1="993.8" x2="1703.4" y2="1161.2" stroke="#000" stroke-width="1.3"/>
<rect x="1700.5" y="1056.2" width="5.8" height="28" fill="#E7EFF6" stroke="#000" stroke-width="1.8"/>
<line x1="1700.5" y1="1068.8" x2="1706.3" y2="1068.8" stroke="#000" stroke-width="2.4"/>
<path d="M1754.6 1022.3C1754.6 1029.5 1754.7 1036.7 1754.8 1043.9C1754.8 1046.5 1754.8 1049 1754.9 1051.6C1755 1054.2 1755.4 1056.7 1755.9 1059.3C1756.3 1061.9 1757.4 1064.4 1758.2 1067C1758.9 1069.5 1759.6 1072.1 1760.5 1074.7C1761.4 1077.2 1762.4 1079.8 1763.6 1082.4C1764.7 1084.9 1765.9 1087.5 1767.4 1090.1C1768.9 1092.6 1771.1 1095.2 1772.8 1097.8C1774.1 1099.8 1776 1101.9 1776.6 1103.9C1777 1105.2 1777.4 1106.5 1777.4 1107.8C1777.4 1109.6 1777 1111.4 1776.6 1113.2C1776.1 1115.7 1774.8 1118.3 1773.6 1120.9C1772.3 1123.4 1770.5 1126 1768.9 1128.6C1767.4 1131.1 1765.9 1133.7 1764.3 1136.3C1762.8 1138.8 1760.9 1141.4 1759.7 1144C1758.5 1146.5 1757.3 1149.1 1756.6 1151.7C1756 1154.2 1755.4 1156.8 1755.2 1159.4C1755 1164.5 1754.8 1169.6 1754.8 1174.8C1754.7 1194.8 1754.6 1214.8 1754.6 1234.8L1754 1234.8C1754 1214.8 1754 1194.8 1753.9 1174.8C1753.8 1169.6 1753.7 1164.5 1753.4 1159.4C1753.3 1156.8 1752.6 1154.2 1752 1151.7C1751.4 1149.1 1750.2 1146.5 1748.9 1144C1747.7 1141.4 1745.9 1138.8 1744.3 1136.3C1742.8 1133.7 1741.2 1131.1 1739.7 1128.6C1738.2 1126 1736.3 1123.4 1735.1 1120.9C1733.8 1118.3 1732.5 1115.7 1732 1113.2C1731.6 1111.4 1731.2 1109.6 1731.2 1107.8C1731.2 1106.5 1731.6 1105.2 1732 1103.9C1732.6 1101.9 1734.5 1099.8 1735.8 1097.8C1737.5 1095.2 1739.7 1092.6 1741.2 1090.1C1742.7 1087.5 1743.9 1084.9 1745.1 1082.4C1746.2 1079.8 1747.3 1077.2 1748.2 1074.7C1749 1072.1 1749.7 1069.5 1750.5 1067C1751.2 1064.4 1752.3 1061.9 1752.8 1059.3C1753.2 1056.7 1753.6 1054.2 1753.7 1051.6C1753.8 1049 1753.8 1046.5 1753.9 1043.9C1753.9 1036.7 1754 1029.5 1754 1022.3Z" fill="#273C80" stroke="#0e1a22" stroke-width="1" stroke-linejoin="round"/>
<line x1="1754.3" y1="1022" x2="1754.3" y2="1235.5" stroke="#000" stroke-width="1.3"/>
<rect x="1751.4" y="1096.8" width="5.8" height="28.2" fill="#E9ECF2" stroke="#000" stroke-width="1.8"/>
<line x1="1751.4" y1="1110" x2="1757.2" y2="1110" stroke="#000" stroke-width="2.4"/>
<line x1="1419.3" y1="1313.8" x2="1419.3" y2="1581.7" stroke="#000" stroke-width="2.3"/>
<line x1="1418.1" y1="1580.5" x2="1785" y2="1580.5" stroke="#000" stroke-width="2.3"/>
<line x1="1411.3" y1="1366.3" x2="1419.3" y2="1366.3" stroke="#000" stroke-width="2.3"/>
<text transform="translate(1408.3 1375.1) scale(0.920 1)" font-size="24.5" text-anchor="end">4</text>
<line x1="1411.3" y1="1444.3" x2="1419.3" y2="1444.3" stroke="#000" stroke-width="2.3"/>
<text transform="translate(1408.3 1453.1) scale(0.920 1)" font-size="24.5" text-anchor="end">0</text>
<line x1="1411.3" y1="1521.8" x2="1419.3" y2="1521.8" stroke="#000" stroke-width="2.3"/>
<text transform="translate(1408.3 1530.6) scale(0.920 1)" font-size="24.5" text-anchor="end">−4</text>
<line x1="1448.8" y1="1580.5" x2="1448.8" y2="1588" stroke="#000" stroke-width="2.3"/>
<text transform="translate(1448.8 1318.5) scale(0.800 1)" font-size="23.2" text-anchor="middle" fill="#4d4d4d" stroke="#4d4d4d" stroke-width="0.1">0.00</text>
<line x1="1499.7" y1="1580.5" x2="1499.7" y2="1588" stroke="#000" stroke-width="2.3"/>
<text transform="translate(1497.7 1318.5) scale(0.800 1)" font-size="23.2" text-anchor="middle" fill="#4d4d4d" stroke="#4d4d4d" stroke-width="0.1">−0.31</text>
<line x1="1550.6" y1="1580.5" x2="1550.6" y2="1588" stroke="#000" stroke-width="2.3"/>
<text transform="translate(1550.6 1318.5) scale(0.800 1)" font-size="23.2" text-anchor="middle" fill="#4d4d4d" stroke="#4d4d4d" stroke-width="0.1">1.08</text>
<line x1="1601.6" y1="1580.5" x2="1601.6" y2="1588" stroke="#000" stroke-width="2.3"/>
<text transform="translate(1601.6 1318.5) scale(0.800 1)" font-size="23.2" text-anchor="middle" fill="#4d4d4d" stroke="#4d4d4d" stroke-width="0.1">1.05</text>
<line x1="1652.5" y1="1580.5" x2="1652.5" y2="1588" stroke="#000" stroke-width="2.3"/>
<text transform="translate(1652.5 1318.5) scale(0.800 1)" font-size="23.2" text-anchor="middle" fill="#4d4d4d" stroke="#4d4d4d" stroke-width="0.1">1.97</text>
<line x1="1703.4" y1="1580.5" x2="1703.4" y2="1588" stroke="#000" stroke-width="2.3"/>
<text transform="translate(1703.4 1318.5) scale(0.800 1)" font-size="23.2" text-anchor="middle" fill="#4d4d4d" stroke="#4d4d4d" stroke-width="0.1">2.63</text>
<line x1="1754.3" y1="1580.5" x2="1754.3" y2="1588" stroke="#000" stroke-width="2.3"/>
<text transform="translate(1752.3 1318.5) scale(0.800 1)" font-size="23.2" text-anchor="middle" fill="#4d4d4d" stroke="#4d4d4d" stroke-width="0.1">−0.72</text>
<text transform="translate(1603.6 1615.5) scale(0.924 1)" font-size="31" text-anchor="middle">Müller glia</text>
<text transform="translate(1375 1448.5) rotate(-90) scale(0.940 1)" font-size="31" text-anchor="middle">MCP1</text>
<path d="M1449.1 1365C1449.1 1367.1 1449.2 1369.1 1449.3 1371.2C1449.3 1372.7 1449.4 1374.3 1449.6 1375.8C1449.8 1378.4 1451.1 1380.9 1451.9 1383.5C1452.6 1386.1 1453.4 1388.6 1454.2 1391.2C1455 1393.8 1455.5 1396.3 1456.5 1398.9C1457.5 1401.5 1459.1 1404 1460.3 1406.6C1461.6 1409.2 1462.9 1411.7 1464.2 1414.3C1465.5 1416.9 1466.9 1419.4 1468 1422C1469.2 1424.6 1470.6 1427.1 1471.1 1429.7C1471.5 1431.7 1471.9 1433.8 1471.9 1435.9C1471.9 1438.9 1471.8 1442 1471.6 1445.1C1471.4 1447.7 1470.9 1450.2 1470.4 1452.8C1469.8 1455.4 1468.9 1457.9 1468 1460.5C1467.2 1463.1 1466.1 1465.6 1465 1468.2C1463.8 1470.8 1462.4 1473.3 1461.1 1475.9C1459.8 1478.5 1458.4 1481 1457.3 1483.6C1456.1 1486.1 1455.1 1488.7 1454.2 1491.3C1453.2 1493.8 1452.4 1496.4 1451.6 1499C1450.9 1501 1449.8 1503.1 1449.7 1505.1C1449.2 1516.2 1449.1 1527.2 1449.1 1538.2L1448.5 1538.2C1448.5 1527.2 1448.4 1516.2 1447.9 1505.1C1447.8 1503.1 1446.7 1501 1446 1499C1445.2 1496.4 1444.4 1493.8 1443.4 1491.3C1442.5 1488.7 1441.5 1486.1 1440.3 1483.6C1439.2 1481 1437.8 1478.5 1436.5 1475.9C1435.2 1473.3 1433.8 1470.8 1432.6 1468.2C1431.5 1465.6 1430.4 1463.1 1429.6 1460.5C1428.7 1457.9 1427.8 1455.4 1427.2 1452.8C1426.7 1450.2 1426.2 1447.7 1426 1445.1C1425.8 1442 1425.7 1438.9 1425.7 1435.9C1425.7 1433.8 1426.1 1431.7 1426.5 1429.7C1427 1427.1 1428.4 1424.6 1429.6 1422C1430.7 1419.4 1432.1 1416.9 1433.4 1414.3C1434.7 1411.7 1436 1409.2 1437.3 1406.6C1438.5 1404 1440.1 1401.5 1441.1 1398.9C1442.1 1396.3 1442.6 1393.8 1443.4 1391.2C1444.2 1388.6 1445 1386.1 1445.7 1383.5C1446.5 1380.9 1447.8 1378.4 1448 1375.8C1448.2 1374.3 1448.3 1372.7 1448.3 1371.2C1448.4 1369.1 1448.5 1367.1 1448.5 1365Z" fill="#DAEBD1" stroke="#0e1a22" stroke-width="1" stroke-linejoin="round"/>
<line x1="1448.8" y1="1365.5" x2="1448.8" y2="1538.5" stroke="#000" stroke-width="1.3"/>
<rect x="1445.9" y="1426" width="5.8" height="37" fill="#FBFDFA" stroke="#000" stroke-width="1.8"/>
<line x1="1445.9" y1="1444.2" x2="1451.7" y2="1444.2" stroke="#000" stroke-width="2.4"/>
<path d="M1500 1368.1C1500 1373.2 1500.1 1378.4 1500.2 1383.5C1500.2 1385.6 1500.3 1387.6 1500.5 1389.7C1500.7 1392.2 1501.9 1394.8 1502.8 1397.4C1503.7 1399.9 1504.9 1402.5 1505.9 1405.1C1506.9 1407.6 1507.9 1410.2 1509 1412.8C1510 1415.3 1511 1417.9 1512 1420.5C1513.1 1423 1514 1425.6 1515.1 1428.2C1516.3 1430.7 1517.9 1433.3 1519 1435.9C1520 1438.4 1521.2 1441 1521.7 1443.6C1522.3 1446.1 1522.8 1448.7 1522.8 1451.3C1522.8 1453.8 1522 1456.4 1521.3 1458.9C1520.5 1461.5 1518.8 1464.1 1517.4 1466.6C1516 1469.2 1514.3 1471.8 1512.8 1474.3C1511.3 1476.9 1509.6 1479.5 1508.2 1482C1506.8 1484.6 1505.4 1487.2 1504.3 1489.7C1503.3 1492.3 1502.2 1494.9 1501.6 1497.4C1501 1499.5 1500.4 1501.5 1500.3 1503.6C1500.1 1516.4 1500 1529.3 1500 1542.1L1499.4 1542.1C1499.4 1529.3 1499.4 1516.4 1499.1 1503.6C1499.1 1501.5 1498.4 1499.5 1497.9 1497.4C1497.2 1494.9 1496.2 1492.3 1495.1 1489.7C1494 1487.2 1492.7 1484.6 1491.3 1482C1489.9 1479.5 1488.2 1476.9 1486.6 1474.3C1485.1 1471.8 1483.4 1469.2 1482 1466.6C1480.6 1464.1 1478.9 1461.5 1478.2 1458.9C1477.4 1456.4 1476.6 1453.8 1476.6 1451.3C1476.6 1448.7 1477.2 1446.1 1477.7 1443.6C1478.2 1441 1479.4 1438.4 1480.5 1435.9C1481.5 1433.3 1483.2 1430.7 1484.3 1428.2C1485.5 1425.6 1486.4 1423 1487.4 1420.5C1488.4 1417.9 1489.5 1415.3 1490.5 1412.8C1491.5 1410.2 1492.5 1407.6 1493.6 1405.1C1494.6 1402.5 1495.8 1399.9 1496.6 1397.4C1497.5 1394.8 1498.7 1392.2 1499 1389.7C1499.1 1387.6 1499.2 1385.6 1499.3 1383.5C1499.4 1378.4 1499.4 1373.2 1499.4 1368.1Z" fill="#A1D8A5" stroke="#0e1a22" stroke-width="1" stroke-linejoin="round"/>
<line x1="1499.7" y1="1368" x2="1499.7" y2="1541.8" stroke="#000" stroke-width="1.3"/>
<rect x="1496.8" y="1432.5" width="5.8" height="33" fill="#F6FBF6" stroke="#000" stroke-width="1.8"/>
<line x1="1496.8" y1="1450" x2="1502.6" y2="1450" stroke="#000" stroke-width="2.4"/>
<path d="M1550.9 1375C1551 1376.3 1551 1377.6 1551.1 1378.9C1551.2 1380.4 1551.2 1382 1551.4 1383.5C1551.6 1385.6 1553.3 1387.6 1554.5 1389.7C1555.6 1391.7 1556.9 1393.8 1558.3 1395.8C1559.7 1397.9 1561.4 1399.9 1563 1402C1564.5 1404 1566.1 1406.1 1567.6 1408.1C1569.1 1410.2 1570.9 1412.2 1571.9 1414.3C1572.7 1416.1 1573.7 1417.9 1573.7 1419.7C1573.7 1421.5 1572.7 1423.3 1571.9 1425.1C1570.8 1427.6 1568.4 1430.2 1566.8 1432.8C1565.2 1435.3 1563.6 1437.9 1562.2 1440.5C1560.8 1443 1559.5 1445.6 1558.3 1448.2C1557.2 1450.7 1556.1 1453.3 1555.3 1455.9C1554.4 1458.4 1553.6 1461 1552.9 1463.6C1552.4 1465.6 1551.5 1467.7 1551.4 1469.7C1551 1482.8 1550.9 1495.9 1550.9 1509L1550.3 1509C1550.3 1495.9 1550.3 1482.8 1549.9 1469.7C1549.8 1467.7 1548.9 1465.6 1548.3 1463.6C1547.6 1461 1546.9 1458.4 1546 1455.9C1545.1 1453.3 1544.1 1450.7 1542.9 1448.2C1541.8 1445.6 1540.5 1443 1539.1 1440.5C1537.7 1437.9 1536.1 1435.3 1534.5 1432.8C1532.9 1430.2 1530.5 1427.6 1529.4 1425.1C1528.6 1423.3 1527.5 1421.5 1527.5 1419.7C1527.5 1417.9 1528.6 1416.1 1529.4 1414.3C1530.3 1412.2 1532.2 1410.2 1533.7 1408.1C1535.2 1406.1 1536.8 1404 1538.3 1402C1539.9 1399.9 1541.5 1397.9 1542.9 1395.8C1544.3 1393.8 1545.7 1391.7 1546.8 1389.7C1547.9 1387.6 1549.6 1385.6 1549.9 1383.5C1550 1382 1550.1 1380.4 1550.2 1378.9C1550.2 1377.6 1550.3 1376.3 1550.3 1375Z" fill="#6DC6B4" stroke="#0e1a22" stroke-width="1" stroke-linejoin="round"/>
<line x1="1550.6" y1="1375" x2="1550.6" y2="1509.8" stroke="#000" stroke-width="1.3"/>
<rect x="1547.7" y="1412.5" width="5.8" height="23" fill="#F0F9F8" stroke="#000" stroke-width="1.8"/>
<line x1="1547.7" y1="1423.5" x2="1553.5" y2="1423.5" stroke="#000" stroke-width="2.4"/>
<path d="M1601.9 1357.3C1601.9 1364 1601.9 1370.7 1602 1377.3C1602 1378.9 1602.2 1380.4 1602.3 1382C1602.6 1384 1604.3 1386.1 1605.4 1388.1C1606.5 1390.2 1607.8 1392.2 1609.3 1394.3C1610.8 1396.3 1612.7 1398.4 1614.6 1400.4C1616.6 1402.5 1619.3 1404.5 1620.8 1406.6C1622.3 1408.7 1623.6 1410.7 1624.2 1412.8C1624.6 1414 1625 1415.3 1625 1416.6C1625 1418.4 1624.4 1420.2 1623.9 1422C1623.2 1424.6 1621.3 1427.1 1620 1429.7C1618.8 1432.3 1617.3 1434.8 1616.2 1437.4C1615 1440 1614.1 1442.5 1613.1 1445.1C1612.1 1447.7 1611.1 1450.2 1610 1452.8C1609 1455.4 1607.9 1457.9 1606.9 1460.5C1606 1463.1 1605.1 1465.6 1604.3 1468.2C1603.7 1470.2 1602.6 1472.3 1602.5 1474.3C1602 1487.9 1601.9 1501.5 1601.9 1515.1L1601.3 1515.1C1601.3 1501.5 1601.1 1487.9 1600.6 1474.3C1600.6 1472.3 1599.4 1470.2 1598.8 1468.2C1598 1465.6 1597.1 1463.1 1596.2 1460.5C1595.2 1457.9 1594.1 1455.4 1593.1 1452.8C1592.1 1450.2 1591 1447.7 1590 1445.1C1589 1442.5 1588.1 1440 1586.9 1437.4C1585.8 1434.8 1584.4 1432.3 1583.1 1429.7C1581.8 1427.1 1580 1424.6 1579.2 1422C1578.7 1420.2 1578.2 1418.4 1578.2 1416.6C1578.2 1415.3 1578.6 1414 1578.9 1412.8C1579.5 1410.7 1580.9 1408.7 1582.3 1406.6C1583.8 1404.5 1586.6 1402.5 1588.5 1400.4C1590.4 1398.4 1592.4 1396.3 1593.9 1394.3C1595.4 1392.2 1596.6 1390.2 1597.7 1388.1C1598.9 1386.1 1600.6 1384 1600.8 1382C1601 1380.4 1601.1 1378.9 1601.1 1377.3C1601.2 1370.7 1601.3 1364 1601.3 1357.3Z" fill="#4AA8D2" stroke="#0e1a22" stroke-width="1" stroke-linejoin="round"/>
<line x1="1601.6" y1="1356.8" x2="1601.6" y2="1515" stroke="#000" stroke-width="1.3"/>
<rect x="1598.7" y="1411.8" width="5.8" height="26.2" fill="#EDF6FA" stroke="#000" stroke-width="1.8"/>
<line x1="1598.7" y1="1423.5" x2="1604.5" y2="1423.5" stroke="#000" stroke-width="2.4"/>
<path d="M1652.8 1330.4C1652.8 1338.9 1652.8 1347.3 1652.9 1355.8C1653 1357.3 1653.3 1358.9 1653.7 1360.4C1654.3 1363 1656.3 1365.5 1657.9 1368.1C1659.4 1370.7 1661.5 1373.2 1663.3 1375.8C1665.1 1378.4 1667 1380.9 1668.6 1383.5C1670.3 1386.1 1672.3 1388.6 1673.3 1391.2C1674.1 1393.3 1674.8 1395.3 1675.1 1397.4C1675.3 1398.9 1675.6 1400.4 1675.6 1402C1675.6 1404 1675.4 1406.1 1675.1 1408.1C1674.8 1410.7 1673.5 1413.3 1672.5 1415.8C1671.5 1418.4 1670 1421 1668.6 1423.5C1667.2 1426.1 1665.6 1428.7 1664 1431.2C1662.5 1433.8 1660.7 1436.4 1659.4 1438.9C1658.1 1441.5 1656.8 1444.1 1655.9 1446.6C1655 1449.2 1654.2 1451.8 1653.7 1454.3C1653.4 1455.9 1653 1457.4 1652.9 1458.9C1652.8 1466.9 1652.8 1474.9 1652.8 1482.8L1652.2 1482.8C1652.2 1474.9 1652.1 1466.9 1652 1458.9C1652 1457.4 1651.6 1455.9 1651.2 1454.3C1650.7 1451.8 1650 1449.2 1649.1 1446.6C1648.2 1444.1 1646.9 1441.5 1645.6 1438.9C1644.2 1436.4 1642.5 1433.8 1640.9 1431.2C1639.4 1428.7 1637.7 1426.1 1636.3 1423.5C1634.9 1421 1633.5 1418.4 1632.5 1415.8C1631.4 1413.3 1630.2 1410.7 1629.8 1408.1C1629.6 1406.1 1629.4 1404 1629.4 1402C1629.4 1400.4 1629.6 1398.9 1629.8 1397.4C1630.1 1395.3 1630.9 1393.3 1631.7 1391.2C1632.7 1388.6 1634.7 1386.1 1636.3 1383.5C1638 1380.9 1639.9 1378.4 1641.7 1375.8C1643.5 1373.2 1645.5 1370.7 1647.1 1368.1C1648.7 1365.5 1650.6 1363 1651.2 1360.4C1651.6 1358.9 1652 1357.3 1652 1355.8C1652.2 1347.3 1652.2 1338.9 1652.2 1330.4Z" fill="#2E7FBB" stroke="#0e1a22" stroke-width="1" stroke-linejoin="round"/>
<line x1="1652.5" y1="1330.5" x2="1652.5" y2="1483" stroke="#000" stroke-width="1.3"/>
<rect x="1649.6" y="1393" width="5.8" height="26.2" fill="#EAF2F8" stroke="#000" stroke-width="1.8"/>
<line x1="1649.6" y1="1405" x2="1655.4" y2="1405" stroke="#000" stroke-width="2.4"/>
<path d="M1703.7 1326.5C1703.7 1331.2 1703.8 1335.8 1703.9 1340.4C1703.9 1341.9 1704 1343.5 1704.2 1345C1704.4 1347.6 1705.7 1350.1 1706.8 1352.7C1707.9 1355.3 1709.5 1357.8 1711.1 1360.4C1712.7 1363 1714.7 1365.5 1716.5 1368.1C1718.3 1370.7 1720.6 1373.2 1721.9 1375.8C1723.2 1378.4 1724.3 1380.9 1725 1383.5C1725.5 1385.6 1726 1387.6 1726.2 1389.7C1726.3 1391.2 1726.5 1392.7 1726.5 1394.3C1726.5 1396.3 1725.7 1398.4 1725 1400.4C1724.1 1403 1722 1405.6 1720.3 1408.1C1718.7 1410.7 1716.6 1413.3 1714.9 1415.8C1713.3 1418.4 1711.7 1421 1710.3 1423.5C1709 1426.1 1707.7 1428.7 1706.8 1431.2C1705.9 1433.8 1705.2 1436.4 1704.6 1438.9C1704.3 1440.5 1703.9 1442 1703.9 1443.6C1703.7 1459.7 1703.7 1475.9 1703.7 1492.1L1703.1 1492.1C1703.1 1475.9 1703.1 1459.7 1702.9 1443.6C1702.9 1442 1702.5 1440.5 1702.2 1438.9C1701.6 1436.4 1700.9 1433.8 1700 1431.2C1699.1 1428.7 1697.8 1426.1 1696.5 1423.5C1695.1 1421 1693.5 1418.4 1691.9 1415.8C1690.2 1413.3 1688.1 1410.7 1686.5 1408.1C1684.8 1405.6 1682.7 1403 1681.8 1400.4C1681.1 1398.4 1680.3 1396.3 1680.3 1394.3C1680.3 1392.7 1680.5 1391.2 1680.6 1389.7C1680.8 1387.6 1681.3 1385.6 1681.8 1383.5C1682.5 1380.9 1683.6 1378.4 1684.9 1375.8C1686.2 1373.2 1688.5 1370.7 1690.3 1368.1C1692.1 1365.5 1694.1 1363 1695.7 1360.4C1697.3 1357.8 1698.9 1355.3 1700 1352.7C1701.1 1350.1 1702.4 1347.6 1702.6 1345C1702.8 1343.5 1702.9 1341.9 1702.9 1340.4C1703 1335.8 1703.1 1331.2 1703.1 1326.5Z" fill="#0F5CA8" stroke="#0e1a22" stroke-width="1" stroke-linejoin="round"/>
<line x1="1703.4" y1="1327.2" x2="1703.4" y2="1492.2" stroke="#000" stroke-width="1.3"/>
<rect x="1700.5" y="1381" width="5.8" height="23.8" fill="#E7EFF6" stroke="#000" stroke-width="1.8"/>
<line x1="1700.5" y1="1393" x2="1706.3" y2="1393" stroke="#000" stroke-width="2.4"/>
<path d="M1754.6 1372.7C1754.6 1380.4 1754.7 1388.1 1754.8 1395.8C1754.8 1397.9 1754.9 1399.9 1755.1 1402C1755.3 1404.5 1755.9 1407.1 1756.6 1409.7C1757.3 1412.2 1758.6 1414.8 1759.7 1417.4C1760.8 1419.9 1762.2 1422.5 1763.6 1425.1C1765 1427.6 1766.6 1430.2 1768.2 1432.8C1769.7 1435.3 1771.5 1437.9 1772.8 1440.5C1774.1 1443 1775.7 1445.6 1776.3 1448.2C1776.9 1450.5 1777.4 1452.8 1777.4 1455.1C1777.4 1457.4 1776.9 1459.7 1776.3 1462C1775.7 1464.6 1774.1 1467.2 1772.8 1469.7C1771.5 1472.3 1769.7 1474.9 1768.2 1477.4C1766.6 1480 1765 1482.6 1763.6 1485.1C1762.2 1487.7 1760.8 1490.3 1759.7 1492.8C1758.6 1495.4 1757.4 1498 1756.6 1500.5C1756 1502.6 1755.1 1504.6 1755.1 1506.7C1754.7 1527.7 1754.6 1548.8 1754.6 1569.8L1754 1569.8C1754 1548.8 1754 1527.7 1753.6 1506.7C1753.5 1504.6 1752.6 1502.6 1752 1500.5C1751.2 1498 1750.1 1495.4 1748.9 1492.8C1747.8 1490.3 1746.5 1487.7 1745.1 1485.1C1743.7 1482.6 1742 1480 1740.5 1477.4C1738.9 1474.9 1737.2 1472.3 1735.8 1469.7C1734.5 1467.2 1732.9 1464.6 1732.3 1462C1731.8 1459.7 1731.2 1457.4 1731.2 1455.1C1731.2 1452.8 1731.8 1450.5 1732.3 1448.2C1732.9 1445.6 1734.5 1443 1735.8 1440.5C1737.2 1437.9 1738.9 1435.3 1740.5 1432.8C1742 1430.2 1743.7 1427.6 1745.1 1425.1C1746.5 1422.5 1747.8 1419.9 1748.9 1417.4C1750.1 1414.8 1751.3 1412.2 1752 1409.7C1752.7 1407.1 1753.3 1404.5 1753.6 1402C1753.7 1399.9 1753.8 1397.9 1753.9 1395.8C1754 1388.1 1754 1380.4 1754 1372.7Z" fill="#273C80" stroke="#0e1a22" stroke-width="1" stroke-linejoin="round"/>
<line x1="1754.3" y1="1373" x2="1754.3" y2="1569.2" stroke="#000" stroke-width="1.3"/>
<rect x="1751.4" y="1444.2" width="5.8" height="28.2" fill="#E9ECF2" stroke="#000" stroke-width="1.8"/>
<line x1="1751.4" y1="1458" x2="1757.2" y2="1458" stroke="#000" stroke-width="2.4"/>
<rect x="1809.4" y="991.2" width="25.5" height="25.2" fill="#DAEBD1" stroke="#1c2b2b" stroke-width="1.2"/>
<text transform="translate(1853.3 1011.1)" font-size="23" text-anchor="start">0 dpc</text>
<rect x="1809.4" y="1026.3" width="25.5" height="25.2" fill="#A1D8A5" stroke="#1c2b2b" stroke-width="1.2"/>
<text transform="translate(1853.3 1046.2)" font-size="23" text-anchor="start">0.5 dpc</text>
<rect x="1809.4" y="1061.4" width="25.5" height="25.2" fill="#6DC6B4" stroke="#1c2b2b" stroke-width="1.2"/>
<text transform="translate(1853.3 1081.3)" font-size="23" text-anchor="start">1 dpc</text>
<rect x="1809.4" y="1096.5" width="25.5" height="25.2" fill="#4AA8D2" stroke="#1c2b2b" stroke-width="1.2"/>
<text transform="translate(1853.3 1116.4)" font-size="23" text-anchor="start">2 dpc</text>
<rect x="1809.4" y="1131.6" width="25.5" height="25.2" fill="#2E7FBB" stroke="#1c2b2b" stroke-width="1.2"/>
<text transform="translate(1853.3 1151.5)" font-size="23" text-anchor="start">4 dpc</text>
<rect x="1809.4" y="1166.7" width="25.5" height="25.2" fill="#0F5CA8" stroke="#1c2b2b" stroke-width="1.2"/>
<text transform="translate(1853.3 1186.6)" font-size="23" text-anchor="start">7 dpc</text>
<rect x="1809.4" y="1201.8" width="25.5" height="25.2" fill="#273C80" stroke="#1c2b2b" stroke-width="1.2"/>
<text transform="translate(1853.3 1221.7)" font-size="23" text-anchor="start">14 dpc</text>
</g>
</svg>
</body>
</html>
